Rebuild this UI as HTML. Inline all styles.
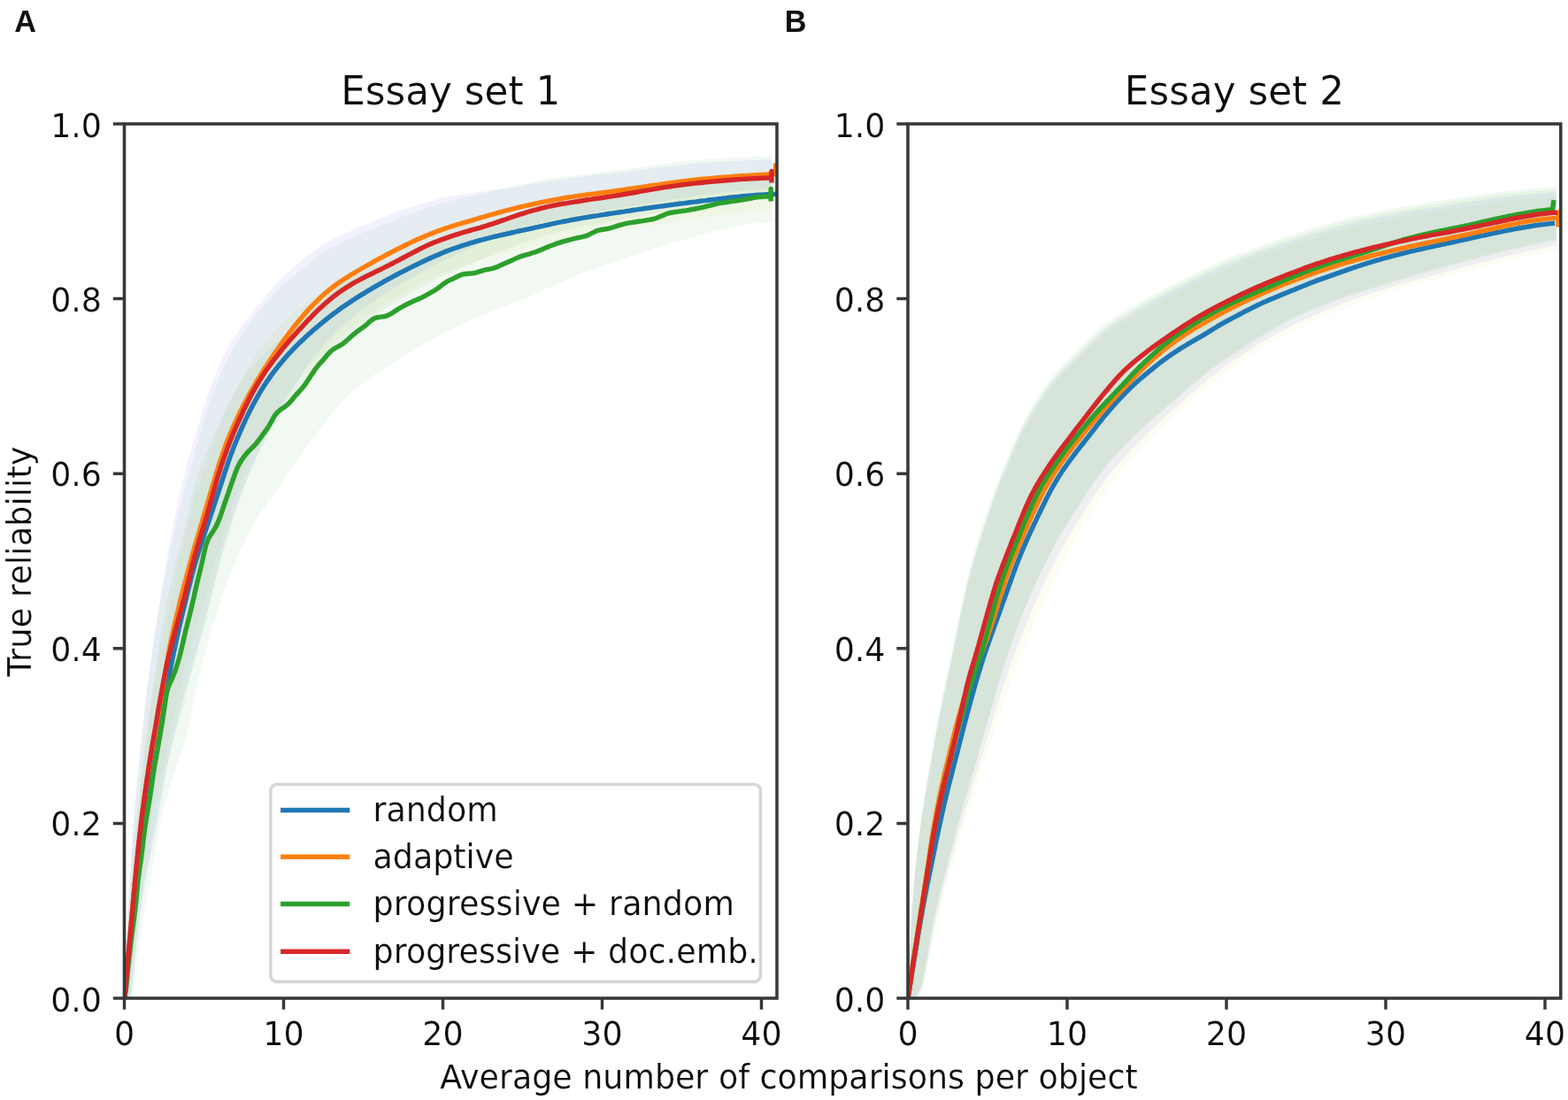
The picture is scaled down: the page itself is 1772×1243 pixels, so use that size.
<!DOCTYPE html>
<html lang="en"><head><meta charset="utf-8"><title>True reliability vs. average number of comparisons per object</title>
<style>html,body{margin:0;padding:0;background:#fff;overflow:hidden}svg{display:block}text{font-family:"DejaVu Sans","Liberation Sans",sans-serif;fill:#0a0a0a;stroke:#fff;stroke-width:0.2px;stroke-linejoin:round}.pl{font-family:"Liberation Sans",sans-serif;font-weight:bold;fill:#111;stroke:none}.ln{fill:none;stroke-width:5.46;stroke-linejoin:round;stroke-linecap:butt}</style></head><body>
<svg width="1772" height="1243" viewBox="0 0 1772 1243">
<g>
<rect width="1772" height="1243" fill="#fff"/>
<defs>
<clipPath id="cL"><rect x="140.5" y="140" width="737.5" height="988"/></clipPath>
<clipPath id="cR"><rect x="1026" y="140" width="737.8" height="988"/></clipPath>
</defs>
<g clip-path="url(#cL)">
<path d="M140.5 1128 L142.5 1093.2 L144.5 1060.2 L146.5 1029.8 L148.5 1001.5 L150.5 977.5 L152.5 955.5 L154.5 934.3 L156.5 913.7 L158.5 893.9 L160.5 874.7 L162.5 856.5 L164.5 839.3 L166.5 822.9 L168.5 807.8 L170.5 793.9 L172.5 781.4 L174.5 770.1 L176.5 759.6 L178.5 749.6 L180.5 739.8 L182.5 730.1 L184.5 720.4 L186.5 711 L188.5 701.5 L190.5 692.1 L192.5 682.7 L194.5 673.2 L196.5 663.7 L198.5 654.1 L200.5 644.5 L202.5 635.1 L204.5 625.9 L206.5 617 L208.5 608.3 L210.5 599.9 L212.5 591.8 L214.5 584.1 L216.5 576.7 L218.5 569.7 L220.5 562.9 L222.5 556.4 L224.5 550.1 L226.5 544 L228.5 537.9 L230.5 532 L232.5 526.3 L234.5 520.7 L236.5 515.2 L238.5 509.9 L240.5 504.8 L242.5 499.7 L244.5 494.7 L246.5 489.6 L248.5 484.5 L250.5 479.4 L252.5 474.2 L254.5 469 L256.5 463.9 L258.5 458.9 L260.5 454 L262.5 449.4 L264.5 444.9 L266.5 440.6 L268.5 436.4 L270.5 432.5 L272.5 428.6 L274.5 424.9 L276.5 421.3 L278.5 417.8 L280.5 414.4 L282.5 411 L284.5 407.7 L286.5 404.6 L288.5 401.5 L290.5 398.6 L292.5 395.7 L294.5 392.9 L296.5 390.1 L298.5 387.5 L300.5 384.9 L302.5 382.4 L304.5 380 L306.5 377.7 L308.5 375.4 L310.5 373.2 L312.5 371.1 L314.5 369 L316.5 367 L318.5 365 L320.5 363.1 L322.5 361.3 L324.5 359.5 L326.5 357.8 L328.5 356.1 L330.5 354.4 L332.5 352.8 L334.5 351.2 L336.5 349.7 L338.5 348.2 L340.5 346.7 L342.5 345.2 L344.5 343.8 L346.5 342.3 L348.5 340.9 L350.5 339.5 L352.5 338.1 L354.5 336.7 L356.5 335.3 L358.5 334 L360.5 332.6 L362.5 331.3 L364.5 330 L366.5 328.7 L368.5 327.4 L370.5 326.1 L372.5 324.9 L374.5 323.6 L376.5 322.4 L378.5 321.2 L380.5 320 L382.5 318.8 L384.5 317.7 L386.5 316.5 L388.5 315.4 L390.5 314.2 L392.5 313.1 L394.5 311.9 L396.5 310.8 L398.5 309.7 L400.5 308.6 L402.5 307.5 L404.5 306.4 L406.5 305.3 L408.5 304.3 L410.5 303.2 L412.5 302.2 L414.5 301.1 L416.5 300.1 L418.5 299.1 L420.5 298.1 L422.5 297.1 L424.5 296.1 L426.5 295.1 L428.5 294.1 L430.5 293.1 L432.5 292.2 L434.5 291.2 L436.5 290.3 L438.5 289.3 L440.5 288.4 L442.5 287.5 L444.5 286.6 L446.5 285.7 L448.5 284.8 L450.5 283.9 L452.5 283 L454.5 282.1 L456.5 281.2 L458.5 280.4 L460.5 279.5 L462.5 278.6 L464.5 277.8 L466.5 276.9 L468.5 276.1 L470.5 275.2 L472.5 274.4 L474.5 273.5 L476.5 272.7 L478.5 271.8 L480.5 271 L482.5 270.1 L484.5 269.3 L486.5 268.5 L488.5 267.6 L490.5 266.8 L492.5 266 L494.5 265.2 L496.5 264.5 L498.5 263.7 L500.5 262.9 L502.5 262.2 L504.5 261.4 L506.5 260.7 L508.5 260 L510.5 259.3 L512.5 258.6 L514.5 257.9 L516.5 257.3 L518.5 256.6 L520.5 256 L522.5 255.4 L524.5 254.7 L526.5 254.1 L528.5 253.5 L530.5 253 L532.5 252.4 L534.5 251.8 L536.5 251.2 L538.5 250.7 L540.5 250.1 L542.5 249.6 L544.5 249.1 L546.5 248.5 L548.5 248 L550.5 247.5 L552.5 247 L554.5 246.5 L556.5 246 L558.5 245.5 L560.5 245 L562.5 244.5 L564.5 244.1 L566.5 243.6 L568.5 243.1 L570.5 242.7 L572.5 242.2 L574.5 241.8 L576.5 241.3 L578.5 240.9 L580.5 240.4 L582.5 240 L584.5 239.6 L586.5 239.2 L588.5 238.7 L590.5 238.3 L592.5 237.9 L594.5 237.5 L596.5 237.1 L598.5 236.7 L600.5 236.3 L602.5 235.9 L604.5 235.5 L606.5 235.1 L608.5 234.7 L610.5 234.3 L612.5 233.9 L614.5 233.5 L616.5 233.1 L618.5 232.7 L620.5 232.3 L622.5 231.9 L624.5 231.5 L626.5 231.1 L628.5 230.8 L630.5 230.4 L632.5 230 L634.5 229.6 L636.5 229.2 L638.5 228.8 L640.5 228.4 L642.5 228.1 L644.5 227.7 L646.5 227.3 L648.5 227 L650.5 226.6 L652.5 226.3 L654.5 226 L656.5 225.6 L658.5 225.3 L660.5 225 L662.5 224.7 L664.5 224.4 L666.5 224 L668.5 223.7 L670.5 223.4 L672.5 223.1 L674.5 222.9 L676.5 222.6 L678.5 222.3 L680.5 222 L682.5 221.7 L684.5 221.4 L686.5 221.2 L688.5 220.9 L690.5 220.6 L692.5 220.3 L694.5 220.1 L696.5 219.8 L698.5 219.6 L700.5 219.3 L702.5 219.1 L704.5 218.8 L706.5 218.6 L708.5 218.4 L710.5 218.1 L712.5 217.9 L714.5 217.7 L716.5 217.4 L718.5 217.2 L720.5 217 L722.5 216.7 L724.5 216.5 L726.5 216.3 L728.5 216 L730.5 215.8 L732.5 215.6 L734.5 215.3 L736.5 215.1 L738.5 214.9 L740.5 214.7 L742.5 214.5 L744.5 214.2 L746.5 214 L748.5 213.8 L750.5 213.6 L752.5 213.4 L754.5 213.1 L756.5 212.9 L758.5 212.7 L760.5 212.5 L762.5 212.3 L764.5 212 L766.5 211.8 L768.5 211.6 L770.5 211.3 L772.5 211.1 L774.5 210.9 L776.5 210.6 L778.5 210.4 L780.5 210.2 L782.5 209.9 L784.5 209.7 L786.5 209.5 L788.5 209.2 L790.5 209 L792.5 208.8 L794.5 208.6 L796.5 208.4 L798.5 208.1 L800.5 207.9 L802.5 207.7 L804.5 207.5 L806.5 207.3 L808.5 207.1 L810.5 206.9 L812.5 206.7 L814.5 206.5 L816.5 206.3 L818.5 206.1 L820.5 205.9 L822.5 205.7 L824.5 205.5 L826.5 205.3 L828.5 205.2 L830.5 205 L832.5 204.8 L834.5 204.6 L836.5 204.5 L838.5 204.3 L840.5 204.1 L842.5 204 L844.5 203.8 L846.5 203.6 L848.5 203.5 L850.5 203.3 L852.5 203.2 L854.5 203 L856.5 202.9 L858.5 202.7 L860.5 202.6 L862.5 202.4 L864.5 202.3 L866.5 202.2 L868.5 202 L870.5 201.9 L872.5 201.8 L872.5 237.4 L870.5 237.5 L868.5 237.6 L866.5 237.7 L864.5 237.9 L862.5 238 L860.5 238.1 L858.5 238.3 L856.5 238.4 L854.5 238.6 L852.5 238.8 L850.5 238.9 L848.5 239.1 L846.5 239.3 L844.5 239.5 L842.5 239.6 L840.5 239.8 L838.5 240 L836.5 240.2 L834.5 240.4 L832.5 240.7 L830.5 240.9 L828.5 241.1 L826.5 241.3 L824.5 241.5 L822.5 241.8 L820.5 242 L818.5 242.3 L816.5 242.5 L814.5 242.7 L812.5 243 L810.5 243.2 L808.5 243.5 L806.5 243.8 L804.5 244 L802.5 244.3 L800.5 244.6 L798.5 244.8 L796.5 245.1 L794.5 245.4 L792.5 245.7 L790.5 245.9 L788.5 246.2 L786.5 246.5 L784.5 246.8 L782.5 247.1 L780.5 247.4 L778.5 247.7 L776.5 248 L774.5 248.3 L772.5 248.6 L770.5 248.9 L768.5 249.2 L766.5 249.5 L764.5 249.8 L762.5 250.1 L760.5 250.4 L758.5 250.7 L756.5 251 L754.5 251.3 L752.5 251.6 L750.5 251.9 L748.5 252.2 L746.5 252.5 L744.5 252.8 L742.5 253.1 L740.5 253.4 L738.5 253.8 L736.5 254.1 L734.5 254.4 L732.5 254.7 L730.5 255.1 L728.5 255.4 L726.5 255.7 L724.5 256.1 L722.5 256.4 L720.5 256.7 L718.5 257.1 L716.5 257.4 L714.5 257.7 L712.5 258.1 L710.5 258.4 L708.5 258.7 L706.5 259.1 L704.5 259.4 L702.5 259.7 L700.5 260.1 L698.5 260.4 L696.5 260.7 L694.5 261.1 L692.5 261.4 L690.5 261.8 L688.5 262.1 L686.5 262.5 L684.5 262.8 L682.5 263.1 L680.5 263.5 L678.5 263.8 L676.5 264.2 L674.5 264.5 L672.5 264.9 L670.5 265.2 L668.5 265.6 L666.5 265.9 L664.5 266.3 L662.5 266.6 L660.5 267 L658.5 267.4 L656.5 267.7 L654.5 268.1 L652.5 268.5 L650.5 268.9 L648.5 269.3 L646.5 269.7 L644.5 270.1 L642.5 270.5 L640.5 270.9 L638.5 271.3 L636.5 271.7 L634.5 272.2 L632.5 272.6 L630.5 273 L628.5 273.5 L626.5 273.9 L624.5 274.3 L622.5 274.8 L620.5 275.2 L618.5 275.6 L616.5 276.1 L614.5 276.5 L612.5 276.9 L610.5 277.4 L608.5 277.8 L606.5 278.2 L604.5 278.7 L602.5 279.1 L600.5 279.5 L598.5 280 L596.5 280.4 L594.5 280.9 L592.5 281.3 L590.5 281.8 L588.5 282.3 L586.5 282.7 L584.5 283.2 L582.5 283.7 L580.5 284.1 L578.5 284.6 L576.5 285.1 L574.5 285.6 L572.5 286 L570.5 286.5 L568.5 287 L566.5 287.5 L564.5 288 L562.5 288.5 L560.5 289 L558.5 289.6 L556.5 290.1 L554.5 290.6 L552.5 291.2 L550.5 291.7 L548.5 292.3 L546.5 292.8 L544.5 293.4 L542.5 293.9 L540.5 294.5 L538.5 295.1 L536.5 295.7 L534.5 296.3 L532.5 296.9 L530.5 297.5 L528.5 298.2 L526.5 298.8 L524.5 299.5 L522.5 300.1 L520.5 300.8 L518.5 301.5 L516.5 302.2 L514.5 302.9 L512.5 303.6 L510.5 304.4 L508.5 305.1 L506.5 305.9 L504.5 306.7 L502.5 307.5 L500.5 308.4 L498.5 309.2 L496.5 310.1 L494.5 311 L492.5 311.9 L490.5 312.8 L488.5 313.8 L486.5 314.7 L484.5 315.7 L482.5 316.7 L480.5 317.7 L478.5 318.8 L476.5 319.8 L474.5 320.9 L472.5 322 L470.5 323 L468.5 324.1 L466.5 325.2 L464.5 326.4 L462.5 327.5 L460.5 328.6 L458.5 329.7 L456.5 330.9 L454.5 332.1 L452.5 333.2 L450.5 334.4 L448.5 335.6 L446.5 336.8 L444.5 338 L442.5 339.3 L440.5 340.5 L438.5 341.8 L436.5 343 L434.5 344.3 L432.5 345.6 L430.5 346.9 L428.5 348.2 L426.5 349.5 L424.5 350.9 L422.5 352.2 L420.5 353.6 L418.5 354.9 L416.5 356.3 L414.5 357.7 L412.5 359.1 L410.5 360.5 L408.5 361.9 L406.5 363.4 L404.5 364.9 L402.5 366.3 L400.5 367.8 L398.5 369.4 L396.5 370.9 L394.5 372.5 L392.5 374.1 L390.5 375.7 L388.5 377.3 L386.5 379 L384.5 380.6 L382.5 382.3 L380.5 384 L378.5 385.7 L376.5 387.5 L374.5 389.3 L372.5 391.1 L370.5 392.9 L368.5 394.7 L366.5 396.6 L364.5 398.5 L362.5 400.5 L360.5 402.4 L358.5 404.4 L356.5 406.5 L354.5 408.5 L352.5 410.6 L350.5 412.8 L348.5 415 L346.5 417.2 L344.5 419.5 L342.5 421.8 L340.5 424.2 L338.5 426.6 L336.5 429 L334.5 431.5 L332.5 434.1 L330.5 436.6 L328.5 439.2 L326.5 441.9 L324.5 444.6 L322.5 447.3 L320.5 450.1 L318.5 452.9 L316.5 455.8 L314.5 458.7 L312.5 461.7 L310.5 464.7 L308.5 467.8 L306.5 471 L304.5 474.3 L302.5 477.6 L300.5 481.1 L298.5 484.6 L296.5 488.3 L294.5 492 L292.5 495.9 L290.5 499.9 L288.5 503.9 L286.5 508.1 L284.5 512.5 L282.5 517 L280.5 521.6 L278.5 526.4 L276.5 531.4 L274.5 536.5 L272.5 541.7 L270.5 547.1 L268.5 552.6 L266.5 558.4 L264.5 564.3 L262.5 570.4 L260.5 576.8 L258.5 583.3 L256.5 589.9 L254.5 596.7 L252.5 603.5 L250.5 610.2 L248.5 616.9 L246.5 623.6 L244.5 630.4 L242.5 637.3 L240.5 644.2 L238.5 651.1 L236.5 658 L234.5 664.9 L232.5 671.6 L230.5 678.3 L228.5 684.8 L226.5 691.5 L224.5 698.3 L222.5 705.1 L220.5 712.1 L218.5 719.3 L216.5 726.6 L214.5 734.2 L212.5 742 L210.5 750 L208.5 758.2 L206.5 766.5 L204.5 775.1 L202.5 783.7 L200.5 792.5 L198.5 801.5 L196.5 810.5 L194.5 819.4 L192.5 828.3 L190.5 837.1 L188.5 845.8 L186.5 854.5 L184.5 863.1 L182.5 871.8 L180.5 880.5 L178.5 889.2 L176.5 898 L174.5 906.9 L172.5 916.2 L170.5 926.3 L168.5 937.6 L166.5 949.8 L164.5 962.5 L162.5 975.5 L160.5 989.4 L158.5 1004.6 L156.5 1021.2 L154.5 1039.1 L152.5 1057.4 L150.5 1075.2 L148.5 1091.7 L146.5 1103.9 L144.5 1114.4 L142.5 1122.8 L140.5 1128Z" fill="rgba(191,191,0,0.05)"/>
<path d="M140.5 1128 L142.5 1079.6 L144.5 1035.1 L146.5 995.4 L148.5 959.7 L150.5 933 L152.5 909.8 L154.5 888 L156.5 867.3 L158.5 847.5 L160.5 827.9 L162.5 808.8 L164.5 790.6 L166.5 773.9 L168.5 759.2 L170.5 745.5 L172.5 732.2 L174.5 719 L176.5 706.3 L178.5 694 L180.5 681.9 L182.5 669.3 L184.5 656.3 L186.5 643.5 L188.5 631.2 L190.5 619.6 L192.5 608.5 L194.5 598.2 L196.5 588.4 L198.5 579.1 L200.5 570 L202.5 561 L204.5 552.1 L206.5 543.6 L208.5 535.6 L210.5 528 L212.5 520.8 L214.5 513.7 L216.5 506.7 L218.5 499.8 L220.5 492.9 L222.5 486 L224.5 479.3 L226.5 472.6 L228.5 466 L230.5 459.4 L232.5 453.1 L234.5 447.2 L236.5 441.6 L238.5 436.4 L240.5 431.3 L242.5 426.3 L244.5 421.4 L246.5 416.5 L248.5 411.7 L250.5 407 L252.5 402.6 L254.5 398.5 L256.5 394.6 L258.5 390.9 L260.5 387.3 L262.5 384 L264.5 380.8 L266.5 377.8 L268.5 374.9 L270.5 372.1 L272.5 369.4 L274.5 366.7 L276.5 364.1 L278.5 361.5 L280.5 358.9 L282.5 356.3 L284.5 353.8 L286.5 351.2 L288.5 348.7 L290.5 346.3 L292.5 343.8 L294.5 341.4 L296.5 339.1 L298.5 336.7 L300.5 334.4 L302.5 332.1 L304.5 329.8 L306.5 327.6 L308.5 325.4 L310.5 323.1 L312.5 321 L314.5 318.8 L316.5 316.7 L318.5 314.7 L320.5 312.6 L322.5 310.7 L324.5 308.7 L326.5 306.8 L328.5 305 L330.5 303.2 L332.5 301.4 L334.5 299.7 L336.5 298 L338.5 296.3 L340.5 294.7 L342.5 293.1 L344.5 291.5 L346.5 289.9 L348.5 288.4 L350.5 286.9 L352.5 285.4 L354.5 284 L356.5 282.5 L358.5 281.2 L360.5 279.8 L362.5 278.5 L364.5 277.3 L366.5 276.1 L368.5 274.9 L370.5 273.7 L372.5 272.6 L374.5 271.5 L376.5 270.4 L378.5 269.4 L380.5 268.3 L382.5 267.3 L384.5 266.3 L386.5 265.4 L388.5 264.4 L390.5 263.5 L392.5 262.6 L394.5 261.7 L396.5 260.8 L398.5 259.9 L400.5 259 L402.5 258.2 L404.5 257.3 L406.5 256.5 L408.5 255.6 L410.5 254.8 L412.5 253.9 L414.5 253.1 L416.5 252.2 L418.5 251.4 L420.5 250.6 L422.5 249.8 L424.5 249 L426.5 248.2 L428.5 247.4 L430.5 246.6 L432.5 245.8 L434.5 245 L436.5 244.3 L438.5 243.5 L440.5 242.7 L442.5 242 L444.5 241.2 L446.5 240.5 L448.5 239.8 L450.5 239.1 L452.5 238.3 L454.5 237.6 L456.5 236.9 L458.5 236.2 L460.5 235.5 L462.5 234.8 L464.5 234.2 L466.5 233.5 L468.5 232.8 L470.5 232.2 L472.5 231.5 L474.5 230.9 L476.5 230.3 L478.5 229.6 L480.5 229 L482.5 228.4 L484.5 227.8 L486.5 227.3 L488.5 226.7 L490.5 226.2 L492.5 225.6 L494.5 225.1 L496.5 224.6 L498.5 224.1 L500.5 223.7 L502.5 223.2 L504.5 222.8 L506.5 222.4 L508.5 222 L510.5 221.6 L512.5 221.2 L514.5 220.9 L516.5 220.6 L518.5 220.2 L520.5 219.9 L522.5 219.6 L524.5 219.3 L526.5 219.1 L528.5 218.8 L530.5 218.5 L532.5 218.2 L534.5 218 L536.5 217.7 L538.5 217.4 L540.5 217.2 L542.5 216.9 L544.5 216.7 L546.5 216.4 L548.5 216.1 L550.5 215.9 L552.5 215.6 L554.5 215.3 L556.5 215.1 L558.5 214.8 L560.5 214.5 L562.5 214.2 L564.5 213.9 L566.5 213.6 L568.5 213.3 L570.5 213 L572.5 212.7 L574.5 212.4 L576.5 212.1 L578.5 211.7 L580.5 211.4 L582.5 211.1 L584.5 210.7 L586.5 210.4 L588.5 210.1 L590.5 209.7 L592.5 209.3 L594.5 209 L596.5 208.6 L598.5 208.3 L600.5 207.9 L602.5 207.6 L604.5 207.2 L606.5 206.9 L608.5 206.6 L610.5 206.2 L612.5 205.9 L614.5 205.6 L616.5 205.3 L618.5 204.9 L620.5 204.6 L622.5 204.3 L624.5 204 L626.5 203.7 L628.5 203.4 L630.5 203.1 L632.5 202.8 L634.5 202.5 L636.5 202.2 L638.5 201.9 L640.5 201.7 L642.5 201.4 L644.5 201.1 L646.5 200.9 L648.5 200.6 L650.5 200.4 L652.5 200.1 L654.5 199.9 L656.5 199.7 L658.5 199.4 L660.5 199.2 L662.5 199 L664.5 198.7 L666.5 198.5 L668.5 198.3 L670.5 198 L672.5 197.8 L674.5 197.6 L676.5 197.4 L678.5 197.1 L680.5 196.9 L682.5 196.7 L684.5 196.5 L686.5 196.2 L688.5 196 L690.5 195.8 L692.5 195.6 L694.5 195.3 L696.5 195.1 L698.5 194.9 L700.5 194.6 L702.5 194.4 L704.5 194.1 L706.5 193.9 L708.5 193.7 L710.5 193.4 L712.5 193.2 L714.5 192.9 L716.5 192.7 L718.5 192.5 L720.5 192.2 L722.5 192 L724.5 191.7 L726.5 191.5 L728.5 191.2 L730.5 191 L732.5 190.7 L734.5 190.5 L736.5 190.2 L738.5 190 L740.5 189.8 L742.5 189.5 L744.5 189.3 L746.5 189 L748.5 188.8 L750.5 188.6 L752.5 188.3 L754.5 188.1 L756.5 187.9 L758.5 187.6 L760.5 187.4 L762.5 187.2 L764.5 187 L766.5 186.8 L768.5 186.5 L770.5 186.3 L772.5 186.1 L774.5 185.9 L776.5 185.7 L778.5 185.5 L780.5 185.3 L782.5 185.1 L784.5 184.9 L786.5 184.8 L788.5 184.6 L790.5 184.4 L792.5 184.3 L794.5 184.1 L796.5 184 L798.5 183.8 L800.5 183.7 L802.5 183.6 L804.5 183.4 L806.5 183.3 L808.5 183.2 L810.5 183 L812.5 182.9 L814.5 182.8 L816.5 182.7 L818.5 182.6 L820.5 182.5 L822.5 182.3 L824.5 182.2 L826.5 182.1 L828.5 182 L830.5 181.9 L832.5 181.8 L834.5 181.7 L836.5 181.6 L838.5 181.5 L840.5 181.4 L842.5 181.3 L844.5 181.2 L846.5 181.2 L848.5 181.1 L850.5 181 L852.5 180.9 L854.5 180.8 L856.5 180.7 L858.5 180.6 L860.5 180.5 L862.5 180.4 L864.5 180.3 L866.5 180.3 L868.5 180.2 L870.5 180.1 L872.5 180 L872.5 213.6 L870.5 213.7 L868.5 213.8 L866.5 213.8 L864.5 213.9 L862.5 214 L860.5 214.1 L858.5 214.2 L856.5 214.3 L854.5 214.4 L852.5 214.5 L850.5 214.7 L848.5 214.8 L846.5 214.9 L844.5 215.1 L842.5 215.2 L840.5 215.4 L838.5 215.5 L836.5 215.7 L834.5 215.9 L832.5 216.1 L830.5 216.2 L828.5 216.4 L826.5 216.6 L824.5 216.8 L822.5 217 L820.5 217.3 L818.5 217.5 L816.5 217.7 L814.5 217.9 L812.5 218.2 L810.5 218.4 L808.5 218.6 L806.5 218.9 L804.5 219.1 L802.5 219.4 L800.5 219.6 L798.5 219.9 L796.5 220.1 L794.5 220.4 L792.5 220.7 L790.5 220.9 L788.5 221.2 L786.5 221.5 L784.5 221.8 L782.5 222.1 L780.5 222.4 L778.5 222.7 L776.5 223 L774.5 223.3 L772.5 223.6 L770.5 223.9 L768.5 224.2 L766.5 224.5 L764.5 224.8 L762.5 225.1 L760.5 225.4 L758.5 225.7 L756.5 226 L754.5 226.3 L752.5 226.6 L750.5 227 L748.5 227.3 L746.5 227.6 L744.5 227.9 L742.5 228.2 L740.5 228.6 L738.5 228.9 L736.5 229.2 L734.5 229.5 L732.5 229.9 L730.5 230.2 L728.5 230.5 L726.5 230.8 L724.5 231.2 L722.5 231.5 L720.5 231.8 L718.5 232.2 L716.5 232.5 L714.5 232.8 L712.5 233.2 L710.5 233.5 L708.5 233.8 L706.5 234.1 L704.5 234.5 L702.5 234.8 L700.5 235.1 L698.5 235.5 L696.5 235.8 L694.5 236.1 L692.5 236.4 L690.5 236.8 L688.5 237.1 L686.5 237.4 L684.5 237.8 L682.5 238.1 L680.5 238.4 L678.5 238.7 L676.5 239.1 L674.5 239.4 L672.5 239.7 L670.5 240.1 L668.5 240.4 L666.5 240.7 L664.5 241 L662.5 241.4 L660.5 241.7 L658.5 242.1 L656.5 242.4 L654.5 242.7 L652.5 243.1 L650.5 243.4 L648.5 243.8 L646.5 244.1 L644.5 244.5 L642.5 244.9 L640.5 245.3 L638.5 245.6 L636.5 246 L634.5 246.4 L632.5 246.8 L630.5 247.3 L628.5 247.7 L626.5 248.1 L624.5 248.6 L622.5 249 L620.5 249.5 L618.5 249.9 L616.5 250.4 L614.5 250.8 L612.5 251.3 L610.5 251.8 L608.5 252.3 L606.5 252.8 L604.5 253.3 L602.5 253.8 L600.5 254.4 L598.5 254.9 L596.5 255.4 L594.5 256 L592.5 256.6 L590.5 257.1 L588.5 257.7 L586.5 258.3 L584.5 258.9 L582.5 259.6 L580.5 260.2 L578.5 260.9 L576.5 261.6 L574.5 262.3 L572.5 263 L570.5 263.8 L568.5 264.5 L566.5 265.3 L564.5 266.1 L562.5 266.9 L560.5 267.7 L558.5 268.5 L556.5 269.4 L554.5 270.2 L552.5 271 L550.5 271.9 L548.5 272.7 L546.5 273.6 L544.5 274.5 L542.5 275.3 L540.5 276.2 L538.5 277.1 L536.5 278 L534.5 278.9 L532.5 279.8 L530.5 280.7 L528.5 281.6 L526.5 282.5 L524.5 283.4 L522.5 284.3 L520.5 285.2 L518.5 286.2 L516.5 287.1 L514.5 288 L512.5 289 L510.5 289.9 L508.5 290.9 L506.5 291.9 L504.5 292.8 L502.5 293.8 L500.5 294.8 L498.5 295.8 L496.5 296.8 L494.5 297.8 L492.5 298.8 L490.5 299.9 L488.5 300.9 L486.5 302 L484.5 303 L482.5 304.1 L480.5 305.2 L478.5 306.3 L476.5 307.4 L474.5 308.5 L472.5 309.6 L470.5 310.7 L468.5 311.9 L466.5 313 L464.5 314.2 L462.5 315.3 L460.5 316.5 L458.5 317.7 L456.5 318.9 L454.5 320 L452.5 321.3 L450.5 322.5 L448.5 323.7 L446.5 324.9 L444.5 326.2 L442.5 327.4 L440.5 328.7 L438.5 330 L436.5 331.3 L434.5 332.6 L432.5 333.9 L430.5 335.3 L428.5 336.6 L426.5 338 L424.5 339.4 L422.5 340.8 L420.5 342.2 L418.5 343.7 L416.5 345.1 L414.5 346.6 L412.5 348.1 L410.5 349.6 L408.5 351.1 L406.5 352.7 L404.5 354.2 L402.5 355.8 L400.5 357.4 L398.5 359 L396.5 360.7 L394.5 362.4 L392.5 364.1 L390.5 365.8 L388.5 367.6 L386.5 369.3 L384.5 371.2 L382.5 373 L380.5 374.9 L378.5 376.8 L376.5 378.8 L374.5 380.8 L372.5 382.9 L370.5 385 L368.5 387.1 L366.5 389.3 L364.5 391.6 L362.5 393.9 L360.5 396.2 L358.5 398.6 L356.5 401.1 L354.5 403.7 L352.5 406.3 L350.5 409 L348.5 411.8 L346.5 414.7 L344.5 417.6 L342.5 420.6 L340.5 423.7 L338.5 426.8 L336.5 429.9 L334.5 433.1 L332.5 436.4 L330.5 439.7 L328.5 443.1 L326.5 446.5 L324.5 449.9 L322.5 453.4 L320.5 456.9 L318.5 460.4 L316.5 464 L314.5 467.6 L312.5 471.3 L310.5 474.9 L308.5 478.7 L306.5 482.4 L304.5 486.2 L302.5 490.1 L300.5 494 L298.5 497.9 L296.5 501.9 L294.5 506 L292.5 510.1 L290.5 514.4 L288.5 518.7 L286.5 523.1 L284.5 527.7 L282.5 532.3 L280.5 537.1 L278.5 542 L276.5 547 L274.5 552.2 L272.5 557.5 L270.5 562.8 L268.5 568.4 L266.5 574 L264.5 579.9 L262.5 585.9 L260.5 592 L258.5 598.4 L256.5 604.9 L254.5 611.6 L252.5 618.5 L250.5 625.7 L248.5 633 L246.5 640.6 L244.5 648.6 L242.5 656.8 L240.5 665 L238.5 673.2 L236.5 681.3 L234.5 689.2 L232.5 697 L230.5 704.4 L228.5 711.7 L226.5 719.1 L224.5 726.3 L222.5 733.6 L220.5 740.9 L218.5 748.3 L216.5 755.5 L214.5 762.6 L212.5 769.7 L210.5 776.8 L208.5 783.9 L206.5 791.2 L204.5 798.9 L202.5 806.6 L200.5 814.5 L198.5 822.4 L196.5 830.6 L194.5 839.2 L192.5 848.6 L190.5 858.6 L188.5 869.2 L186.5 880.3 L184.5 891.9 L182.5 903.6 L180.5 914.7 L178.5 925.2 L176.5 935.5 L174.5 945.8 L172.5 955.9 L170.5 965.4 L168.5 974.8 L166.5 984.7 L164.5 994.8 L162.5 1005.5 L160.5 1017.4 L158.5 1031.2 L156.5 1047.5 L154.5 1065.6 L152.5 1084.8 L150.5 1104 L148.5 1121.1 L146.5 1129.7 L144.5 1134.8 L142.5 1134.8 L140.5 1128Z" fill="rgba(0,0,255,0.05)"/>
<path d="M140.5 1128 L142.5 1086.2 L144.5 1048.5 L146.5 1014.9 L148.5 985 L150.5 964.3 L152.5 946.3 L154.5 929 L156.5 911.6 L158.5 894.3 L160.5 876.7 L162.5 859 L164.5 841.5 L166.5 824.9 L168.5 809.5 L170.5 794.7 L172.5 780.7 L174.5 767 L176.5 752.6 L178.5 737.4 L180.5 723.2 L182.5 710.7 L184.5 699.5 L186.5 689.1 L188.5 679.4 L190.5 670.1 L192.5 661.2 L194.5 652.7 L196.5 644.4 L198.5 636.3 L200.5 628.3 L202.5 620.5 L204.5 612.6 L206.5 604.9 L208.5 597.2 L210.5 589.5 L212.5 581.6 L214.5 573.4 L216.5 564.3 L218.5 555.3 L220.5 547.2 L222.5 540.1 L224.5 533.8 L226.5 528 L228.5 522.5 L230.5 517.2 L232.5 512.1 L234.5 507.3 L236.5 502.7 L238.5 498.3 L240.5 493.9 L242.5 489.4 L244.5 485 L246.5 480.4 L248.5 475.8 L250.5 471.4 L252.5 467.1 L254.5 463 L256.5 459.1 L258.5 455.3 L260.5 451.7 L262.5 448.2 L264.5 444.9 L266.5 441.5 L268.5 438.1 L270.5 434.6 L272.5 431.2 L274.5 427.9 L276.5 424.9 L278.5 422.1 L280.5 419.4 L282.5 416.9 L284.5 414.4 L286.5 412.1 L288.5 410 L290.5 407.9 L292.5 405.8 L294.5 403.9 L296.5 402 L298.5 400.1 L300.5 398.3 L302.5 396.5 L304.5 394.7 L306.5 393 L308.5 391.2 L310.5 389.4 L312.5 387.6 L314.5 385.8 L316.5 384.1 L318.5 382.2 L320.5 380.4 L322.5 378.4 L324.5 376.4 L326.5 374.3 L328.5 372.3 L330.5 370.2 L332.5 368.1 L334.5 366 L336.5 364 L338.5 362 L340.5 360 L342.5 358 L344.5 356.1 L346.5 354.2 L348.5 352.3 L350.5 350.5 L352.5 348.7 L354.5 347 L356.5 345.2 L358.5 343.5 L360.5 341.8 L362.5 340 L364.5 338.3 L366.5 336.5 L368.5 334.8 L370.5 333.1 L372.5 331.4 L374.5 329.7 L376.5 328.2 L378.5 326.6 L380.5 325.2 L382.5 323.8 L384.5 322.4 L386.5 321.1 L388.5 319.9 L390.5 318.7 L392.5 317.5 L394.5 316.3 L396.5 315.2 L398.5 314.1 L400.5 313 L402.5 311.9 L404.5 310.9 L406.5 309.9 L408.5 308.9 L410.5 307.9 L412.5 307 L414.5 306 L416.5 305.1 L418.5 304.2 L420.5 303.3 L422.5 302.4 L424.5 301.5 L426.5 300.7 L428.5 299.8 L430.5 298.9 L432.5 298.1 L434.5 297.2 L436.5 296.3 L438.5 295.5 L440.5 294.6 L442.5 293.7 L444.5 292.9 L446.5 292 L448.5 291 L450.5 290.1 L452.5 289.1 L454.5 288.1 L456.5 287.2 L458.5 286.3 L460.5 285.3 L462.5 284.4 L464.5 283.5 L466.5 282.7 L468.5 281.8 L470.5 280.9 L472.5 280 L474.5 279.1 L476.5 278.2 L478.5 277.4 L480.5 276.5 L482.5 275.7 L484.5 274.8 L486.5 274 L488.5 273.2 L490.5 272.4 L492.5 271.6 L494.5 270.8 L496.5 270.1 L498.5 269.3 L500.5 268.5 L502.5 267.7 L504.5 266.9 L506.5 266.1 L508.5 265.4 L510.5 264.6 L512.5 263.9 L514.5 263.2 L516.5 262.5 L518.5 261.8 L520.5 261.1 L522.5 260.4 L524.5 259.8 L526.5 259.1 L528.5 258.5 L530.5 257.9 L532.5 257.2 L534.5 256.6 L536.5 256 L538.5 255.4 L540.5 254.8 L542.5 254.2 L544.5 253.6 L546.5 253.1 L548.5 252.5 L550.5 251.9 L552.5 251.4 L554.5 250.8 L556.5 250.3 L558.5 249.7 L560.5 249.2 L562.5 248.7 L564.5 248.2 L566.5 247.6 L568.5 247.1 L570.5 246.6 L572.5 246.1 L574.5 245.6 L576.5 245.1 L578.5 244.5 L580.5 244 L582.5 243.5 L584.5 243 L586.5 242.5 L588.5 242 L590.5 241.5 L592.5 241 L594.5 240.4 L596.5 239.9 L598.5 239.4 L600.5 238.8 L602.5 238.2 L604.5 237.7 L606.5 237.1 L608.5 236.5 L610.5 235.9 L612.5 235.3 L614.5 234.7 L616.5 234.1 L618.5 233.6 L620.5 233.1 L622.5 232.5 L624.5 232 L626.5 231.5 L628.5 230.9 L630.5 230.4 L632.5 229.9 L634.5 229.3 L636.5 228.8 L638.5 228.3 L640.5 227.9 L642.5 227.4 L644.5 226.9 L646.5 226.5 L648.5 226 L650.5 225.6 L652.5 225.1 L654.5 224.7 L656.5 224.3 L658.5 223.9 L660.5 223.5 L662.5 223.1 L664.5 222.7 L666.5 222.4 L668.5 222 L670.5 221.6 L672.5 221.3 L674.5 220.9 L676.5 220.5 L678.5 220.1 L680.5 219.8 L682.5 219.4 L684.5 219 L686.5 218.7 L688.5 218.3 L690.5 218 L692.5 217.7 L694.5 217.3 L696.5 217 L698.5 216.7 L700.5 216.4 L702.5 216.1 L704.5 215.8 L706.5 215.5 L708.5 215.2 L710.5 214.9 L712.5 214.6 L714.5 214.3 L716.5 214 L718.5 213.7 L720.5 213.4 L722.5 213.2 L724.5 212.9 L726.5 212.6 L728.5 212.3 L730.5 212 L732.5 211.8 L734.5 211.5 L736.5 211.2 L738.5 210.9 L740.5 210.6 L742.5 210.4 L744.5 210.1 L746.5 209.8 L748.5 209.6 L750.5 209.3 L752.5 209 L754.5 208.8 L756.5 208.5 L758.5 208.2 L760.5 207.9 L762.5 207.6 L764.5 207.3 L766.5 207 L768.5 206.7 L770.5 206.4 L772.5 206 L774.5 205.7 L776.5 205.4 L778.5 205.1 L780.5 204.8 L782.5 204.5 L784.5 204.2 L786.5 203.9 L788.5 203.6 L790.5 203.3 L792.5 203 L794.5 202.7 L796.5 202.4 L798.5 202.1 L800.5 201.8 L802.5 201.5 L804.5 201.2 L806.5 201 L808.5 200.7 L810.5 200.4 L812.5 200.1 L814.5 199.9 L816.5 199.6 L818.5 199.3 L820.5 199.1 L822.5 198.8 L824.5 198.6 L826.5 198.3 L828.5 198.1 L830.5 197.8 L832.5 197.6 L834.5 197.3 L836.5 197.1 L838.5 196.8 L840.5 196.6 L842.5 196.3 L844.5 196.1 L846.5 195.9 L848.5 195.6 L850.5 195.4 L852.5 195.2 L854.5 195 L856.5 194.7 L858.5 194.5 L860.5 194.3 L862.5 194.1 L864.5 193.9 L866.5 193.7 L868.5 193.5 L870.5 193.3 L872.5 193.2 L872.5 250.6 L870.5 250.6 L868.5 250.8 L866.5 251 L864.5 251.2 L862.5 251.4 L860.5 251.6 L858.5 251.8 L856.5 252.1 L854.5 252.3 L852.5 252.6 L850.5 252.9 L848.5 253.2 L846.5 253.5 L844.5 253.8 L842.5 254.1 L840.5 254.5 L838.5 254.8 L836.5 255.2 L834.5 255.6 L832.5 256 L830.5 256.4 L828.5 256.8 L826.5 257.2 L824.5 257.6 L822.5 258.1 L820.5 258.5 L818.5 259 L816.5 259.4 L814.5 259.9 L812.5 260.4 L810.5 260.9 L808.5 261.4 L806.5 261.9 L804.5 262.4 L802.5 262.9 L800.5 263.4 L798.5 263.9 L796.5 264.5 L794.5 265 L792.5 265.5 L790.5 266.1 L788.5 266.6 L786.5 267.2 L784.5 267.7 L782.5 268.3 L780.5 268.8 L778.5 269.4 L776.5 269.9 L774.5 270.5 L772.5 271 L770.5 271.6 L768.5 272.1 L766.5 272.7 L764.5 273.2 L762.5 273.8 L760.5 274.4 L758.5 275 L756.5 275.6 L754.5 276.2 L752.5 276.7 L750.5 277.3 L748.5 277.9 L746.5 278.5 L744.5 279.1 L742.5 279.7 L740.5 280.3 L738.5 281 L736.5 281.6 L734.5 282.2 L732.5 282.9 L730.5 283.5 L728.5 284.2 L726.5 284.9 L724.5 285.5 L722.5 286.2 L720.5 286.9 L718.5 287.5 L716.5 288.2 L714.5 288.9 L712.5 289.5 L710.5 290.2 L708.5 290.9 L706.5 291.6 L704.5 292.3 L702.5 293 L700.5 293.7 L698.5 294.4 L696.5 295.1 L694.5 295.8 L692.5 296.5 L690.5 297.2 L688.5 297.9 L686.5 298.6 L684.5 299.3 L682.5 300.1 L680.5 300.8 L678.5 301.5 L676.5 302.2 L674.5 303 L672.5 303.7 L670.5 304.4 L668.5 305.1 L666.5 305.9 L664.5 306.6 L662.5 307.3 L660.5 308.1 L658.5 308.8 L656.5 309.6 L654.5 310.4 L652.5 311.2 L650.5 312 L648.5 312.8 L646.5 313.7 L644.5 314.5 L642.5 315.3 L640.5 316.1 L638.5 317 L636.5 317.9 L634.5 318.7 L632.5 319.6 L630.5 320.5 L628.5 321.4 L626.5 322.3 L624.5 323.2 L622.5 324.1 L620.5 324.9 L618.5 325.8 L616.5 326.7 L614.5 327.6 L612.5 328.6 L610.5 329.5 L608.5 330.4 L606.5 331.3 L604.5 332.3 L602.5 333.2 L600.5 334.1 L598.5 334.9 L596.5 335.8 L594.5 336.7 L592.5 337.5 L590.5 338.3 L588.5 339.1 L586.5 339.9 L584.5 340.7 L582.5 341.5 L580.5 342.3 L578.5 343.1 L576.5 343.9 L574.5 344.7 L572.5 345.5 L570.5 346.2 L568.5 347 L566.5 347.8 L564.5 348.6 L562.5 349.3 L560.5 350.1 L558.5 350.9 L556.5 351.7 L554.5 352.5 L552.5 353.3 L550.5 354.1 L548.5 354.9 L546.5 355.7 L544.5 356.5 L542.5 357.3 L540.5 358.2 L538.5 359 L536.5 359.9 L534.5 360.7 L532.5 361.6 L530.5 362.5 L528.5 363.3 L526.5 364.2 L524.5 365.1 L522.5 366.1 L520.5 367 L518.5 367.9 L516.5 368.9 L514.5 369.8 L512.5 370.8 L510.5 371.8 L508.5 372.9 L506.5 373.9 L504.5 375 L502.5 376.1 L500.5 377.2 L498.5 378.3 L496.5 379.3 L494.5 380.4 L492.5 381.5 L490.5 382.6 L488.5 383.7 L486.5 384.8 L484.5 385.9 L482.5 387 L480.5 388.1 L478.5 389.3 L476.5 390.4 L474.5 391.6 L472.5 392.8 L470.5 394 L468.5 395.2 L466.5 396.4 L464.5 397.5 L462.5 398.7 L460.5 400 L458.5 401.2 L456.5 402.5 L454.5 403.7 L452.5 405 L450.5 406.3 L448.5 407.6 L446.5 408.9 L444.5 410.2 L442.5 411.4 L440.5 412.6 L438.5 413.9 L436.5 415.1 L434.5 416.4 L432.5 417.6 L430.5 418.9 L428.5 420.2 L426.5 421.4 L424.5 422.7 L422.5 424 L420.5 425.4 L418.5 426.7 L416.5 428.1 L414.5 429.5 L412.5 430.9 L410.5 432.4 L408.5 433.9 L406.5 435.5 L404.5 437.1 L402.5 438.8 L400.5 440.5 L398.5 442.3 L396.5 444.1 L394.5 446 L392.5 448 L390.5 450 L388.5 452 L386.5 454.1 L384.5 456.2 L382.5 458.4 L380.5 460.7 L378.5 463.1 L376.5 465.5 L374.5 468 L372.5 470.5 L370.5 473.1 L368.5 475.7 L366.5 478.3 L364.5 481 L362.5 483.6 L360.5 486.3 L358.5 488.9 L356.5 491.5 L354.5 494 L352.5 496.6 L350.5 499.2 L348.5 501.9 L346.5 504.6 L344.5 507.4 L342.5 510.1 L340.5 513 L338.5 515.8 L336.5 518.7 L334.5 521.6 L332.5 524.6 L330.5 527.5 L328.5 530.5 L326.5 533.5 L324.5 536.5 L322.5 539.5 L320.5 542.4 L318.5 545.2 L316.5 548.1 L314.5 550.9 L312.5 553.7 L310.5 556.5 L308.5 559.4 L306.5 562.2 L304.5 565.1 L302.5 567.9 L300.5 570.8 L298.5 573.8 L296.5 576.8 L294.5 579.8 L292.5 582.9 L290.5 586.1 L288.5 589.4 L286.5 592.7 L284.5 596.2 L282.5 599.8 L280.5 603.6 L278.5 607.4 L276.5 611.4 L274.5 615.6 L272.5 620.1 L270.5 624.7 L268.5 629.3 L266.5 634 L264.5 638.7 L262.5 643.3 L260.5 648.2 L258.5 653.1 L256.5 658.3 L254.5 663.7 L252.5 669.4 L250.5 675.2 L248.5 681.3 L246.5 687.7 L244.5 694.3 L242.5 700.9 L240.5 707.6 L238.5 714.4 L236.5 721.2 L234.5 728.1 L232.5 735.2 L230.5 742.4 L228.5 750 L226.5 758 L224.5 766.4 L222.5 775.4 L220.5 784.9 L218.5 795.1 L216.5 805.9 L214.5 816.1 L212.5 824.7 L210.5 832.2 L208.5 839.2 L206.5 845.7 L204.5 851.8 L202.5 857.8 L200.5 863.7 L198.5 869.6 L196.5 875.7 L194.5 881.9 L192.5 888.4 L190.5 895 L188.5 901.9 L186.5 909.1 L184.5 916.7 L182.5 925.1 L180.5 934.7 L178.5 945.9 L176.5 958.1 L174.5 969.4 L172.5 979.8 L170.5 990.4 L168.5 1001.3 L166.5 1012.2 L164.5 1022.7 L162.5 1033.5 L160.5 1045.1 L158.5 1058.3 L156.5 1073.3 L154.5 1089.1 L152.5 1104.9 L150.5 1120.4 L148.5 1133.5 L146.5 1137.9 L144.5 1139 L142.5 1136.2 L140.5 1128Z" fill="rgba(0,128,0,0.05)"/>
<path d="M140.5 1128 L142.5 1082.1 L144.5 1039 L146.5 999.3 L148.5 962.9 L150.5 936.4 L152.5 913.1 L154.5 891.3 L156.5 871.2 L158.5 852.1 L160.5 832.9 L162.5 813.6 L164.5 795.4 L166.5 778.6 L168.5 763.2 L170.5 748.4 L172.5 734 L174.5 720.1 L176.5 707 L178.5 694.5 L180.5 682.1 L182.5 670.2 L184.5 659 L186.5 648.4 L188.5 638.4 L190.5 628.9 L192.5 619.9 L194.5 611.4 L196.5 603.1 L198.5 594.9 L200.5 586.8 L202.5 578.7 L204.5 570.7 L206.5 562.6 L208.5 554.6 L210.5 546.9 L212.5 539.3 L214.5 532 L216.5 524.6 L218.5 517.2 L220.5 509.9 L222.5 502.8 L224.5 495.8 L226.5 488.8 L228.5 481.9 L230.5 475 L232.5 468.4 L234.5 462.1 L236.5 456.3 L238.5 450.8 L240.5 445.6 L242.5 440.5 L244.5 435.4 L246.5 430.4 L248.5 425.3 L250.5 420.3 L252.5 415.5 L254.5 411 L256.5 406.7 L258.5 402.7 L260.5 398.8 L262.5 395.2 L264.5 391.7 L266.5 388.3 L268.5 385 L270.5 381.8 L272.5 378.7 L274.5 375.7 L276.5 372.8 L278.5 370 L280.5 367.2 L282.5 364.4 L284.5 361.7 L286.5 359 L288.5 356.4 L290.5 353.9 L292.5 351.4 L294.5 349 L296.5 346.6 L298.5 344.3 L300.5 342 L302.5 339.7 L304.5 337.5 L306.5 335.3 L308.5 333.2 L310.5 331.2 L312.5 329.1 L314.5 327.2 L316.5 325.2 L318.5 323.3 L320.5 321.5 L322.5 319.7 L324.5 317.9 L326.5 316.1 L328.5 314.3 L330.5 312.6 L332.5 310.9 L334.5 309.2 L336.5 307.5 L338.5 305.9 L340.5 304.3 L342.5 302.7 L344.5 301.1 L346.5 299.5 L348.5 298 L350.5 296.5 L352.5 295 L354.5 293.5 L356.5 292 L358.5 290.5 L360.5 289.1 L362.5 287.7 L364.5 286.4 L366.5 285.1 L368.5 283.8 L370.5 282.6 L372.5 281.4 L374.5 280.2 L376.5 279 L378.5 277.9 L380.5 276.8 L382.5 275.7 L384.5 274.7 L386.5 273.7 L388.5 272.7 L390.5 271.7 L392.5 270.8 L394.5 269.9 L396.5 268.9 L398.5 268 L400.5 267.1 L402.5 266.3 L404.5 265.4 L406.5 264.5 L408.5 263.7 L410.5 262.8 L412.5 262 L414.5 261.2 L416.5 260.3 L418.5 259.5 L420.5 258.7 L422.5 257.9 L424.5 257.1 L426.5 256.2 L428.5 255.4 L430.5 254.6 L432.5 253.8 L434.5 253 L436.5 252.2 L438.5 251.4 L440.5 250.6 L442.5 249.9 L444.5 249.1 L446.5 248.3 L448.5 247.6 L450.5 246.8 L452.5 246 L454.5 245.3 L456.5 244.5 L458.5 243.7 L460.5 243 L462.5 242.2 L464.5 241.5 L466.5 240.7 L468.5 240 L470.5 239.3 L472.5 238.5 L474.5 237.8 L476.5 237.1 L478.5 236.4 L480.5 235.7 L482.5 235 L484.5 234.4 L486.5 233.7 L488.5 233 L490.5 232.4 L492.5 231.7 L494.5 231.1 L496.5 230.5 L498.5 229.9 L500.5 229.3 L502.5 228.7 L504.5 228.2 L506.5 227.7 L508.5 227.2 L510.5 226.7 L512.5 226.2 L514.5 225.7 L516.5 225.2 L518.5 224.7 L520.5 224.2 L522.5 223.7 L524.5 223.3 L526.5 222.8 L528.5 222.3 L530.5 221.9 L532.5 221.4 L534.5 220.9 L536.5 220.5 L538.5 220 L540.5 219.6 L542.5 219.1 L544.5 218.6 L546.5 218.2 L548.5 217.7 L550.5 217.3 L552.5 216.8 L554.5 216.4 L556.5 215.9 L558.5 215.5 L560.5 215 L562.5 214.5 L564.5 214.1 L566.5 213.6 L568.5 213.2 L570.5 212.7 L572.5 212.3 L574.5 211.8 L576.5 211.3 L578.5 210.9 L580.5 210.4 L582.5 210 L584.5 209.5 L586.5 209 L588.5 208.6 L590.5 208.1 L592.5 207.7 L594.5 207.2 L596.5 206.8 L598.5 206.3 L600.5 205.9 L602.5 205.5 L604.5 205.1 L606.5 204.7 L608.5 204.3 L610.5 203.9 L612.5 203.5 L614.5 203.1 L616.5 202.8 L618.5 202.4 L620.5 202.1 L622.5 201.7 L624.5 201.4 L626.5 201.1 L628.5 200.8 L630.5 200.5 L632.5 200.2 L634.5 199.9 L636.5 199.6 L638.5 199.4 L640.5 199.1 L642.5 198.8 L644.5 198.6 L646.5 198.3 L648.5 198.1 L650.5 197.9 L652.5 197.7 L654.5 197.4 L656.5 197.2 L658.5 197 L660.5 196.8 L662.5 196.6 L664.5 196.4 L666.5 196.2 L668.5 196 L670.5 195.8 L672.5 195.6 L674.5 195.4 L676.5 195.1 L678.5 194.9 L680.5 194.6 L682.5 194.4 L684.5 194.1 L686.5 193.8 L688.5 193.6 L690.5 193.3 L692.5 193 L694.5 192.8 L696.5 192.5 L698.5 192.2 L700.5 192 L702.5 191.7 L704.5 191.4 L706.5 191.1 L708.5 190.8 L710.5 190.6 L712.5 190.3 L714.5 190 L716.5 189.7 L718.5 189.4 L720.5 189.1 L722.5 188.8 L724.5 188.6 L726.5 188.3 L728.5 188 L730.5 187.7 L732.5 187.4 L734.5 187.1 L736.5 186.9 L738.5 186.6 L740.5 186.3 L742.5 186 L744.5 185.7 L746.5 185.5 L748.5 185.2 L750.5 184.9 L752.5 184.7 L754.5 184.4 L756.5 184.1 L758.5 183.9 L760.5 183.6 L762.5 183.4 L764.5 183.1 L766.5 182.9 L768.5 182.7 L770.5 182.4 L772.5 182.2 L774.5 182 L776.5 181.8 L778.5 181.6 L780.5 181.4 L782.5 181.2 L784.5 181 L786.5 180.8 L788.5 180.6 L790.5 180.5 L792.5 180.3 L794.5 180.1 L796.5 180 L798.5 179.8 L800.5 179.7 L802.5 179.6 L804.5 179.4 L806.5 179.3 L808.5 179.2 L810.5 179 L812.5 178.9 L814.5 178.8 L816.5 178.7 L818.5 178.6 L820.5 178.4 L822.5 178.3 L824.5 178.2 L826.5 178.1 L828.5 178 L830.5 177.9 L832.5 177.8 L834.5 177.7 L836.5 177.6 L838.5 177.5 L840.5 177.5 L842.5 177.4 L844.5 177.3 L846.5 177.2 L848.5 177.1 L850.5 177 L852.5 176.9 L854.5 176.8 L856.5 176.8 L858.5 176.7 L860.5 176.6 L862.5 176.5 L864.5 176.4 L866.5 176.4 L868.5 176.3 L870.5 176.2 L872.5 176.2 L872.5 225.6 L870.5 225.6 L868.5 225.7 L866.5 225.8 L864.5 225.8 L862.5 225.9 L860.5 226 L858.5 226.1 L856.5 226.2 L854.5 226.3 L852.5 226.4 L850.5 226.5 L848.5 226.6 L846.5 226.8 L844.5 226.9 L842.5 227.1 L840.5 227.2 L838.5 227.4 L836.5 227.5 L834.5 227.7 L832.5 227.9 L830.5 228.1 L828.5 228.2 L826.5 228.4 L824.5 228.6 L822.5 228.8 L820.5 229.1 L818.5 229.3 L816.5 229.5 L814.5 229.7 L812.5 230 L810.5 230.2 L808.5 230.4 L806.5 230.7 L804.5 230.9 L802.5 231.2 L800.5 231.4 L798.5 231.7 L796.5 232 L794.5 232.2 L792.5 232.5 L790.5 232.8 L788.5 233.1 L786.5 233.3 L784.5 233.6 L782.5 233.9 L780.5 234.2 L778.5 234.5 L776.5 234.8 L774.5 235.2 L772.5 235.5 L770.5 235.8 L768.5 236.1 L766.5 236.4 L764.5 236.7 L762.5 237.1 L760.5 237.4 L758.5 237.7 L756.5 238.1 L754.5 238.4 L752.5 238.7 L750.5 239.1 L748.5 239.4 L746.5 239.8 L744.5 240.1 L742.5 240.5 L740.5 240.8 L738.5 241.2 L736.5 241.6 L734.5 241.9 L732.5 242.3 L730.5 242.6 L728.5 243 L726.5 243.4 L724.5 243.7 L722.5 244.1 L720.5 244.4 L718.5 244.8 L716.5 245.2 L714.5 245.6 L712.5 245.9 L710.5 246.3 L708.5 246.7 L706.5 247 L704.5 247.4 L702.5 247.8 L700.5 248.2 L698.5 248.5 L696.5 248.9 L694.5 249.3 L692.5 249.6 L690.5 250 L688.5 250.4 L686.5 250.8 L684.5 251.2 L682.5 251.5 L680.5 251.9 L678.5 252.3 L676.5 252.7 L674.5 253.1 L672.5 253.4 L670.5 253.8 L668.5 254.2 L666.5 254.5 L664.5 254.9 L662.5 255.2 L660.5 255.6 L658.5 256 L656.5 256.4 L654.5 256.8 L652.5 257.3 L650.5 257.7 L648.5 258.1 L646.5 258.6 L644.5 259 L642.5 259.5 L640.5 260 L638.5 260.4 L636.5 260.9 L634.5 261.4 L632.5 262 L630.5 262.5 L628.5 263 L626.5 263.6 L624.5 264.1 L622.5 264.7 L620.5 265.3 L618.5 265.9 L616.5 266.5 L614.5 267.1 L612.5 267.7 L610.5 268.4 L608.5 269 L606.5 269.7 L604.5 270.4 L602.5 271.1 L600.5 271.7 L598.5 272.4 L596.5 273.1 L594.5 273.9 L592.5 274.6 L590.5 275.3 L588.5 276 L586.5 276.8 L584.5 277.5 L582.5 278.3 L580.5 279 L578.5 279.8 L576.5 280.5 L574.5 281.3 L572.5 282.1 L570.5 282.9 L568.5 283.6 L566.5 284.4 L564.5 285.2 L562.5 286 L560.5 286.8 L558.5 287.6 L556.5 288.4 L554.5 289.2 L552.5 290 L550.5 290.8 L548.5 291.6 L546.5 292.4 L544.5 293.2 L542.5 294.1 L540.5 294.9 L538.5 295.7 L536.5 296.5 L534.5 297.4 L532.5 298.2 L530.5 299.1 L528.5 299.9 L526.5 300.7 L524.5 301.6 L522.5 302.5 L520.5 303.3 L518.5 304.2 L516.5 305.1 L514.5 305.9 L512.5 306.8 L510.5 307.7 L508.5 308.6 L506.5 309.5 L504.5 310.4 L502.5 311.4 L500.5 312.3 L498.5 313.3 L496.5 314.2 L494.5 315.2 L492.5 316.3 L490.5 317.3 L488.5 318.3 L486.5 319.4 L484.5 320.5 L482.5 321.5 L480.5 322.6 L478.5 323.7 L476.5 324.8 L474.5 325.9 L472.5 327 L470.5 328.1 L468.5 329.3 L466.5 330.4 L464.5 331.5 L462.5 332.7 L460.5 333.9 L458.5 335 L456.5 336.2 L454.5 337.4 L452.5 338.6 L450.5 339.8 L448.5 341 L446.5 342.2 L444.5 343.4 L442.5 344.6 L440.5 345.8 L438.5 347.1 L436.5 348.3 L434.5 349.6 L432.5 350.9 L430.5 352.2 L428.5 353.5 L426.5 354.8 L424.5 356.1 L422.5 357.4 L420.5 358.7 L418.5 360.1 L416.5 361.5 L414.5 362.8 L412.5 364.2 L410.5 365.6 L408.5 367 L406.5 368.4 L404.5 369.9 L402.5 371.4 L400.5 372.9 L398.5 374.4 L396.5 375.9 L394.5 377.5 L392.5 379.1 L390.5 380.8 L388.5 382.4 L386.5 384.1 L384.5 385.9 L382.5 387.6 L380.5 389.4 L378.5 391.3 L376.5 393.2 L374.5 395.1 L372.5 397.1 L370.5 399.1 L368.5 401.2 L366.5 403.3 L364.5 405.4 L362.5 407.6 L360.5 409.9 L358.5 412.2 L356.5 414.5 L354.5 416.9 L352.5 419.3 L350.5 421.8 L348.5 424.3 L346.5 426.9 L344.5 429.5 L342.5 432.1 L340.5 434.8 L338.5 437.5 L336.5 440.3 L334.5 443.1 L332.5 445.9 L330.5 448.8 L328.5 451.7 L326.5 454.7 L324.5 457.7 L322.5 460.7 L320.5 463.8 L318.5 466.8 L316.5 470 L314.5 473.2 L312.5 476.4 L310.5 479.7 L308.5 483 L306.5 486.5 L304.5 490 L302.5 493.5 L300.5 497.2 L298.5 500.9 L296.5 504.7 L294.5 508.6 L292.5 512.6 L290.5 516.7 L288.5 520.9 L286.5 525.2 L284.5 529.7 L282.5 534.3 L280.5 539.1 L278.5 544.1 L276.5 549.2 L274.5 554.5 L272.5 560 L270.5 565.7 L268.5 571.6 L266.5 577.5 L264.5 583.6 L262.5 589.9 L260.5 596.3 L258.5 602.9 L256.5 609.7 L254.5 616.7 L252.5 623.8 L250.5 631.2 L248.5 638.7 L246.5 646.4 L244.5 654.4 L242.5 662.5 L240.5 670.7 L238.5 678.8 L236.5 686.9 L234.5 694.9 L232.5 702.7 L230.5 710.2 L228.5 717.4 L226.5 724.7 L224.5 732 L222.5 739.3 L220.5 746.6 L218.5 754.1 L216.5 761.6 L214.5 769.1 L212.5 776.5 L210.5 783.9 L208.5 791.3 L206.5 798.8 L204.5 806.2 L202.5 813.5 L200.5 820.7 L198.5 827.9 L196.5 835.2 L194.5 842.6 L192.5 850.2 L190.5 858.1 L188.5 866.3 L186.5 874.9 L184.5 884 L182.5 893.5 L180.5 903.6 L178.5 914 L176.5 924.4 L174.5 934.8 L172.5 945.5 L170.5 956.3 L168.5 967 L166.5 977.6 L164.5 988 L162.5 999.1 L160.5 1011.7 L158.5 1026 L156.5 1042.3 L154.5 1060.6 L152.5 1080.5 L150.5 1100.8 L148.5 1118.7 L146.5 1127.6 L144.5 1133 L142.5 1133.8 L140.5 1128Z" fill="rgba(0,128,0,0.05)"/>
<path class="ln" stroke="#1f77b4" d="M140.6 1128 L140.9 1125 L141.1 1122 L141.4 1119 L141.7 1116 L142 1113 L142.3 1110.1 L142.5 1107.1 L142.8 1104.1 L143.1 1101.1 L143.4 1098.1 L143.7 1095.1 L144 1092.1 L144.3 1089.1 L144.6 1086.1 L144.9 1083.1 L145.2 1080.2 L145.5 1077.2 L145.8 1074.2 L146.1 1071.2 L146.3 1068.2 L146.7 1065.2 L147 1062.2 L147.3 1059.2 L147.6 1056.2 L147.9 1053.3 L148.1 1050.3 L148.4 1047.3 L148.7 1044.3 L149 1041.3 L149.3 1038.3 L149.7 1035.3 L150 1032.3 L150.3 1029.3 L150.6 1026.4 L150.9 1023.4 L151.2 1020.4 L151.5 1017.4 L151.8 1014.4 L152.1 1011.4 L152.4 1008.4 L152.7 1005.4 L153 1002.5 L153.3 999.5 L153.6 996.5 L153.9 993.5 L154.2 990.5 L154.5 987.5 L154.8 984.5 L155.1 981.5 L155.4 978.5 L155.7 975.6 L156 972.6 L156.3 969.6 L156.6 966.6 L156.9 963.6 L157.2 960.6 L157.6 957.6 L157.9 954.6 L158.2 951.7 L158.5 948.7 L158.9 945.7 L159.2 942.7 L159.6 939.7 L159.9 936.7 L160.3 933.8 L160.6 930.8 L161 927.8 L161.4 924.8 L161.8 921.8 L162.1 918.8 L162.5 915.9 L162.9 912.9 L163.3 909.9 L163.7 906.9 L164.1 904 L164.5 901 L164.9 898 L165.3 895 L165.7 892.1 L166.2 889.1 L166.6 886.1 L167 883.1 L167.5 880.2 L167.9 877.2 L168.3 874.2 L168.8 871.2 L169.2 868.3 L169.7 865.3 L170.1 862.3 L170.6 859.4 L171.1 856.4 L171.6 853.4 L172.1 850.5 L172.6 847.5 L173.2 844.6 L173.7 841.6 L174.3 838.7 L174.9 835.7 L175.5 832.8 L176.1 829.8 L176.7 826.9 L177.3 824 L178 821 L178.7 818.1 L179.3 815.2 L180 812.2 L180.6 809.3 L181.3 806.4 L182 803.5 L182.7 800.5 L183.3 797.6 L184 794.7 L184.7 791.8 L185.3 788.8 L186 785.9 L186.6 783 L187.3 780 L187.9 777.1 L188.6 774.2 L189.2 771.2 L189.9 768.3 L190.5 765.4 L191.1 762.5 L191.8 759.5 L192.4 756.6 L193 753.6 L193.6 750.7 L194.2 747.8 L194.8 744.8 L195.4 741.9 L196 738.9 L196.6 736 L197.3 733.1 L197.9 730.1 L198.5 727.2 L199.1 724.2 L199.7 721.3 L200.4 718.4 L201 715.4 L201.7 712.5 L202.3 709.6 L203 706.7 L203.7 703.7 L204.4 700.8 L205.1 697.9 L205.8 695 L206.5 692.1 L207.2 689.1 L208 686.2 L208.7 683.3 L209.4 680.4 L210.1 677.5 L210.8 674.5 L211.5 671.6 L212.2 668.7 L212.9 665.8 L213.6 662.8 L214.4 659.9 L215.1 657 L215.8 654.1 L216.5 651.2 L217.3 648.3 L218.1 645.4 L218.9 642.5 L219.7 639.6 L220.5 636.7 L221.3 633.8 L222.2 631 L223.1 628.1 L224 625.2 L224.9 622.4 L225.8 619.5 L226.7 616.6 L227.6 613.8 L228.5 610.9 L229.5 608.1 L230.4 605.2 L231.3 602.4 L232.3 599.6 L233.3 596.7 L234.2 593.9 L235.2 591 L236.2 588.2 L237.1 585.3 L238.1 582.5 L239 579.7 L240 576.8 L240.9 574 L241.9 571.1 L242.8 568.3 L243.8 565.4 L244.7 562.6 L245.7 559.7 L246.6 556.9 L247.5 554 L248.5 551.1 L249.4 548.3 L250.3 545.4 L251.2 542.6 L252.2 539.7 L253.1 536.9 L254 534 L255 531.2 L255.9 528.3 L256.9 525.5 L257.8 522.6 L258.8 519.8 L259.8 516.9 L260.8 514.1 L261.9 511.3 L262.9 508.5 L264 505.7 L265.1 502.9 L266.2 500.1 L267.4 497.3 L268.5 494.6 L269.7 491.8 L270.9 489 L272.1 486.3 L273.3 483.5 L274.5 480.8 L275.8 478.1 L277 475.3 L278.3 472.6 L279.6 469.9 L280.9 467.2 L282.3 464.5 L283.7 461.8 L285 459.2 L286.4 456.5 L287.9 453.9 L289.3 451.2 L290.8 448.6 L292.3 446 L293.8 443.4 L295.3 440.8 L296.9 438.3 L298.5 435.8 L300.2 433.3 L301.8 430.8 L303.6 428.3 L305.3 425.9 L307 423.4 L308.8 421 L310.6 418.6 L312.5 416.3 L314.3 413.9 L316.2 411.6 L318.2 409.3 L320.1 407 L322 404.7 L324 402.5 L326 400.2 L328.1 398 L330.1 395.8 L332.2 393.7 L334.3 391.5 L336.4 389.4 L338.6 387.3 L340.8 385.2 L342.9 383.2 L345.2 381.1 L347.4 379.1 L349.6 377.1 L351.9 375.1 L354.1 373.1 L356.4 371.1 L358.7 369.2 L361 367.2 L363.3 365.3 L365.6 363.4 L368 361.5 L370.3 359.6 L372.7 357.8 L375 356 L377.4 354.1 L379.9 352.4 L382.3 350.6 L384.7 348.8 L387.2 347.1 L389.6 345.4 L392.1 343.7 L394.6 342.1 L397.1 340.4 L399.6 338.8 L402.2 337.1 L404.7 335.5 L407.2 333.9 L409.8 332.3 L412.4 330.8 L414.9 329.2 L417.5 327.7 L420.1 326.1 L422.7 324.6 L425.3 323.1 L427.9 321.6 L430.5 320.1 L433.1 318.6 L435.7 317.2 L438.4 315.7 L441 314.3 L443.6 312.9 L446.3 311.4 L448.9 310 L451.6 308.6 L454.3 307.3 L457 305.9 L459.6 304.6 L462.3 303.2 L465 301.9 L467.7 300.5 L470.4 299.2 L473.1 297.9 L475.8 296.6 L478.5 295.3 L481.2 294.1 L484 292.8 L486.7 291.5 L489.4 290.3 L492.2 289.1 L494.9 287.9 L497.7 286.7 L500.5 285.5 L503.3 284.4 L506.1 283.3 L508.9 282.3 L511.7 281.3 L514.5 280.3 L517.4 279.3 L520.2 278.3 L523.1 277.4 L525.9 276.5 L528.8 275.6 L531.6 274.7 L534.5 273.9 L537.4 273 L540.3 272.2 L543.2 271.4 L546.1 270.7 L549 269.9 L551.9 269.2 L554.8 268.4 L557.7 267.7 L560.6 267 L563.5 266.4 L566.5 265.7 L569.4 265 L572.3 264.3 L575.3 263.7 L578.2 263 L581.1 262.3 L584 261.7 L587 261 L589.9 260.4 L592.9 259.8 L595.8 259.1 L598.7 258.5 L601.7 257.8 L604.6 257.2 L607.5 256.6 L610.5 255.9 L613.4 255.3 L616.3 254.6 L619.3 254 L622.2 253.3 L625.1 252.7 L628.1 252.1 L631 251.4 L633.9 250.8 L636.9 250.2 L639.8 249.7 L642.8 249.1 L645.7 248.5 L648.7 248 L651.6 247.5 L654.6 247 L657.6 246.4 L660.5 245.9 L663.5 245.5 L666.5 245 L669.4 244.5 L672.4 244 L675.4 243.6 L678.3 243.1 L681.3 242.6 L684.3 242.2 L687.2 241.7 L690.2 241.3 L693.2 240.9 L696.1 240.4 L699.1 240 L702.1 239.5 L705.1 239.1 L708 238.6 L711 238.2 L714 237.7 L716.9 237.3 L719.9 236.9 L722.9 236.4 L725.9 236 L728.8 235.5 L731.8 235.1 L734.8 234.7 L737.8 234.3 L740.7 233.9 L743.7 233.5 L746.7 233.1 L749.7 232.7 L752.6 232.3 L755.6 231.9 L758.6 231.5 L761.6 231.1 L764.5 230.7 L767.5 230.3 L770.5 229.9 L773.5 229.6 L776.5 229.2 L779.4 228.8 L782.4 228.4 L785.4 228.1 L788.4 227.7 L791.4 227.3 L794.3 226.9 L797.3 226.6 L800.3 226.2 L803.3 225.8 L806.3 225.4 L809.2 225.1 L812.2 224.7 L815.2 224.4 L818.2 224 L821.2 223.7 L824.2 223.3 L827.2 223 L830.1 222.7 L833.1 222.4 L836.1 222.1 L839.1 221.8 L842.1 221.5 L845.1 221.3 L848.1 221 L851.1 220.8 L854 220.5 L857 220.3 L860 220.1 L863 219.9 L866 219.8 L869 219.6 L872 219.5 L875 219.4 L878 219.3 L880 219.2"/>
<path class="ln" stroke="#ff7f0e" d="M140.6 1128 L140.9 1125 L141.1 1122 L141.4 1119 L141.7 1116 L142 1113 L142.2 1110.1 L142.5 1107.1 L142.8 1104.1 L143 1101.1 L143.3 1098.1 L143.6 1095.1 L143.9 1092.1 L144.1 1089.1 L144.4 1086.1 L144.7 1083.1 L144.9 1080.1 L145.2 1077.1 L145.5 1074.2 L145.7 1071.2 L146 1068.2 L146.3 1065.2 L146.5 1062.2 L146.8 1059.2 L147.1 1056.2 L147.4 1053.2 L147.6 1050.2 L147.9 1047.2 L148.2 1044.2 L148.4 1041.3 L148.7 1038.3 L149 1035.3 L149.3 1032.3 L149.5 1029.3 L149.8 1026.3 L150.1 1023.3 L150.4 1020.3 L150.6 1017.3 L150.9 1014.3 L151.2 1011.3 L151.5 1008.4 L151.8 1005.4 L152.1 1002.4 L152.3 999.4 L152.6 996.4 L152.9 993.4 L153.2 990.4 L153.5 987.4 L153.8 984.4 L154.1 981.4 L154.4 978.5 L154.7 975.5 L155 972.5 L155.3 969.5 L155.6 966.5 L155.9 963.5 L156.2 960.5 L156.5 957.5 L156.8 954.6 L157.1 951.6 L157.5 948.6 L157.8 945.6 L158.1 942.6 L158.5 939.6 L158.8 936.6 L159.1 933.7 L159.5 930.7 L159.9 927.7 L160.2 924.7 L160.6 921.7 L161 918.7 L161.4 915.8 L161.7 912.8 L162.1 909.8 L162.5 906.8 L162.9 903.9 L163.3 900.9 L163.8 897.9 L164.2 894.9 L164.6 892 L165 889 L165.5 886 L165.9 883 L166.4 880.1 L166.8 877.1 L167.3 874.1 L167.8 871.2 L168.2 868.2 L168.7 865.2 L169.2 862.3 L169.7 859.3 L170.2 856.4 L170.8 853.4 L171.3 850.4 L171.8 847.5 L172.4 844.5 L172.9 841.6 L173.4 838.6 L174 835.7 L174.5 832.7 L175.1 829.8 L175.6 826.8 L176.1 823.8 L176.6 820.9 L177.1 817.9 L177.6 815 L178.1 812 L178.7 809.1 L179.2 806.1 L179.7 803.1 L180.2 800.2 L180.7 797.2 L181.2 794.3 L181.8 791.3 L182.3 788.4 L182.8 785.4 L183.3 782.4 L183.8 779.5 L184.3 776.5 L184.7 773.5 L185.2 770.6 L185.7 767.6 L186.1 764.6 L186.6 761.7 L187.1 758.7 L187.5 755.7 L188 752.8 L188.5 749.8 L189 746.9 L189.5 743.9 L190 740.9 L190.5 738 L191.1 735 L191.6 732.1 L192.2 729.2 L192.8 726.2 L193.4 723.3 L194 720.3 L194.7 717.4 L195.3 714.5 L196 711.6 L196.6 708.6 L197.3 705.7 L198 702.8 L198.7 699.9 L199.4 696.9 L200.1 694 L200.8 691.1 L201.5 688.2 L202.2 685.3 L202.9 682.3 L203.6 679.4 L204.3 676.5 L205 673.6 L205.8 670.7 L206.5 667.8 L207.3 664.9 L208 662 L208.8 659.1 L209.6 656.2 L210.4 653.3 L211.1 650.4 L211.9 647.5 L212.7 644.6 L213.5 641.7 L214.3 638.8 L215.1 635.9 L215.9 633 L216.6 630.1 L217.4 627.2 L218.3 624.3 L219.1 621.4 L219.9 618.5 L220.7 615.6 L221.6 612.8 L222.4 609.9 L223.3 607 L224.1 604.1 L225 601.2 L225.8 598.4 L226.7 595.5 L227.5 592.6 L228.4 589.7 L229.2 586.8 L230.1 584 L230.9 581.1 L231.8 578.2 L232.6 575.3 L233.4 572.4 L234.3 569.5 L235.1 566.7 L236 563.8 L236.8 560.9 L237.6 558 L238.5 555.1 L239.3 552.2 L240.2 549.4 L241 546.5 L241.9 543.6 L242.7 540.7 L243.6 537.8 L244.4 535 L245.3 532.1 L246.2 529.2 L247.1 526.4 L248 523.5 L249 520.6 L249.9 517.8 L250.9 514.9 L251.8 512.1 L252.9 509.3 L253.9 506.5 L254.9 503.6 L256 500.8 L257.1 498 L258.2 495.3 L259.3 492.5 L260.5 489.7 L261.6 486.9 L262.8 484.2 L264 481.4 L265.2 478.7 L266.5 475.9 L267.7 473.2 L269 470.5 L270.3 467.8 L271.6 465.1 L273 462.4 L274.3 459.7 L275.7 457 L277.1 454.4 L278.5 451.7 L279.9 449.1 L281.3 446.4 L282.8 443.8 L284.2 441.2 L285.7 438.6 L287.2 436 L288.7 433.4 L290.2 430.8 L291.8 428.2 L293.4 425.7 L294.9 423.1 L296.5 420.5 L298.1 418 L299.7 415.5 L301.4 413 L303 410.4 L304.7 407.9 L306.3 405.4 L308 402.9 L309.7 400.4 L311.4 397.9 L313.1 395.5 L314.8 393 L316.5 390.5 L318.2 388.1 L320 385.6 L321.7 383.2 L323.5 380.8 L325.3 378.4 L327.1 376 L329 373.6 L330.8 371.2 L332.6 368.8 L334.5 366.5 L336.4 364.1 L338.3 361.8 L340.2 359.5 L342.2 357.2 L344.1 354.9 L346.1 352.7 L348.1 350.4 L350.2 348.2 L352.3 346 L354.3 343.9 L356.5 341.8 L358.6 339.6 L360.8 337.6 L362.9 335.5 L365.2 333.5 L367.4 331.5 L369.7 329.6 L372 327.7 L374.3 325.8 L376.7 324 L379.1 322.2 L381.5 320.5 L384 318.8 L386.4 317.1 L388.9 315.4 L391.5 313.8 L394 312.2 L396.5 310.6 L399.1 309.1 L401.7 307.5 L404.3 306 L406.9 304.5 L409.5 303 L412.1 301.5 L414.7 300 L417.3 298.6 L420 297.1 L422.6 295.6 L425.2 294.2 L427.9 292.7 L430.5 291.3 L433.2 289.9 L435.8 288.4 L438.5 287 L441.1 285.6 L443.8 284.3 L446.5 282.9 L449.1 281.5 L451.8 280.2 L454.5 278.8 L457.2 277.5 L459.9 276.2 L462.6 274.9 L465.3 273.6 L468 272.3 L470.7 271.1 L473.4 269.9 L476.2 268.7 L478.9 267.5 L481.7 266.3 L484.4 265.2 L487.2 264.1 L490 263 L492.8 261.9 L495.6 260.9 L498.5 259.9 L501.3 258.9 L504.1 257.9 L507 257 L509.9 256 L512.7 255.1 L515.6 254.2 L518.5 253.3 L521.3 252.5 L524.2 251.6 L527.1 250.8 L530 249.9 L532.9 249.1 L535.8 248.2 L538.6 247.4 L541.5 246.5 L544.4 245.7 L547.3 244.9 L550.2 244 L553.1 243.2 L556 242.4 L558.9 241.6 L561.7 240.7 L564.6 240 L567.5 239.2 L570.4 238.4 L573.4 237.6 L576.3 236.9 L579.2 236.2 L582.1 235.4 L585 234.7 L587.9 234 L590.8 233.3 L593.8 232.6 L596.7 232 L599.6 231.3 L602.6 230.7 L605.5 230 L608.4 229.4 L611.4 228.8 L614.3 228.2 L617.3 227.6 L620.2 227 L623.2 226.5 L626.1 225.9 L629.1 225.4 L632 224.9 L635 224.3 L637.9 223.8 L640.9 223.3 L643.9 222.8 L646.8 222.4 L649.8 221.9 L652.8 221.5 L655.7 221 L658.7 220.6 L661.7 220.2 L664.7 219.8 L667.7 219.4 L670.6 219.1 L673.6 218.7 L676.6 218.3 L679.6 217.9 L682.5 217.5 L685.5 217.1 L688.5 216.7 L691.5 216.3 L694.4 215.9 L697.4 215.4 L700.4 215 L703.4 214.6 L706.3 214.2 L709.3 213.7 L712.3 213.3 L715.2 212.9 L718.2 212.4 L721.2 212 L724.2 211.6 L727.1 211.1 L730.1 210.7 L733.1 210.3 L736 209.8 L739 209.4 L742 209 L745 208.6 L747.9 208.1 L750.9 207.7 L753.9 207.3 L756.8 206.9 L759.8 206.5 L762.8 206.1 L765.8 205.7 L768.7 205.3 L771.7 204.9 L774.7 204.5 L777.7 204.1 L780.7 203.8 L783.7 203.4 L786.6 203.1 L789.6 202.8 L792.6 202.5 L795.6 202.2 L798.6 201.9 L801.6 201.6 L804.6 201.4 L807.6 201.1 L810.6 200.8 L813.6 200.6 L816.6 200.3 L819.5 200.1 L822.5 199.9 L825.5 199.7 L828.5 199.4 L831.5 199.2 L834.5 199 L837.5 198.8 L840.5 198.6 L843.5 198.4 L846.5 198.3 L849.5 198.1 L852.5 197.9 L855.5 197.7 L858.5 197.6 L861.5 197.4 L864.5 197.3 L867.5 197.1 L870.5 197 L873.5 196.8 L876.5 196.7 L876.5 184.5"/>
<path class="ln" stroke="#2ca02c" d="M140.6 1128 L141.2 1125.1 L141.7 1122.1 L142.2 1119.1 L142.6 1116.2 L142.9 1113.2 L143.2 1110.2 L143.5 1107.2 L143.8 1104.2 L144 1101.2 L144.3 1098.2 L144.6 1095.2 L144.9 1092.2 L145.3 1089.3 L145.6 1086.3 L145.9 1083.3 L146.2 1080.3 L146.6 1077.3 L146.9 1074.3 L147.2 1071.3 L147.6 1068.3 L147.9 1065.4 L148.3 1062.4 L148.6 1059.4 L149 1056.4 L149.4 1053.4 L149.8 1050.5 L150.2 1047.5 L150.6 1044.5 L151 1041.5 L151.4 1038.6 L151.8 1035.6 L152.1 1032.6 L152.5 1029.6 L152.9 1026.6 L153.2 1023.7 L153.5 1020.7 L153.8 1017.7 L154.1 1014.7 L154.4 1011.7 L154.7 1008.7 L155 1005.7 L155.3 1002.7 L155.6 999.7 L155.9 996.7 L156.2 993.8 L156.5 990.8 L156.9 987.8 L157.3 984.8 L157.7 981.8 L158.2 978.9 L158.6 975.9 L159.1 972.9 L159.5 970 L159.9 967 L160.2 964 L160.6 961 L161 958 L161.3 955.1 L161.7 952.1 L162 949.1 L162.4 946.1 L162.8 943.1 L163.2 940.1 L163.6 937.2 L164 934.2 L164.4 931.2 L164.9 928.3 L165.4 925.3 L165.8 922.3 L166.3 919.4 L166.8 916.4 L167.3 913.4 L167.8 910.5 L168.3 907.5 L168.8 904.6 L169.3 901.6 L169.8 898.6 L170.2 895.7 L170.7 892.7 L171.1 889.7 L171.5 886.7 L171.9 883.8 L172.4 880.8 L172.8 877.8 L173.2 874.8 L173.7 871.9 L174.1 868.9 L174.6 865.9 L175.1 863 L175.6 860 L176.2 857.1 L176.7 854.1 L177.2 851.1 L177.8 848.2 L178.3 845.2 L178.8 842.3 L179.3 839.3 L179.9 836.4 L180.4 833.4 L180.9 830.4 L181.4 827.5 L181.9 824.5 L182.4 821.6 L182.9 818.6 L183.4 815.6 L183.9 812.7 L184.3 809.7 L184.7 806.7 L185.2 803.7 L185.6 800.8 L186 797.8 L186.5 794.8 L186.9 791.8 L187.4 788.9 L187.9 785.9 L188.4 782.9 L189.1 780 L190 777.2 L191 774.4 L192.2 771.6 L193.5 768.9 L194.7 766.1 L195.9 763.4 L197 760.6 L198.1 757.8 L199 754.9 L200 752.1 L200.8 749.2 L201.7 746.3 L202.5 743.4 L203.3 740.5 L204 737.6 L204.7 734.7 L205.4 731.8 L206.1 728.8 L206.8 725.9 L207.4 723 L208.1 720.1 L208.8 717.1 L209.4 714.2 L210.1 711.3 L210.9 708.4 L211.6 705.5 L212.4 702.6 L213.1 699.6 L213.9 696.7 L214.6 693.8 L215.3 690.9 L216 688 L216.7 685.1 L217.4 682.1 L218.1 679.2 L218.7 676.3 L219.4 673.3 L220 670.4 L220.7 667.5 L221.3 664.6 L222 661.6 L222.7 658.7 L223.4 655.8 L224.1 652.9 L224.8 649.9 L225.5 647 L226.3 644.1 L227 641.2 L227.7 638.3 L228.3 635.3 L229 632.4 L229.6 629.5 L230.2 626.5 L230.9 623.6 L231.6 620.7 L232.3 617.8 L233.1 614.9 L234.1 612 L235.3 609.3 L236.7 606.6 L238.3 604.1 L240 601.6 L241.6 599.1 L243.2 596.5 L244.6 593.9 L245.8 591.1 L247 588.4 L248.1 585.6 L249.2 582.8 L250.2 579.9 L251.1 577.1 L252.1 574.2 L253 571.4 L254 568.5 L255 565.7 L256 562.9 L257 560 L258 557.2 L258.9 554.4 L259.9 551.5 L260.9 548.7 L261.9 545.8 L262.9 543 L263.9 540.2 L264.9 537.3 L265.9 534.5 L267 531.7 L268.1 528.9 L269.4 526.2 L270.8 523.5 L272.3 521 L274 518.5 L275.8 516 L277.6 513.7 L279.6 511.4 L281.6 509.2 L283.8 507.1 L285.9 505 L288 502.8 L290 500.6 L291.8 498.2 L293.6 495.8 L295.4 493.4 L297.1 490.9 L298.9 488.5 L300.7 486.1 L302.4 483.6 L304 481.1 L305.5 478.5 L307 475.9 L308.4 473.2 L309.9 470.5 L311.6 468.1 L313.5 465.9 L315.7 463.9 L318.1 462.1 L320.6 460.4 L323.1 458.7 L325.4 456.8 L327.5 454.7 L329.5 452.4 L331.4 450.1 L333.3 447.8 L335.2 445.5 L337.3 443.3 L339.3 441.1 L341.3 438.9 L343.2 436.6 L345 434.1 L346.7 431.6 L348.3 429.1 L350 426.6 L351.6 424.1 L353.3 421.6 L355 419.1 L356.7 416.7 L358.5 414.3 L360.4 412 L362.4 409.7 L364.5 407.5 L366.5 405.3 L368.4 402.9 L370.3 400.6 L372.3 398.4 L374.4 396.4 L376.8 394.6 L379.3 393.1 L382 391.7 L384.6 390.2 L387.2 388.6 L389.6 386.8 L391.8 384.8 L394.1 382.8 L396.3 380.7 L398.5 378.7 L400.8 376.8 L403.2 374.9 L405.6 373.2 L408 371.4 L410.5 369.7 L412.9 368 L415.2 365.9 L417.4 363.8 L419.7 361.9 L422 360.3 L424.6 359.2 L427.4 358.5 L430.4 358.1 L433.4 357.8 L436.3 357.1 L439.1 356 L441.7 354.6 L444.3 353 L446.8 351.3 L449.4 349.7 L451.9 348.1 L454.6 346.7 L457.2 345.2 L459.9 343.8 L462.5 342.5 L465.3 341.2 L468 339.9 L470.8 338.7 L473.5 337.6 L476.3 336.4 L479 335.1 L481.6 333.7 L484.2 332.2 L486.8 330.7 L489.4 329.2 L492 327.6 L494.5 326 L496.9 324.2 L499.3 322.3 L501.6 320.5 L504 318.9 L506.6 317.4 L509.3 316.1 L512.1 314.9 L514.9 313.5 L517.6 312.1 L520.3 310.9 L523.1 310 L526 309.5 L528.9 309.2 L531.9 309.1 L534.9 308.7 L537.9 308.1 L540.7 307.2 L543.6 306.3 L546.5 305.4 L549.4 304.7 L552.3 304.3 L555.2 303.7 L558.1 303 L560.9 301.9 L563.6 300.7 L566.3 299.4 L569.1 298.2 L571.9 297 L574.6 295.9 L577.4 294.7 L580.1 293.4 L582.8 292.1 L585.6 290.9 L588.4 289.8 L591.2 288.9 L594.1 288.1 L597 287.3 L599.9 286.4 L602.7 285.5 L605.6 284.6 L608.4 283.5 L611.2 282.4 L613.9 281.2 L616.7 280 L619.5 278.9 L622.3 277.8 L625.1 276.8 L627.9 275.7 L630.8 274.7 L633.6 273.8 L636.5 272.9 L639.4 272.1 L642.3 271.3 L645.2 270.6 L648.1 269.9 L651 269.2 L654 268.5 L657 267.9 L660 267.2 L662.8 266.4 L665.6 265.2 L668.1 263.9 L670.7 262.6 L673.3 261.3 L676 260.3 L678.9 259.7 L681.9 259.2 L685 258.7 L688 258.1 L690.9 257.4 L693.8 256.5 L696.6 255.6 L699.5 254.7 L702.4 253.8 L705.3 253.1 L708.2 252.4 L711.1 251.9 L714.1 251.4 L717.1 251 L720.1 250.5 L723 250 L726 249.6 L729 249.1 L732 248.6 L735 248.1 L737.9 247.5 L740.8 246.8 L743.6 245.8 L746.4 244.6 L749.1 243.4 L751.8 242.2 L754.5 241.2 L757.4 240.5 L760.3 240 L763.3 239.5 L766.3 239.1 L769.3 238.7 L772.4 238.3 L775.3 237.9 L778.3 237.4 L781.3 236.8 L784.2 236.3 L787.2 235.7 L790.1 235.1 L793.1 234.5 L796 233.8 L798.9 233 L801.8 232.3 L804.7 231.5 L807.6 230.8 L810.6 230.1 L813.5 229.6 L816.5 229.1 L819.4 228.7 L822.4 228.2 L825.4 227.8 L828.4 227.4 L831.3 227 L834.3 226.5 L837.3 226.1 L840.3 225.6 L843.2 225.1 L846.2 224.6 L849.1 224 L852.1 223.4 L855 222.9 L858 222.5 L861 222.2 L864 222.1 L867 222 L870 221.9 L871 221.9 L871.2 213.5 L871.2 227.5"/>
<path class="ln" stroke="#d62728" d="M140.6 1128 L140.9 1125 L141.2 1122 L141.4 1119 L141.7 1116 L142 1113 L142.3 1110.1 L142.5 1107.1 L142.8 1104.1 L143.1 1101.1 L143.4 1098.1 L143.7 1095.1 L143.9 1092.1 L144.2 1089.1 L144.5 1086.1 L144.7 1083.1 L145 1080.1 L145.3 1077.2 L145.6 1074.2 L145.8 1071.2 L146.1 1068.2 L146.4 1065.2 L146.6 1062.2 L146.9 1059.2 L147.2 1056.2 L147.4 1053.2 L147.7 1050.2 L148 1047.2 L148.3 1044.2 L148.5 1041.3 L148.8 1038.3 L149.1 1035.3 L149.3 1032.3 L149.6 1029.3 L149.9 1026.3 L150.1 1023.3 L150.4 1020.3 L150.7 1017.3 L151 1014.3 L151.2 1011.3 L151.5 1008.4 L151.8 1005.4 L152.1 1002.4 L152.3 999.4 L152.6 996.4 L152.9 993.4 L153.2 990.4 L153.5 987.4 L153.7 984.4 L154 981.4 L154.3 978.4 L154.6 975.5 L154.9 972.5 L155.2 969.5 L155.5 966.5 L155.8 963.5 L156.1 960.5 L156.4 957.5 L156.7 954.5 L157 951.6 L157.4 948.6 L157.7 945.6 L158 942.6 L158.4 939.6 L158.7 936.6 L159.1 933.6 L159.4 930.7 L159.8 927.7 L160.2 924.7 L160.5 921.7 L160.9 918.7 L161.3 915.8 L161.7 912.8 L162.1 909.8 L162.5 906.8 L162.9 903.9 L163.3 900.9 L163.7 897.9 L164.1 894.9 L164.5 892 L164.9 889 L165.3 886 L165.8 883 L166.2 880.1 L166.6 877.1 L167.1 874.1 L167.5 871.1 L167.9 868.2 L168.4 865.2 L168.9 862.2 L169.3 859.3 L169.8 856.3 L170.3 853.3 L170.8 850.4 L171.3 847.4 L171.7 844.4 L172.2 841.5 L172.7 838.5 L173.2 835.6 L173.7 832.6 L174.2 829.6 L174.7 826.7 L175.3 823.7 L175.8 820.8 L176.3 817.8 L176.8 814.8 L177.3 811.9 L177.8 808.9 L178.3 805.9 L178.8 803 L179.3 800 L179.8 797.1 L180.4 794.1 L180.9 791.2 L181.4 788.2 L182 785.2 L182.5 782.3 L183 779.3 L183.6 776.4 L184.1 773.4 L184.6 770.5 L185.2 767.5 L185.8 764.6 L186.3 761.6 L186.9 758.7 L187.6 755.7 L188.2 752.8 L188.8 749.9 L189.5 746.9 L190.2 744 L190.9 741.1 L191.6 738.2 L192.3 735.3 L193 732.3 L193.7 729.4 L194.5 726.5 L195.2 723.6 L196 720.7 L196.8 717.8 L197.5 714.9 L198.3 712 L199.1 709.1 L199.9 706.2 L200.7 703.3 L201.5 700.4 L202.2 697.5 L203 694.6 L203.8 691.7 L204.6 688.8 L205.4 685.9 L206.2 683 L207 680.1 L207.8 677.2 L208.5 674.3 L209.3 671.4 L210 668.5 L210.7 665.6 L211.4 662.7 L212.2 659.8 L212.9 656.8 L213.6 653.9 L214.3 651 L215 648.1 L215.7 645.2 L216.5 642.3 L217.2 639.3 L218 636.4 L218.7 633.5 L219.5 630.6 L220.3 627.7 L221.1 624.9 L222 622 L222.8 619.1 L223.6 616.2 L224.5 613.3 L225.3 610.4 L226.2 607.6 L227 604.7 L227.9 601.8 L228.8 598.9 L229.7 596.1 L230.5 593.2 L231.4 590.3 L232.3 587.4 L233.1 584.6 L234 581.7 L234.8 578.8 L235.7 575.9 L236.5 573 L237.3 570.2 L238.1 567.3 L239 564.4 L239.8 561.5 L240.6 558.6 L241.3 555.7 L242.2 552.8 L243 549.9 L243.8 547 L244.6 544.1 L245.4 541.2 L246.3 538.4 L247.2 535.5 L248.1 532.6 L249 529.8 L249.9 526.9 L250.8 524.1 L251.8 521.2 L252.8 518.4 L253.8 515.5 L254.8 512.7 L255.8 509.9 L256.8 507.1 L257.9 504.2 L259 501.4 L260 498.6 L261.2 495.9 L262.3 493.1 L263.4 490.3 L264.6 487.5 L265.8 484.8 L267 482 L268.2 479.3 L269.4 476.5 L270.7 473.8 L271.9 471.1 L273.2 468.3 L274.5 465.6 L275.7 462.9 L277 460.2 L278.4 457.5 L279.7 454.8 L281 452.1 L282.4 449.4 L283.8 446.8 L285.2 444.1 L286.7 441.5 L288.1 438.9 L289.6 436.3 L291.2 433.7 L292.7 431.1 L294.3 428.6 L295.9 426 L297.6 423.5 L299.2 421 L300.9 418.5 L302.6 416.1 L304.4 413.7 L306.1 411.2 L307.9 408.8 L309.7 406.4 L311.5 404.1 L313.4 401.7 L315.3 399.3 L317.1 397 L319 394.6 L320.9 392.3 L322.8 390 L324.8 387.7 L326.7 385.4 L328.7 383.1 L330.7 380.9 L332.7 378.6 L334.7 376.4 L336.7 374.2 L338.7 372 L340.8 369.8 L342.8 367.6 L344.9 365.4 L346.9 363.2 L349 361 L351.1 358.8 L353.1 356.7 L355.2 354.5 L357.4 352.4 L359.5 350.3 L361.7 348.2 L363.9 346.2 L366.1 344.2 L368.4 342.2 L370.7 340.3 L373 338.3 L375.3 336.4 L377.6 334.6 L380 332.8 L382.4 331 L384.9 329.3 L387.4 327.6 L389.9 325.9 L392.4 324.3 L394.9 322.8 L397.5 321.2 L400 319.7 L402.6 318.2 L405.3 316.8 L407.9 315.4 L410.5 314 L413.2 312.6 L415.9 311.3 L418.6 310 L421.3 308.7 L424 307.3 L426.8 306 L429.5 304.7 L432.2 303.4 L434.8 302.1 L437.5 300.7 L440.2 299.4 L442.9 298 L445.6 296.6 L448.2 295.2 L450.9 293.9 L453.5 292.4 L456.2 291 L458.8 289.6 L461.5 288.2 L464.1 286.8 L466.8 285.4 L469.5 284 L472.1 282.6 L474.8 281.2 L477.5 279.9 L480.2 278.6 L482.9 277.3 L485.7 276.1 L488.4 274.9 L491.2 273.8 L494 272.7 L496.8 271.6 L499.6 270.6 L502.4 269.6 L505.2 268.6 L508 267.6 L510.9 266.6 L513.7 265.7 L516.6 264.8 L519.5 263.9 L522.3 263 L525.2 262.1 L528.1 261.3 L531 260.5 L533.9 259.7 L536.8 258.9 L539.7 258.1 L542.6 257.3 L545.5 256.4 L548.4 255.5 L551.2 254.6 L554.1 253.7 L556.9 252.8 L559.7 251.9 L562.6 250.9 L565.4 249.9 L568.2 248.9 L571 248 L573.8 247 L576.6 246 L579.5 245 L582.3 244 L585.1 243.1 L587.9 242.2 L590.8 241.3 L593.6 240.4 L596.5 239.5 L599.3 238.7 L602.2 237.9 L605 237.1 L607.9 236.3 L610.8 235.5 L613.7 234.8 L616.6 234.1 L619.5 233.4 L622.4 232.8 L625.4 232.2 L628.3 231.6 L631.3 231 L634.2 230.5 L637.2 230 L640.2 229.6 L643.2 229.1 L646.2 228.6 L649.1 228.1 L652.1 227.7 L655.1 227.2 L658 226.7 L661 226.3 L664 225.8 L666.9 225.4 L669.9 224.9 L672.9 224.5 L675.9 224.1 L678.8 223.7 L681.8 223.2 L684.8 222.8 L687.7 222.3 L690.7 221.9 L693.7 221.4 L696.6 221 L699.6 220.5 L702.6 220 L705.5 219.5 L708.5 219 L711.5 218.5 L714.4 218 L717.4 217.5 L720.3 217 L723.3 216.4 L726.2 215.9 L729.2 215.4 L732.2 214.9 L735.1 214.4 L738.1 213.9 L741 213.4 L744 212.9 L747 212.4 L749.9 211.9 L752.9 211.4 L755.9 211 L758.8 210.5 L761.8 210.1 L764.8 209.6 L767.7 209.2 L770.7 208.8 L773.7 208.5 L776.7 208.1 L779.7 207.8 L782.6 207.4 L785.6 207.1 L788.6 206.8 L791.6 206.5 L794.6 206.2 L797.6 205.9 L800.6 205.6 L803.6 205.3 L806.6 205.1 L809.6 204.8 L812.5 204.5 L815.5 204.2 L818.5 204 L821.5 203.7 L824.5 203.5 L827.5 203.3 L830.5 203 L833.5 202.8 L836.5 202.6 L839.5 202.4 L842.5 202.2 L845.5 202 L848.5 201.9 L851.5 201.7 L854.5 201.6 L857.5 201.4 L860.5 201.3 L863.5 201.2 L866.5 201.1 L869.5 201 L871.5 200.9 L872 193.5 L872 206.5"/>
</g>
<rect x="140.5" y="140" width="737.5" height="988" fill="none" stroke="#383838" stroke-width="3.56"/>
<path d="M140.5 1128v12.7M320.5 1128v12.7M500.5 1128v12.7M680.5 1128v12.7M860.5 1128v12.7M140.5 1128h-12.7M140.5 930.4h-12.7M140.5 732.8h-12.7M140.5 535.2h-12.7M140.5 337.6h-12.7M140.5 140h-12.7" stroke="#383838" stroke-width="3.46" fill="none"/>
<text x="140.5" y="1180.8" font-size="36.4" text-anchor="middle">0</text>
<text x="320.5" y="1180.8" font-size="36.4" text-anchor="middle">10</text>
<text x="500.5" y="1180.8" font-size="36.4" text-anchor="middle">20</text>
<text x="680.5" y="1180.8" font-size="36.4" text-anchor="middle">30</text>
<text x="860.5" y="1180.8" font-size="36.4" text-anchor="middle">40</text>
<text x="115" y="1142.8" font-size="36.4" text-anchor="end">0.0</text>
<text x="115" y="944.4" font-size="36.4" text-anchor="end">0.2</text>
<text x="115" y="746.6" font-size="36.4" text-anchor="end">0.4</text>
<text x="115" y="548.6" font-size="36.4" text-anchor="end">0.6</text>
<text x="115" y="351.6" font-size="36.4" text-anchor="end">0.8</text>
<text x="115" y="154.7" font-size="36.4" text-anchor="end">1.0</text>
<g clip-path="url(#cR)">
<path d="M1026 1128 L1028 1079 L1030 1039.7 L1032 1011.3 L1034 988.1 L1036 970.7 L1038 954.8 L1040 940 L1042 926.4 L1044 914.4 L1046 902.1 L1048 890.4 L1050 878.9 L1052 867.6 L1054 856.2 L1056 844.8 L1058 833.8 L1060 823.3 L1062 813.3 L1064 803.6 L1066 794 L1068 784.6 L1070 775.2 L1072 765.8 L1074 756.4 L1076 746.8 L1078 737.2 L1080 727.5 L1082 717.8 L1084 708.1 L1086 698.3 L1088 688.6 L1090 679.5 L1092 670.9 L1094 662.6 L1096 654.7 L1098 647.1 L1100 639.8 L1102 632.9 L1104 626.4 L1106 620.1 L1108 614 L1110 607.9 L1112 601.9 L1114 595.8 L1116 589.7 L1118 583.6 L1120 577.6 L1122 571.9 L1124 566.3 L1126 560.7 L1128 555.3 L1130 550 L1132 544.7 L1134 539.7 L1136 534.8 L1138 530.2 L1140 525.6 L1142 521 L1144 516.3 L1146 511.6 L1148 507 L1150 502.5 L1152 498.1 L1154 493.8 L1156 489.7 L1158 485.7 L1160 481.8 L1162 478.2 L1164 474.6 L1166 471.1 L1168 467.8 L1170 464.6 L1172 461.4 L1174 458.4 L1176 455.3 L1178 452.4 L1180 449.5 L1182 446.8 L1184 444.1 L1186 441.5 L1188 439 L1190 436.6 L1192 434.2 L1194 431.9 L1196 429.5 L1198 427.3 L1200 425.1 L1202 422.9 L1204 420.9 L1206 418.9 L1208 416.9 L1210 414.9 L1212 412.9 L1214 410.9 L1216 409 L1218 407 L1220 405.1 L1222 403.1 L1224 401.2 L1226 399.2 L1228 397.2 L1230 395.3 L1232 393.3 L1234 391.4 L1236 389.5 L1238 387.6 L1240 385.7 L1242 383.9 L1244 382.1 L1246 380.4 L1248 378.8 L1250 377.2 L1252 375.7 L1254 374.2 L1256 372.8 L1258 371.4 L1260 370.1 L1262 368.8 L1264 367.6 L1266 366.4 L1268 365.2 L1270 364 L1272 362.8 L1274 361.6 L1276 360.5 L1278 359.3 L1280 358.1 L1282 356.9 L1284 355.7 L1286 354.6 L1288 353.4 L1290 352.3 L1292 351.2 L1294 350 L1296 348.9 L1298 347.7 L1300 346.5 L1302 345.4 L1304 344.3 L1306 343.2 L1308 342.1 L1310 341 L1312 339.9 L1314 338.8 L1316 337.8 L1318 336.7 L1320 335.7 L1322 334.7 L1324 333.7 L1326 332.7 L1328 331.7 L1330 330.7 L1332 329.7 L1334 328.6 L1336 327.6 L1338 326.6 L1340 325.6 L1342 324.6 L1344 323.6 L1346 322.6 L1348 321.6 L1350 320.7 L1352 319.7 L1354 318.7 L1356 317.8 L1358 316.8 L1360 315.8 L1362 314.9 L1364 313.9 L1366 313 L1368 312.1 L1370 311.2 L1372 310.3 L1374 309.4 L1376 308.5 L1378 307.6 L1380 306.7 L1382 305.9 L1384 305 L1386 304.2 L1388 303.4 L1390 302.6 L1392 301.8 L1394 301 L1396 300.2 L1398 299.4 L1400 298.6 L1402 297.9 L1404 297.1 L1406 296.3 L1408 295.6 L1410 294.8 L1412 294.1 L1414 293.3 L1416 292.5 L1418 291.8 L1420 291 L1422 290.3 L1424 289.5 L1426 288.8 L1428 288 L1430 287.3 L1432 286.6 L1434 285.9 L1436 285.2 L1438 284.5 L1440 283.8 L1442 283.1 L1444 282.4 L1446 281.7 L1448 281 L1450 280.3 L1452 279.6 L1454 278.9 L1456 278.3 L1458 277.6 L1460 276.9 L1462 276.3 L1464 275.6 L1466 275 L1468 274.3 L1470 273.7 L1472 273 L1474 272.4 L1476 271.8 L1478 271.2 L1480 270.5 L1482 269.9 L1484 269.4 L1486 268.8 L1488 268.2 L1490 267.6 L1492 267 L1494 266.4 L1496 265.8 L1498 265.3 L1500 264.7 L1502 264.1 L1504 263.5 L1506 263 L1508 262.4 L1510 261.9 L1512 261.3 L1514 260.8 L1516 260.2 L1518 259.7 L1520 259.2 L1522 258.7 L1524 258.2 L1526 257.6 L1528 257.2 L1530 256.7 L1532 256.2 L1534 255.7 L1536 255.2 L1538 254.8 L1540 254.3 L1542 253.9 L1544 253.4 L1546 253 L1548 252.5 L1550 252.1 L1552 251.7 L1554 251.2 L1556 250.8 L1558 250.4 L1560 250 L1562 249.5 L1564 249.1 L1566 248.7 L1568 248.4 L1570 248 L1572 247.6 L1574 247.2 L1576 246.8 L1578 246.5 L1580 246.1 L1582 245.8 L1584 245.4 L1586 245 L1588 244.7 L1590 244.3 L1592 244 L1594 243.7 L1596 243.3 L1598 243 L1600 242.6 L1602 242.3 L1604 242 L1606 241.6 L1608 241.3 L1610 241 L1612 240.7 L1614 240.3 L1616 240 L1618 239.7 L1620 239.4 L1622 239.1 L1624 238.8 L1626 238.5 L1628 238.1 L1630 237.8 L1632 237.5 L1634 237.2 L1636 236.9 L1638 236.6 L1640 236.3 L1642 236 L1644 235.7 L1646 235.4 L1648 235.1 L1650 234.8 L1652 234.5 L1654 234.2 L1656 233.9 L1658 233.5 L1660 233.2 L1662 232.9 L1664 232.6 L1666 232.3 L1668 232 L1670 231.7 L1672 231.4 L1674 231.1 L1676 230.9 L1678 230.6 L1680 230.3 L1682 230 L1684 229.8 L1686 229.5 L1688 229.2 L1690 229 L1692 228.7 L1694 228.5 L1696 228.2 L1698 228 L1700 227.8 L1702 227.5 L1704 227.3 L1706 227.1 L1708 226.8 L1710 226.6 L1712 226.4 L1714 226.2 L1716 226 L1718 225.8 L1720 225.6 L1722 225.3 L1724 225.1 L1726 224.9 L1728 224.7 L1730 224.5 L1732 224.4 L1734 224.2 L1736 224 L1738 223.8 L1740 223.6 L1742 223.4 L1744 223.2 L1746 223 L1748 222.9 L1750 222.7 L1752 222.5 L1754 222.4 L1756 222.2 L1759 222.2 L1759 283.1 L1756 283.4 L1754 283.7 L1752 284.1 L1750 284.5 L1748 284.9 L1746 285.2 L1744 285.6 L1742 286 L1740 286.4 L1738 286.8 L1736 287.3 L1734 287.7 L1732 288.1 L1730 288.5 L1728 289 L1726 289.4 L1724 289.9 L1722 290.3 L1720 290.8 L1718 291.3 L1716 291.7 L1714 292.2 L1712 292.7 L1710 293.2 L1708 293.7 L1706 294.1 L1704 294.6 L1702 295.1 L1700 295.6 L1698 296.1 L1696 296.7 L1694 297.2 L1692 297.7 L1690 298.2 L1688 298.7 L1686 299.2 L1684 299.8 L1682 300.3 L1680 300.8 L1678 301.3 L1676 301.8 L1674 302.4 L1672 302.9 L1670 303.4 L1668 304 L1666 304.5 L1664 305 L1662 305.5 L1660 306 L1658 306.6 L1656 307.1 L1654 307.6 L1652 308.1 L1650 308.6 L1648 309.1 L1646 309.6 L1644 310.1 L1642 310.6 L1640 311.1 L1638 311.6 L1636 312.1 L1634 312.6 L1632 313.1 L1630 313.6 L1628 314.1 L1626 314.6 L1624 315.1 L1622 315.6 L1620 316.1 L1618 316.6 L1616 317.1 L1614 317.6 L1612 318.1 L1610 318.6 L1608 319.1 L1606 319.6 L1604 320.1 L1602 320.7 L1600 321.2 L1598 321.7 L1596 322.2 L1594 322.8 L1592 323.3 L1590 323.9 L1588 324.4 L1586 325 L1584 325.5 L1582 326.1 L1580 326.7 L1578 327.3 L1576 327.9 L1574 328.5 L1572 329.1 L1570 329.7 L1568 330.3 L1566 331 L1564 331.6 L1562 332.3 L1560 332.9 L1558 333.6 L1556 334.3 L1554 335 L1552 335.7 L1550 336.4 L1548 337.1 L1546 337.8 L1544 338.5 L1542 339.3 L1540 340 L1538 340.7 L1536 341.5 L1534 342.3 L1532 343 L1530 343.8 L1528 344.6 L1526 345.4 L1524 346.2 L1522 346.9 L1520 347.7 L1518 348.5 L1516 349.3 L1514 350.2 L1512 351 L1510 351.8 L1508 352.7 L1506 353.6 L1504 354.5 L1502 355.4 L1500 356.3 L1498 357.2 L1496 358.1 L1494 359 L1492 359.9 L1490 360.9 L1488 361.8 L1486 362.7 L1484 363.6 L1482 364.6 L1480 365.5 L1478 366.4 L1476 367.4 L1474 368.3 L1472 369.3 L1470 370.2 L1468 371.2 L1466 372.2 L1464 373.1 L1462 374.1 L1460 375.1 L1458 376.1 L1456 377.1 L1454 378.2 L1452 379.2 L1450 380.3 L1448 381.3 L1446 382.4 L1444 383.5 L1442 384.6 L1440 385.7 L1438 386.9 L1436 388 L1434 389.2 L1432 390.4 L1430 391.6 L1428 392.8 L1426 394 L1424 395.2 L1422 396.4 L1420 397.7 L1418 398.9 L1416 400.2 L1414 401.5 L1412 402.8 L1410 404 L1408 405.3 L1406 406.7 L1404 408 L1402 409.3 L1400 410.7 L1398 412.1 L1396 413.5 L1394 414.9 L1392 416.3 L1390 417.7 L1388 419.2 L1386 420.6 L1384 422.1 L1382 423.5 L1380 425 L1378 426.5 L1376 428 L1374 429.6 L1372 431.1 L1370 432.7 L1368 434.2 L1366 435.8 L1364 437.4 L1362 439 L1360 440.7 L1358 442.3 L1356 444.1 L1354 445.8 L1352 447.6 L1350 449.3 L1348 451.1 L1346 453 L1344 454.8 L1342 456.6 L1340 458.4 L1338 460.3 L1336 462.1 L1334 463.9 L1332 465.8 L1330 467.6 L1328 469.5 L1326 471.4 L1324 473.3 L1322 475.2 L1320 477.1 L1318 479 L1316 480.9 L1314 482.9 L1312 484.8 L1310 486.8 L1308 488.7 L1306 490.7 L1304 492.7 L1302 494.7 L1300 496.7 L1298 498.7 L1296 500.8 L1294 502.9 L1292 505 L1290 507.1 L1288 509.2 L1286 511.4 L1284 513.6 L1282 515.8 L1280 518 L1278 520.2 L1276 522.5 L1274 524.8 L1272 527.2 L1270 529.6 L1268 532 L1266 534.5 L1264 537 L1262 539.6 L1260 542.2 L1258 544.8 L1256 547.5 L1254 550.2 L1252 552.9 L1250 555.6 L1248 558.3 L1246 561.1 L1244 563.8 L1242 566.6 L1240 569.5 L1238 572.4 L1236 575.4 L1234 578.4 L1232 581.5 L1230 584.6 L1228 587.8 L1226 591.1 L1224 594.5 L1222 597.8 L1220 601.3 L1218 604.7 L1216 608.2 L1214 611.7 L1212 615.2 L1210 618.7 L1208 622.3 L1206 625.9 L1204 629.5 L1202 633.2 L1200 637 L1198 640.9 L1196 644.8 L1194 648.8 L1192 652.9 L1190 657 L1188 661.2 L1186 665.5 L1184 669.8 L1182 674.2 L1180 678.6 L1178 683.1 L1176 687.6 L1174 692.2 L1172 696.9 L1170 701.5 L1168 706.2 L1166 710.8 L1164 715.5 L1162 720.2 L1160 725 L1158 729.8 L1156 734.7 L1154 739.7 L1152 744.8 L1150 749.9 L1148 755.2 L1146 760.5 L1144 766 L1142 771.5 L1140 777.1 L1138 782.7 L1136 788.4 L1134 794.2 L1132 800.1 L1130 806.2 L1128 812.4 L1126 818.7 L1124 825 L1122 831.2 L1120 837.4 L1118 843.4 L1116 849.3 L1114 855.2 L1112 861.2 L1110 867.3 L1108 873.5 L1106 879.8 L1104 886.3 L1102 892.9 L1100 899.6 L1098 906.6 L1096 913.4 L1094 919.9 L1092 926.2 L1090 932.3 L1088 938.3 L1086 944.3 L1084 950.4 L1082 956.6 L1080 963.2 L1078 969.9 L1076 976.7 L1074 983.6 L1072 990.7 L1070 998.1 L1068 1005.8 L1066 1013.7 L1064 1021.9 L1062 1030.4 L1060 1039.2 L1058 1048.4 L1056 1057.6 L1054 1067 L1052 1076.5 L1050 1086 L1048 1095.5 L1046 1104.9 L1044 1114.2 L1042 1120.9 L1040 1124.1 L1038 1125.6 L1036 1127.3 L1034 1131.6 L1032 1136.5 L1030 1138.9 L1028 1136.1 L1026 1129Z" fill="rgba(191,191,0,0.05)"/>
<path d="M1026 1128 L1028 1078.5 L1030 1038.6 L1032 1009.7 L1034 985.9 L1036 967.9 L1038 951.6 L1040 936.1 L1042 922 L1044 909.5 L1046 897.2 L1048 885.4 L1050 874 L1052 862.7 L1054 851.2 L1056 839.9 L1058 828.9 L1060 818.4 L1062 808.3 L1064 798.6 L1066 789.1 L1068 779.7 L1070 770.3 L1072 760.9 L1074 751.4 L1076 741.9 L1078 732.2 L1080 722.6 L1082 712.9 L1084 703.1 L1086 693.3 L1088 683.7 L1090 674.6 L1092 665.9 L1094 657.7 L1096 649.7 L1098 642.1 L1100 634.9 L1102 628 L1104 621.4 L1106 615.1 L1108 609 L1110 603 L1112 596.9 L1114 590.9 L1116 584.7 L1118 578.6 L1120 572.7 L1122 566.9 L1124 561.3 L1126 555.8 L1128 550.3 L1130 545 L1132 539.8 L1134 534.7 L1136 529.9 L1138 525.3 L1140 520.7 L1142 516 L1144 511.3 L1146 506.7 L1148 502.1 L1150 497.5 L1152 493.1 L1154 488.8 L1156 484.7 L1158 480.7 L1160 476.9 L1162 473.2 L1164 469.6 L1166 466.2 L1168 462.9 L1170 459.7 L1172 456.5 L1174 453.4 L1176 450.4 L1178 447.4 L1180 444.6 L1182 441.8 L1184 439.2 L1186 436.6 L1188 434.1 L1190 431.7 L1192 429.3 L1194 426.9 L1196 424.6 L1198 422.3 L1200 420.1 L1202 418 L1204 415.9 L1206 413.9 L1208 411.9 L1210 409.9 L1212 408 L1214 406 L1216 404 L1218 402.1 L1220 400.1 L1222 398.2 L1224 396.3 L1226 394.3 L1228 392.3 L1230 390.3 L1232 388.4 L1234 386.4 L1236 384.5 L1238 382.6 L1240 380.8 L1242 379 L1244 377.2 L1246 375.5 L1248 373.8 L1250 372.3 L1252 370.7 L1254 369.2 L1256 367.8 L1258 366.5 L1260 365.1 L1262 363.9 L1264 362.6 L1266 361.4 L1268 360.2 L1270 359.1 L1272 357.9 L1274 356.7 L1276 355.5 L1278 354.3 L1280 353.2 L1282 352 L1284 350.8 L1286 349.6 L1288 348.5 L1290 347.4 L1292 346.2 L1294 345.1 L1296 343.9 L1298 342.7 L1300 341.6 L1302 340.5 L1304 339.3 L1306 338.2 L1308 337.1 L1310 336 L1312 334.9 L1314 333.9 L1316 332.8 L1318 331.8 L1320 330.8 L1322 329.8 L1324 328.8 L1326 327.8 L1328 326.8 L1330 325.7 L1332 324.7 L1334 323.7 L1336 322.7 L1338 321.7 L1340 320.7 L1342 319.7 L1344 318.7 L1346 317.7 L1348 316.7 L1350 315.7 L1352 314.7 L1354 313.8 L1356 312.8 L1358 311.9 L1360 310.9 L1362 309.9 L1364 309 L1366 308.1 L1368 307.1 L1370 306.2 L1372 305.3 L1374 304.4 L1376 303.5 L1378 302.7 L1380 301.8 L1382 300.9 L1384 300.1 L1386 299.3 L1388 298.5 L1390 297.6 L1392 296.8 L1394 296 L1396 295.3 L1398 294.5 L1400 293.7 L1402 292.9 L1404 292.2 L1406 291.4 L1408 290.6 L1410 289.9 L1412 289.1 L1414 288.4 L1416 287.6 L1418 286.8 L1420 286.1 L1422 285.3 L1424 284.6 L1426 283.8 L1428 283.1 L1430 282.4 L1432 281.6 L1434 280.9 L1436 280.2 L1438 279.5 L1440 278.8 L1442 278.1 L1444 277.4 L1446 276.7 L1448 276 L1450 275.3 L1452 274.7 L1454 274 L1456 273.3 L1458 272.6 L1460 272 L1462 271.3 L1464 270.7 L1466 270 L1468 269.4 L1470 268.7 L1472 268.1 L1474 267.5 L1476 266.8 L1478 266.2 L1480 265.6 L1482 265 L1484 264.4 L1486 263.8 L1488 263.3 L1490 262.7 L1492 262.1 L1494 261.5 L1496 260.9 L1498 260.3 L1500 259.7 L1502 259.2 L1504 258.6 L1506 258 L1508 257.5 L1510 256.9 L1512 256.4 L1514 255.8 L1516 255.3 L1518 254.8 L1520 254.2 L1522 253.7 L1524 253.2 L1526 252.7 L1528 252.2 L1530 251.7 L1532 251.2 L1534 250.8 L1536 250.3 L1538 249.8 L1540 249.4 L1542 248.9 L1544 248.5 L1546 248 L1548 247.6 L1550 247.1 L1552 246.7 L1554 246.3 L1556 245.9 L1558 245.4 L1560 245 L1562 244.6 L1564 244.2 L1566 243.8 L1568 243.4 L1570 243 L1572 242.7 L1574 242.3 L1576 241.9 L1578 241.5 L1580 241.2 L1582 240.8 L1584 240.5 L1586 240.1 L1588 239.8 L1590 239.4 L1592 239.1 L1594 238.7 L1596 238.4 L1598 238 L1600 237.7 L1602 237.4 L1604 237 L1606 236.7 L1608 236.4 L1610 236 L1612 235.7 L1614 235.4 L1616 235.1 L1618 234.8 L1620 234.5 L1622 234.1 L1624 233.8 L1626 233.5 L1628 233.2 L1630 232.9 L1632 232.6 L1634 232.3 L1636 232 L1638 231.6 L1640 231.3 L1642 231 L1644 230.7 L1646 230.4 L1648 230.1 L1650 229.8 L1652 229.5 L1654 229.2 L1656 228.9 L1658 228.6 L1660 228.3 L1662 228 L1664 227.7 L1666 227.4 L1668 227.1 L1670 226.8 L1672 226.5 L1674 226.2 L1676 225.9 L1678 225.6 L1680 225.4 L1682 225.1 L1684 224.8 L1686 224.6 L1688 224.3 L1690 224.1 L1692 223.8 L1694 223.6 L1696 223.3 L1698 223.1 L1700 222.8 L1702 222.6 L1704 222.4 L1706 222.1 L1708 221.9 L1710 221.7 L1712 221.5 L1714 221.2 L1716 221 L1718 220.8 L1720 220.6 L1722 220.4 L1724 220.2 L1726 220 L1728 219.8 L1730 219.6 L1732 219.4 L1734 219.2 L1736 219 L1738 218.8 L1740 218.7 L1742 218.5 L1744 218.3 L1746 218.1 L1748 217.9 L1750 217.8 L1752 217.6 L1754 217.4 L1756 217.3 L1759 217.2 L1759 277.6 L1756 277.9 L1754 278.3 L1752 278.7 L1750 279.1 L1748 279.4 L1746 279.8 L1744 280.2 L1742 280.6 L1740 281 L1738 281.5 L1736 281.9 L1734 282.3 L1732 282.7 L1730 283.2 L1728 283.6 L1726 284 L1724 284.5 L1722 285 L1720 285.4 L1718 285.9 L1716 286.3 L1714 286.8 L1712 287.3 L1710 287.8 L1708 288.2 L1706 288.7 L1704 289.2 L1702 289.7 L1700 290.2 L1698 290.7 L1696 291.2 L1694 291.7 L1692 292.2 L1690 292.7 L1688 293.2 L1686 293.7 L1684 294.2 L1682 294.7 L1680 295.3 L1678 295.8 L1676 296.3 L1674 296.8 L1672 297.4 L1670 297.9 L1668 298.4 L1666 298.9 L1664 299.5 L1662 300 L1660 300.5 L1658 301.1 L1656 301.6 L1654 302.1 L1652 302.6 L1650 303.2 L1648 303.7 L1646 304.2 L1644 304.7 L1642 305.2 L1640 305.8 L1638 306.3 L1636 306.8 L1634 307.3 L1632 307.9 L1630 308.4 L1628 308.9 L1626 309.5 L1624 310 L1622 310.5 L1620 311 L1618 311.6 L1616 312.1 L1614 312.6 L1612 313.2 L1610 313.7 L1608 314.3 L1606 314.8 L1604 315.3 L1602 315.9 L1600 316.5 L1598 317 L1596 317.6 L1594 318.1 L1592 318.7 L1590 319.3 L1588 319.8 L1586 320.4 L1584 321 L1582 321.6 L1580 322.2 L1578 322.8 L1576 323.4 L1574 324 L1572 324.6 L1570 325.2 L1568 325.8 L1566 326.4 L1564 327 L1562 327.7 L1560 328.3 L1558 329 L1556 329.6 L1554 330.3 L1552 330.9 L1550 331.6 L1548 332.3 L1546 332.9 L1544 333.6 L1542 334.3 L1540 335 L1538 335.6 L1536 336.3 L1534 337 L1532 337.8 L1530 338.5 L1528 339.2 L1526 339.9 L1524 340.6 L1522 341.4 L1520 342.1 L1518 342.9 L1516 343.6 L1514 344.4 L1512 345.2 L1510 346 L1508 346.8 L1506 347.6 L1504 348.4 L1502 349.2 L1500 350.1 L1498 350.9 L1496 351.8 L1494 352.6 L1492 353.5 L1490 354.4 L1488 355.2 L1486 356.1 L1484 357 L1482 357.9 L1480 358.8 L1478 359.7 L1476 360.6 L1474 361.5 L1472 362.4 L1470 363.4 L1468 364.3 L1466 365.3 L1464 366.3 L1462 367.3 L1460 368.3 L1458 369.3 L1456 370.3 L1454 371.4 L1452 372.4 L1450 373.5 L1448 374.5 L1446 375.6 L1444 376.7 L1442 377.8 L1440 379 L1438 380.1 L1436 381.3 L1434 382.4 L1432 383.6 L1430 384.8 L1428 386 L1426 387.2 L1424 388.4 L1422 389.7 L1420 390.9 L1418 392.1 L1416 393.4 L1414 394.7 L1412 395.9 L1410 397.2 L1408 398.5 L1406 399.8 L1404 401.1 L1402 402.4 L1400 403.7 L1398 405.1 L1396 406.4 L1394 407.8 L1392 409.1 L1390 410.5 L1388 411.9 L1386 413.3 L1384 414.7 L1382 416.1 L1380 417.6 L1378 419 L1376 420.5 L1374 422 L1372 423.6 L1370 425.1 L1368 426.6 L1366 428.2 L1364 429.8 L1362 431.4 L1360 433 L1358 434.7 L1356 436.4 L1354 438.1 L1352 439.8 L1350 441.5 L1348 443.2 L1346 445 L1344 446.7 L1342 448.5 L1340 450.3 L1338 452 L1336 453.8 L1334 455.6 L1332 457.4 L1330 459.2 L1328 461 L1326 462.8 L1324 464.6 L1322 466.4 L1320 468.2 L1318 470 L1316 471.8 L1314 473.6 L1312 475.5 L1310 477.3 L1308 479.2 L1306 481.1 L1304 482.9 L1302 484.8 L1300 486.7 L1298 488.6 L1296 490.5 L1294 492.5 L1292 494.4 L1290 496.4 L1288 498.4 L1286 500.4 L1284 502.4 L1282 504.5 L1280 506.6 L1278 508.7 L1276 510.9 L1274 513 L1272 515.2 L1270 517.4 L1268 519.7 L1266 522 L1264 524.3 L1262 526.7 L1260 529.1 L1258 531.5 L1256 534 L1254 536.5 L1252 539 L1250 541.6 L1248 544.2 L1246 546.9 L1244 549.6 L1242 552.3 L1240 555.1 L1238 558 L1236 560.9 L1234 563.9 L1232 566.9 L1230 570 L1228 573.2 L1226 576.4 L1224 579.6 L1222 582.8 L1220 586.1 L1218 589.4 L1216 592.6 L1214 595.9 L1212 599.3 L1210 602.6 L1208 605.9 L1206 609.3 L1204 612.7 L1202 616.2 L1200 619.8 L1198 623.4 L1196 627.2 L1194 631 L1192 634.8 L1190 638.7 L1188 642.7 L1186 646.8 L1184 650.9 L1182 655.1 L1180 659.3 L1178 663.6 L1176 668 L1174 672.4 L1172 676.9 L1170 681.4 L1168 685.8 L1166 690.4 L1164 695 L1162 699.6 L1160 704.4 L1158 709.2 L1156 714.2 L1154 719.2 L1152 724.4 L1150 729.7 L1148 735 L1146 740.5 L1144 746.1 L1142 751.7 L1140 757.3 L1138 763 L1136 768.7 L1134 774.6 L1132 780.8 L1130 787.1 L1128 793.6 L1126 800.2 L1124 806.9 L1122 813.5 L1120 820.1 L1118 826.7 L1116 833.1 L1114 839.5 L1112 846 L1110 852.5 L1108 859 L1106 865.6 L1104 872.2 L1102 879 L1100 885.9 L1098 892.9 L1096 899.8 L1094 906.4 L1092 912.8 L1090 919.2 L1088 925.7 L1086 932.3 L1084 939 L1082 945.9 L1080 953 L1078 960.2 L1076 967.4 L1074 974.7 L1072 981.9 L1070 989.3 L1068 996.8 L1066 1004.4 L1064 1012.4 L1062 1020.6 L1060 1029.2 L1058 1038.2 L1056 1047.5 L1054 1057.2 L1052 1067.2 L1050 1077.6 L1048 1088.3 L1046 1098.9 L1044 1109.2 L1042 1116.8 L1040 1121.2 L1038 1123.9 L1036 1126.6 L1034 1131.1 L1032 1136 L1030 1138.4 L1028 1135.6 L1026 1128.5Z" fill="rgba(0,0,255,0.05)"/>
<path d="M1026 1128 L1028 1078.1 L1030 1037.9 L1032 1008.5 L1034 984.4 L1036 966 L1038 949.2 L1040 933.5 L1042 919 L1044 906 L1046 893.7 L1048 882 L1050 870.5 L1052 859.2 L1054 847.8 L1056 836.4 L1058 825.4 L1060 814.9 L1062 804.9 L1064 795.2 L1066 785.6 L1068 776.2 L1070 766.8 L1072 757.4 L1074 748 L1076 738.4 L1078 728.8 L1080 719.1 L1082 709.4 L1084 699.7 L1086 689.9 L1088 680.2 L1090 671.1 L1092 662.5 L1094 654.2 L1096 646.3 L1098 638.7 L1100 631.4 L1102 624.5 L1104 618 L1106 611.7 L1108 605.6 L1110 599.5 L1112 593.5 L1114 587.4 L1116 581.3 L1118 575.2 L1120 569.2 L1122 563.5 L1124 557.9 L1126 552.3 L1128 546.9 L1130 541.6 L1132 536.3 L1134 531.3 L1136 526.4 L1138 521.8 L1140 517.2 L1142 512.6 L1144 507.9 L1146 503.2 L1148 498.6 L1150 494.1 L1152 489.7 L1154 485.4 L1156 481.3 L1158 477.3 L1160 473.4 L1162 469.8 L1164 466.2 L1166 462.7 L1168 459.4 L1170 456.2 L1172 453 L1174 450 L1176 446.9 L1178 444 L1180 441.1 L1182 438.4 L1184 435.7 L1186 433.1 L1188 430.6 L1190 428.2 L1192 425.8 L1194 423.5 L1196 421.1 L1198 418.9 L1200 416.7 L1202 414.5 L1204 412.5 L1206 410.5 L1208 408.5 L1210 406.5 L1212 404.5 L1214 402.5 L1216 400.6 L1218 398.6 L1220 396.7 L1222 394.7 L1224 392.8 L1226 390.8 L1228 388.8 L1230 386.9 L1232 384.9 L1234 383 L1236 381.1 L1238 379.2 L1240 377.3 L1242 375.5 L1244 373.7 L1246 372 L1248 370.4 L1250 368.8 L1252 367.3 L1254 365.8 L1256 364.4 L1258 363 L1260 361.7 L1262 360.4 L1264 359.2 L1266 358 L1268 356.8 L1270 355.6 L1272 354.4 L1274 353.2 L1276 352.1 L1278 350.9 L1280 349.7 L1282 348.5 L1284 347.4 L1286 346.2 L1288 345 L1290 343.9 L1292 342.8 L1294 341.6 L1296 340.5 L1298 339.3 L1300 338.1 L1302 337 L1304 335.9 L1306 334.8 L1308 333.7 L1310 332.6 L1312 331.5 L1314 330.4 L1316 329.4 L1318 328.3 L1320 327.3 L1322 326.3 L1324 325.3 L1326 324.3 L1328 323.3 L1330 322.3 L1332 321.3 L1334 320.2 L1336 319.2 L1338 318.2 L1340 317.2 L1342 316.2 L1344 315.2 L1346 314.2 L1348 313.2 L1350 312.3 L1352 311.3 L1354 310.3 L1356 309.4 L1358 308.4 L1360 307.4 L1362 306.5 L1364 305.5 L1366 304.6 L1368 303.7 L1370 302.8 L1372 301.9 L1374 301 L1376 300.1 L1378 299.2 L1380 298.3 L1382 297.5 L1384 296.6 L1386 295.8 L1388 295 L1390 294.2 L1392 293.4 L1394 292.6 L1396 291.8 L1398 291 L1400 290.2 L1402 289.5 L1404 288.7 L1406 287.9 L1408 287.2 L1410 286.4 L1412 285.7 L1414 284.9 L1416 284.1 L1418 283.4 L1420 282.6 L1422 281.9 L1424 281.1 L1426 280.4 L1428 279.6 L1430 278.9 L1432 278.2 L1434 277.5 L1436 276.8 L1438 276.1 L1440 275.4 L1442 274.7 L1444 274 L1446 273.3 L1448 272.6 L1450 271.9 L1452 271.2 L1454 270.5 L1456 269.9 L1458 269.2 L1460 268.5 L1462 267.9 L1464 267.2 L1466 266.6 L1468 265.9 L1470 265.3 L1472 264.6 L1474 264 L1476 263.4 L1478 262.8 L1480 262.1 L1482 261.6 L1484 261 L1486 260.4 L1488 259.8 L1490 259.2 L1492 258.6 L1494 258 L1496 257.4 L1498 256.9 L1500 256.3 L1502 255.7 L1504 255.1 L1506 254.6 L1508 254 L1510 253.5 L1512 252.9 L1514 252.4 L1516 251.8 L1518 251.3 L1520 250.8 L1522 250.3 L1524 249.8 L1526 249.3 L1528 248.8 L1530 248.3 L1532 247.8 L1534 247.3 L1536 246.8 L1538 246.4 L1540 245.9 L1542 245.5 L1544 245 L1546 244.6 L1548 244.1 L1550 243.7 L1552 243.3 L1554 242.8 L1556 242.4 L1558 242 L1560 241.6 L1562 241.2 L1564 240.7 L1566 240.4 L1568 240 L1570 239.6 L1572 239.2 L1574 238.8 L1576 238.4 L1578 238.1 L1580 237.7 L1582 237.4 L1584 237 L1586 236.6 L1588 236.3 L1590 235.9 L1592 235.6 L1594 235.3 L1596 234.9 L1598 234.6 L1600 234.2 L1602 233.9 L1604 233.6 L1606 233.2 L1608 232.9 L1610 232.6 L1612 232.3 L1614 231.9 L1616 231.6 L1618 231.3 L1620 231 L1622 230.7 L1624 230.4 L1626 230.1 L1628 229.7 L1630 229.4 L1632 229.1 L1634 228.8 L1636 228.5 L1638 228.2 L1640 227.9 L1642 227.6 L1644 227.3 L1646 227 L1648 226.7 L1650 226.4 L1652 226.1 L1654 225.8 L1656 225.5 L1658 225.2 L1660 224.8 L1662 224.5 L1664 224.2 L1666 223.9 L1668 223.6 L1670 223.3 L1672 223 L1674 222.7 L1676 222.5 L1678 222.2 L1680 221.9 L1682 221.6 L1684 221.4 L1686 221.1 L1688 220.9 L1690 220.6 L1692 220.3 L1694 220.1 L1696 219.9 L1698 219.6 L1700 219.4 L1702 219.1 L1704 218.9 L1706 218.7 L1708 218.4 L1710 218.2 L1712 218 L1714 217.8 L1716 217.6 L1718 217.4 L1720 217.2 L1722 216.9 L1724 216.7 L1726 216.5 L1728 216.3 L1730 216.1 L1732 216 L1734 215.8 L1736 215.6 L1738 215.4 L1740 215.2 L1742 215 L1744 214.8 L1746 214.7 L1748 214.5 L1750 214.3 L1752 214.1 L1754 214 L1756 213.8 L1759 213.8 L1759 270.1 L1756 270.5 L1754 270.9 L1752 271.3 L1750 271.6 L1748 272 L1746 272.4 L1744 272.9 L1742 273.3 L1740 273.7 L1738 274.1 L1736 274.5 L1734 275 L1732 275.4 L1730 275.8 L1728 276.3 L1726 276.7 L1724 277.1 L1722 277.6 L1720 278 L1718 278.5 L1716 279 L1714 279.4 L1712 279.9 L1710 280.4 L1708 280.8 L1706 281.3 L1704 281.8 L1702 282.3 L1700 282.8 L1698 283.2 L1696 283.7 L1694 284.2 L1692 284.7 L1690 285.2 L1688 285.7 L1686 286.2 L1684 286.7 L1682 287.2 L1680 287.8 L1678 288.3 L1676 288.8 L1674 289.3 L1672 289.8 L1670 290.4 L1668 290.9 L1666 291.4 L1664 292 L1662 292.5 L1660 293 L1658 293.6 L1656 294.1 L1654 294.7 L1652 295.2 L1650 295.7 L1648 296.2 L1646 296.8 L1644 297.3 L1642 297.9 L1640 298.4 L1638 299 L1636 299.5 L1634 300.1 L1632 300.6 L1630 301.2 L1628 301.7 L1626 302.3 L1624 302.9 L1622 303.4 L1620 304 L1618 304.6 L1616 305.1 L1614 305.7 L1612 306.3 L1610 306.8 L1608 307.4 L1606 308 L1604 308.6 L1602 309.2 L1600 309.8 L1598 310.3 L1596 310.9 L1594 311.5 L1592 312.1 L1590 312.7 L1588 313.3 L1586 313.9 L1584 314.5 L1582 315.1 L1580 315.7 L1578 316.3 L1576 316.9 L1574 317.5 L1572 318.1 L1570 318.7 L1568 319.3 L1566 319.9 L1564 320.5 L1562 321.1 L1560 321.7 L1558 322.3 L1556 323 L1554 323.6 L1552 324.2 L1550 324.8 L1548 325.4 L1546 326.1 L1544 326.7 L1542 327.3 L1540 327.9 L1538 328.6 L1536 329.2 L1534 329.9 L1532 330.5 L1530 331.2 L1528 331.8 L1526 332.5 L1524 333.2 L1522 333.8 L1520 334.5 L1518 335.2 L1516 335.9 L1514 336.7 L1512 337.4 L1510 338.1 L1508 338.8 L1506 339.6 L1504 340.3 L1502 341.1 L1500 341.9 L1498 342.7 L1496 343.5 L1494 344.3 L1492 345.1 L1490 345.9 L1488 346.7 L1486 347.5 L1484 348.4 L1482 349.2 L1480 350 L1478 350.9 L1476 351.8 L1474 352.7 L1472 353.6 L1470 354.6 L1468 355.5 L1466 356.5 L1464 357.5 L1462 358.5 L1460 359.5 L1458 360.5 L1456 361.5 L1454 362.6 L1452 363.6 L1450 364.7 L1448 365.8 L1446 366.9 L1444 368 L1442 369.1 L1440 370.3 L1438 371.4 L1436 372.5 L1434 373.7 L1432 374.9 L1430 376 L1428 377.2 L1426 378.4 L1424 379.7 L1422 380.9 L1420 382.1 L1418 383.4 L1416 384.6 L1414 385.9 L1412 387.2 L1410 388.4 L1408 389.7 L1406 391 L1404 392.2 L1402 393.5 L1400 394.8 L1398 396.1 L1396 397.4 L1394 398.7 L1392 400 L1390 401.3 L1388 402.7 L1386 404 L1384 405.4 L1382 406.7 L1380 408.2 L1378 409.6 L1376 411 L1374 412.5 L1372 414 L1370 415.5 L1368 417.1 L1366 418.6 L1364 420.2 L1362 421.8 L1360 423.4 L1358 425.1 L1356 426.7 L1354 428.3 L1352 430 L1350 431.7 L1348 433.3 L1346 435 L1344 436.7 L1342 438.4 L1340 440.1 L1338 441.8 L1336 443.5 L1334 445.3 L1332 447 L1330 448.7 L1328 450.5 L1326 452.2 L1324 453.9 L1322 455.6 L1320 457.3 L1318 459 L1316 460.7 L1314 462.4 L1312 464.2 L1310 465.9 L1308 467.7 L1306 469.4 L1304 471.2 L1302 473 L1300 474.7 L1298 476.5 L1296 478.3 L1294 480.1 L1292 481.9 L1290 483.7 L1288 485.5 L1286 487.4 L1284 489.3 L1282 491.2 L1280 493.2 L1278 495.2 L1276 497.2 L1274 499.2 L1272 501.3 L1270 503.3 L1268 505.4 L1266 507.5 L1264 509.6 L1262 511.7 L1260 513.9 L1258 516.2 L1256 518.5 L1254 520.8 L1252 523.2 L1250 525.7 L1248 528.2 L1246 530.8 L1244 533.4 L1242 536.1 L1240 538.8 L1238 541.6 L1236 544.5 L1234 547.4 L1232 550.4 L1230 553.4 L1228 556.5 L1226 559.6 L1224 562.7 L1222 565.8 L1220 568.9 L1218 572 L1216 575.1 L1214 578.3 L1212 581.4 L1210 584.5 L1208 587.6 L1206 590.8 L1204 593.9 L1202 597.2 L1200 600.5 L1198 604 L1196 607.5 L1194 611.1 L1192 614.8 L1190 618.5 L1188 622.3 L1186 626.1 L1184 630 L1182 634 L1180 638 L1178 642.2 L1176 646.4 L1174 650.6 L1172 654.9 L1170 659.2 L1168 663.6 L1166 668 L1164 672.5 L1162 677.1 L1160 681.8 L1158 686.6 L1156 691.6 L1154 696.7 L1152 702 L1150 707.4 L1148 712.9 L1146 718.5 L1144 724.2 L1142 729.9 L1140 735.6 L1138 741.3 L1136 747.1 L1134 753.1 L1132 759.4 L1130 766 L1128 772.9 L1126 779.8 L1124 786.9 L1122 793.9 L1120 801 L1118 808 L1116 814.9 L1114 821.9 L1112 828.8 L1110 835.7 L1108 842.5 L1106 849.4 L1104 856.3 L1102 863.2 L1100 870.2 L1098 877.3 L1096 884.2 L1094 890.9 L1092 897.5 L1090 904.1 L1088 911 L1086 918.3 L1084 925.7 L1082 933.2 L1080 940.9 L1078 948.6 L1076 956.2 L1074 963.7 L1072 971.1 L1070 978.4 L1068 985.7 L1066 993.2 L1064 1000.9 L1062 1008.9 L1060 1017.3 L1058 1026.1 L1056 1035.5 L1054 1045.5 L1052 1055.9 L1050 1067.3 L1048 1079.1 L1046 1091 L1044 1102.1 L1042 1110.9 L1040 1116.7 L1038 1120.9 L1036 1124.8 L1034 1129.7 L1032 1134.9 L1030 1137.4 L1028 1134.8 L1026 1128Z" fill="rgba(0,128,0,0.05)"/>
<path d="M1026 1128 L1028 1077.7 L1030 1037.1 L1032 1007.4 L1034 982.8 L1036 964.1 L1038 946.9 L1040 930.8 L1042 915.9 L1044 902.6 L1046 890.3 L1048 878.5 L1050 867 L1052 855.7 L1054 844.3 L1056 832.9 L1058 822 L1060 811.5 L1062 801.4 L1064 791.7 L1066 782.2 L1068 772.7 L1070 763.4 L1072 754 L1074 744.5 L1076 734.9 L1078 725.3 L1080 715.6 L1082 705.9 L1084 696.2 L1086 686.4 L1088 676.8 L1090 667.6 L1092 659 L1094 650.8 L1096 642.8 L1098 635.2 L1100 628 L1102 621.1 L1104 614.5 L1106 608.2 L1108 602.1 L1110 596.1 L1112 590 L1114 584 L1116 577.8 L1118 571.7 L1120 565.8 L1122 560 L1124 554.4 L1126 548.9 L1128 543.4 L1130 538.1 L1132 532.9 L1134 527.8 L1136 523 L1138 518.3 L1140 513.8 L1142 509.1 L1144 504.4 L1146 499.8 L1148 495.2 L1150 490.6 L1152 486.2 L1154 481.9 L1156 477.8 L1158 473.8 L1160 470 L1162 466.3 L1164 462.7 L1166 459.3 L1168 456 L1170 452.7 L1172 449.6 L1174 446.5 L1176 443.5 L1178 440.5 L1180 437.7 L1182 434.9 L1184 432.3 L1186 429.7 L1188 427.2 L1190 424.7 L1192 422.4 L1194 420 L1196 417.7 L1198 415.4 L1200 413.2 L1202 411.1 L1204 409 L1206 407 L1208 405 L1210 403 L1212 401 L1214 399.1 L1216 397.1 L1218 395.2 L1220 393.2 L1222 391.3 L1224 389.3 L1226 387.4 L1228 385.4 L1230 383.4 L1232 381.4 L1234 379.5 L1236 377.6 L1238 375.7 L1240 373.9 L1242 372.1 L1244 370.3 L1246 368.6 L1248 366.9 L1250 365.3 L1252 363.8 L1254 362.3 L1256 360.9 L1258 359.5 L1260 358.2 L1262 357 L1264 355.7 L1266 354.5 L1268 353.3 L1270 352.1 L1272 351 L1274 349.8 L1276 348.6 L1278 347.4 L1280 346.2 L1282 345.1 L1284 343.9 L1286 342.7 L1288 341.6 L1290 340.4 L1292 339.3 L1294 338.2 L1296 337 L1298 335.8 L1300 334.7 L1302 333.5 L1304 332.4 L1306 331.3 L1308 330.2 L1310 329.1 L1312 328 L1314 327 L1316 325.9 L1318 324.9 L1320 323.9 L1322 322.9 L1324 321.9 L1326 320.9 L1328 319.9 L1330 318.8 L1332 317.8 L1334 316.8 L1336 315.8 L1338 314.8 L1340 313.8 L1342 312.8 L1344 311.8 L1346 310.8 L1348 309.8 L1350 308.8 L1352 307.8 L1354 306.9 L1356 305.9 L1358 304.9 L1360 304 L1362 303 L1364 302.1 L1366 301.1 L1368 300.2 L1370 299.3 L1372 298.4 L1374 297.5 L1376 296.6 L1378 295.7 L1380 294.9 L1382 294 L1384 293.2 L1386 292.4 L1388 291.5 L1390 290.7 L1392 289.9 L1394 289.1 L1396 288.3 L1398 287.6 L1400 286.8 L1402 286 L1404 285.3 L1406 284.5 L1408 283.7 L1410 283 L1412 282.2 L1414 281.4 L1416 280.7 L1418 279.9 L1420 279.2 L1422 278.4 L1424 277.7 L1426 276.9 L1428 276.2 L1430 275.5 L1432 274.7 L1434 274 L1436 273.3 L1438 272.6 L1440 271.9 L1442 271.2 L1444 270.5 L1446 269.8 L1448 269.1 L1450 268.4 L1452 267.7 L1454 267.1 L1456 266.4 L1458 265.7 L1460 265.1 L1462 264.4 L1464 263.8 L1466 263.1 L1468 262.5 L1470 261.8 L1472 261.2 L1474 260.5 L1476 259.9 L1478 259.3 L1480 258.7 L1482 258.1 L1484 257.5 L1486 256.9 L1488 256.3 L1490 255.8 L1492 255.2 L1494 254.6 L1496 254 L1498 253.4 L1500 252.8 L1502 252.2 L1504 251.7 L1506 251.1 L1508 250.5 L1510 250 L1512 249.4 L1514 248.9 L1516 248.4 L1518 247.8 L1520 247.3 L1522 246.8 L1524 246.3 L1526 245.8 L1528 245.3 L1530 244.8 L1532 244.3 L1534 243.8 L1536 243.4 L1538 242.9 L1540 242.5 L1542 242 L1544 241.6 L1546 241.1 L1548 240.7 L1550 240.2 L1552 239.8 L1554 239.4 L1556 238.9 L1558 238.5 L1560 238.1 L1562 237.7 L1564 237.3 L1566 236.9 L1568 236.5 L1570 236.1 L1572 235.7 L1574 235.4 L1576 235 L1578 234.6 L1580 234.3 L1582 233.9 L1584 233.5 L1586 233.2 L1588 232.8 L1590 232.5 L1592 232.1 L1594 231.8 L1596 231.5 L1598 231.1 L1600 230.8 L1602 230.4 L1604 230.1 L1606 229.8 L1608 229.5 L1610 229.1 L1612 228.8 L1614 228.5 L1616 228.2 L1618 227.9 L1620 227.5 L1622 227.2 L1624 226.9 L1626 226.6 L1628 226.3 L1630 226 L1632 225.7 L1634 225.4 L1636 225 L1638 224.7 L1640 224.4 L1642 224.1 L1644 223.8 L1646 223.5 L1648 223.2 L1650 222.9 L1652 222.6 L1654 222.3 L1656 222 L1658 221.7 L1660 221.4 L1662 221.1 L1664 220.7 L1666 220.4 L1668 220.1 L1670 219.8 L1672 219.6 L1674 219.3 L1676 219 L1678 218.7 L1680 218.4 L1682 218.2 L1684 217.9 L1686 217.7 L1688 217.4 L1690 217.1 L1692 216.9 L1694 216.6 L1696 216.4 L1698 216.2 L1700 215.9 L1702 215.7 L1704 215.4 L1706 215.2 L1708 215 L1710 214.8 L1712 214.5 L1714 214.3 L1716 214.1 L1718 213.9 L1720 213.7 L1722 213.5 L1724 213.3 L1726 213.1 L1728 212.9 L1730 212.7 L1732 212.5 L1734 212.3 L1736 212.1 L1738 211.9 L1740 211.7 L1742 211.6 L1744 211.4 L1746 211.2 L1748 211 L1750 210.8 L1752 210.7 L1754 210.5 L1756 210.3 L1759 210.3 L1759 272.1 L1756 272.5 L1754 272.8 L1752 273.2 L1750 273.6 L1748 274 L1746 274.4 L1744 274.8 L1742 275.2 L1740 275.7 L1738 276.1 L1736 276.5 L1734 276.9 L1732 277.4 L1730 277.8 L1728 278.2 L1726 278.7 L1724 279.1 L1722 279.6 L1720 280 L1718 280.5 L1716 280.9 L1714 281.4 L1712 281.9 L1710 282.3 L1708 282.8 L1706 283.3 L1704 283.8 L1702 284.2 L1700 284.7 L1698 285.2 L1696 285.7 L1694 286.2 L1692 286.7 L1690 287.2 L1688 287.7 L1686 288.2 L1684 288.7 L1682 289.2 L1680 289.7 L1678 290.3 L1676 290.8 L1674 291.3 L1672 291.8 L1670 292.3 L1668 292.9 L1666 293.4 L1664 293.9 L1662 294.5 L1660 295 L1658 295.6 L1656 296.1 L1654 296.6 L1652 297.2 L1650 297.7 L1648 298.2 L1646 298.8 L1644 299.3 L1642 299.8 L1640 300.4 L1638 300.9 L1636 301.5 L1634 302 L1632 302.6 L1630 303.2 L1628 303.7 L1626 304.3 L1624 304.8 L1622 305.4 L1620 306 L1618 306.5 L1616 307.1 L1614 307.7 L1612 308.2 L1610 308.8 L1608 309.4 L1606 310 L1604 310.6 L1602 311.1 L1600 311.7 L1598 312.3 L1596 312.9 L1594 313.5 L1592 314.1 L1590 314.7 L1588 315.3 L1586 315.9 L1584 316.5 L1582 317 L1580 317.6 L1578 318.2 L1576 318.8 L1574 319.4 L1572 320 L1570 320.6 L1568 321.3 L1566 321.9 L1564 322.5 L1562 323.1 L1560 323.7 L1558 324.3 L1556 324.9 L1554 325.6 L1552 326.2 L1550 326.8 L1548 327.4 L1546 328 L1544 328.7 L1542 329.3 L1540 329.9 L1538 330.6 L1536 331.2 L1534 331.8 L1532 332.5 L1530 333.1 L1528 333.8 L1526 334.5 L1524 335.1 L1522 335.8 L1520 336.5 L1518 337.2 L1516 337.9 L1514 338.6 L1512 339.3 L1510 340.1 L1508 340.8 L1506 341.6 L1504 342.3 L1502 343.1 L1500 343.9 L1498 344.7 L1496 345.5 L1494 346.3 L1492 347.1 L1490 347.9 L1488 348.7 L1486 349.5 L1484 350.3 L1482 351.2 L1480 352 L1478 352.9 L1476 353.8 L1474 354.7 L1472 355.6 L1470 356.5 L1468 357.5 L1466 358.5 L1464 359.4 L1462 360.4 L1460 361.4 L1458 362.5 L1456 363.5 L1454 364.5 L1452 365.6 L1450 366.7 L1448 367.8 L1446 368.9 L1444 370 L1442 371.1 L1440 372.2 L1438 373.4 L1436 374.5 L1434 375.7 L1432 376.8 L1430 378 L1428 379.2 L1426 380.4 L1424 381.6 L1422 382.9 L1420 384.1 L1418 385.4 L1416 386.6 L1414 387.9 L1412 389.1 L1410 390.4 L1408 391.7 L1406 392.9 L1404 394.2 L1402 395.5 L1400 396.8 L1398 398.1 L1396 399.4 L1394 400.7 L1392 402 L1390 403.3 L1388 404.6 L1386 406 L1384 407.3 L1382 408.7 L1380 410.1 L1378 411.6 L1376 413 L1374 414.5 L1372 416 L1370 417.5 L1368 419.1 L1366 420.6 L1364 422.2 L1362 423.8 L1360 425.4 L1358 427 L1356 428.7 L1354 430.3 L1352 432 L1350 433.6 L1348 435.3 L1346 437 L1344 438.7 L1342 440.4 L1340 442.1 L1338 443.8 L1336 445.5 L1334 447.2 L1332 449 L1330 450.7 L1328 452.4 L1326 454.2 L1324 455.9 L1322 457.6 L1320 459.3 L1318 461 L1316 462.7 L1314 464.4 L1312 466.2 L1310 467.9 L1308 469.7 L1306 471.4 L1304 473.2 L1302 474.9 L1300 476.7 L1298 478.5 L1296 480.3 L1294 482 L1292 483.8 L1290 485.6 L1288 487.5 L1286 489.4 L1284 491.3 L1282 493.2 L1280 495.2 L1278 497.2 L1276 499.2 L1274 501.2 L1272 503.3 L1270 505.3 L1268 507.4 L1266 509.5 L1264 511.6 L1262 513.7 L1260 515.9 L1258 518.2 L1256 520.4 L1254 522.8 L1252 525.2 L1250 527.7 L1248 530.2 L1246 532.7 L1244 535.4 L1242 538 L1240 540.8 L1238 543.6 L1236 546.5 L1234 549.4 L1232 552.4 L1230 555.4 L1228 558.5 L1226 561.6 L1224 564.7 L1222 567.8 L1220 570.9 L1218 574 L1216 577.1 L1214 580.2 L1212 583.4 L1210 586.5 L1208 589.6 L1206 592.8 L1204 595.9 L1202 599.2 L1200 602.5 L1198 606 L1196 609.5 L1194 613.1 L1192 616.8 L1190 620.5 L1188 624.3 L1186 628.1 L1184 632 L1182 636 L1180 640 L1178 644.2 L1176 648.4 L1174 652.6 L1172 656.9 L1170 661.2 L1168 665.5 L1166 670 L1164 674.5 L1162 679.1 L1160 683.8 L1158 688.6 L1156 693.6 L1154 698.7 L1152 704 L1150 709.4 L1148 714.9 L1146 720.5 L1144 726.2 L1142 731.9 L1140 737.6 L1138 743.3 L1136 749 L1134 755 L1132 761.4 L1130 768 L1128 774.8 L1126 781.8 L1124 788.8 L1122 795.9 L1120 802.9 L1118 810 L1116 816.9 L1114 823.8 L1112 830.7 L1110 837.6 L1108 844.5 L1106 851.4 L1104 858.2 L1102 865.2 L1100 872.2 L1098 879.2 L1096 886.2 L1094 892.9 L1092 899.4 L1090 906.1 L1088 913 L1086 920.3 L1084 927.7 L1082 935.2 L1080 942.9 L1078 950.6 L1076 958.2 L1074 965.7 L1072 973.1 L1070 980.4 L1068 987.7 L1066 995.2 L1064 1002.9 L1062 1010.9 L1060 1019.2 L1058 1028.1 L1056 1037.5 L1054 1047.4 L1052 1057.9 L1050 1069.2 L1048 1081.1 L1046 1092.9 L1044 1104.1 L1042 1112.7 L1040 1118.2 L1038 1122.2 L1036 1125.9 L1034 1130.6 L1032 1135.5 L1030 1137.9 L1028 1135.1 L1026 1128Z" fill="rgba(0,128,0,0.05)"/>
<path class="ln" stroke="#1f77b4" d="M1026 1128 L1026.5 1125 L1027 1122.1 L1027.5 1119.1 L1028 1116.2 L1028.4 1113.2 L1028.9 1110.2 L1029.4 1107.3 L1029.9 1104.3 L1030.3 1101.3 L1030.8 1098.4 L1031.3 1095.4 L1031.8 1092.4 L1032.2 1089.5 L1032.7 1086.5 L1033.2 1083.6 L1033.7 1080.6 L1034.1 1077.6 L1034.6 1074.7 L1035.1 1071.7 L1035.6 1068.7 L1036.1 1065.8 L1036.5 1062.8 L1037 1059.8 L1037.5 1056.9 L1038 1053.9 L1038.5 1050.9 L1039 1048 L1039.5 1045 L1040 1042.1 L1040.5 1039.1 L1041.1 1036.2 L1041.6 1033.2 L1042.1 1030.2 L1042.6 1027.3 L1043.2 1024.3 L1043.7 1021.4 L1044.3 1018.4 L1044.8 1015.5 L1045.4 1012.5 L1046 1009.6 L1046.6 1006.6 L1047.1 1003.7 L1047.7 1000.8 L1048.3 997.8 L1048.9 994.9 L1049.5 991.9 L1050.1 989 L1050.7 986 L1051.3 983.1 L1051.9 980.2 L1052.5 977.2 L1053.1 974.3 L1053.7 971.3 L1054.3 968.4 L1054.9 965.4 L1055.5 962.5 L1056.1 959.6 L1056.7 956.6 L1057.3 953.7 L1057.9 950.7 L1058.5 947.8 L1059.2 944.8 L1059.8 941.9 L1060.4 939 L1061 936 L1061.6 933.1 L1062.3 930.2 L1062.9 927.2 L1063.5 924.3 L1064.2 921.4 L1064.8 918.4 L1065.5 915.5 L1066.2 912.6 L1066.8 909.6 L1067.5 906.7 L1068.2 903.8 L1068.9 900.9 L1069.6 898 L1070.3 895 L1071 892.1 L1071.7 889.2 L1072.5 886.3 L1073.2 883.4 L1073.9 880.5 L1074.7 877.6 L1075.4 874.7 L1076.2 871.7 L1076.9 868.8 L1077.7 865.9 L1078.4 863 L1079.2 860.1 L1079.9 857.2 L1080.7 854.3 L1081.4 851.4 L1082.2 848.5 L1082.9 845.6 L1083.6 842.7 L1084.4 839.7 L1085.1 836.8 L1085.9 833.9 L1086.6 831 L1087.3 828.1 L1088.1 825.2 L1088.8 822.3 L1089.6 819.4 L1090.4 816.5 L1091.1 813.6 L1091.9 810.7 L1092.7 807.8 L1093.4 804.9 L1094.2 802 L1095 799.1 L1095.8 796.2 L1096.6 793.3 L1097.4 790.4 L1098.2 787.5 L1099 784.6 L1099.8 781.7 L1100.6 778.8 L1101.4 775.9 L1102.3 773 L1103.1 770.1 L1103.9 767.3 L1104.8 764.4 L1105.6 761.5 L1106.5 758.6 L1107.4 755.8 L1108.3 752.9 L1109.2 750 L1110.1 747.2 L1111 744.3 L1111.9 741.5 L1112.9 738.6 L1113.9 735.8 L1114.8 732.9 L1115.8 730.1 L1116.8 727.2 L1117.8 724.4 L1118.8 721.6 L1119.8 718.7 L1120.8 715.9 L1121.8 713.1 L1122.8 710.3 L1123.8 707.4 L1124.9 704.6 L1125.9 701.8 L1126.9 699 L1127.9 696.2 L1129 693.3 L1130 690.5 L1131 687.7 L1132 684.9 L1133 682 L1134 679.2 L1135.1 676.4 L1136.1 673.5 L1137.1 670.7 L1138.1 667.9 L1139.1 665 L1140.1 662.2 L1141.1 659.4 L1142.1 656.5 L1143.1 653.7 L1144.1 650.9 L1145.1 648.1 L1146.2 645.3 L1147.2 642.4 L1148.3 639.6 L1149.4 636.8 L1150.4 634 L1151.5 631.2 L1152.7 628.5 L1153.8 625.7 L1154.9 622.9 L1156.1 620.1 L1157.3 617.4 L1158.5 614.6 L1159.7 611.9 L1160.9 609.1 L1162.1 606.4 L1163.4 603.7 L1164.6 600.9 L1165.9 598.2 L1167.2 595.5 L1168.4 592.8 L1169.7 590.1 L1171 587.3 L1172.3 584.6 L1173.6 581.9 L1174.9 579.2 L1176.2 576.5 L1177.5 573.8 L1178.9 571.1 L1180.2 568.4 L1181.5 565.7 L1182.8 563 L1184.2 560.3 L1185.6 557.6 L1187 555 L1188.4 552.3 L1189.9 549.7 L1191.4 547.1 L1192.9 544.5 L1194.4 542 L1196 539.4 L1197.6 536.9 L1199.2 534.4 L1200.8 531.9 L1202.5 529.4 L1204.2 527 L1206 524.5 L1207.7 522.1 L1209.5 519.7 L1211.3 517.3 L1213.1 514.9 L1214.9 512.5 L1216.7 510.1 L1218.6 507.8 L1220.4 505.4 L1222.3 503 L1224.1 500.7 L1226 498.3 L1227.9 495.9 L1229.7 493.6 L1231.6 491.2 L1233.4 488.9 L1235.3 486.5 L1237.2 484.1 L1239 481.8 L1240.8 479.4 L1242.7 477 L1244.6 474.7 L1246.4 472.3 L1248.3 470 L1250.3 467.7 L1252.2 465.4 L1254.1 463.2 L1256.1 460.9 L1258.1 458.7 L1260.1 456.4 L1262.1 454.2 L1264.1 452 L1266.2 449.9 L1268.2 447.7 L1270.3 445.5 L1272.4 443.4 L1274.5 441.3 L1276.7 439.1 L1278.8 437.1 L1281 435 L1283.2 433 L1285.4 431 L1287.7 429 L1290 427 L1292.2 425.1 L1294.5 423.2 L1296.8 421.3 L1299.1 419.4 L1301.5 417.5 L1303.8 415.6 L1306.1 413.7 L1308.5 411.9 L1310.8 410 L1313.2 408.2 L1315.6 406.4 L1318 404.7 L1320.5 402.9 L1322.9 401.2 L1325.4 399.5 L1327.9 397.9 L1330.4 396.2 L1332.9 394.6 L1335.4 393 L1338 391.5 L1340.6 390 L1343.1 388.4 L1345.7 386.9 L1348.3 385.4 L1350.9 383.9 L1353.5 382.4 L1356.1 380.9 L1358.7 379.4 L1361.3 377.8 L1363.8 376.3 L1366.4 374.7 L1369 373.1 L1371.5 371.5 L1374.1 370 L1376.6 368.4 L1379.2 366.9 L1381.8 365.4 L1384.5 363.9 L1387.1 362.5 L1389.7 361.1 L1392.4 359.7 L1395 358.3 L1397.7 356.9 L1400.3 355.5 L1403 354.1 L1405.6 352.7 L1408.2 351.3 L1410.9 350 L1413.6 348.6 L1416.2 347.3 L1418.9 346 L1421.6 344.6 L1424.3 343.4 L1427 342.1 L1429.8 340.9 L1432.5 339.7 L1435.2 338.5 L1438 337.4 L1440.8 336.2 L1443.5 335.1 L1446.3 333.9 L1449.1 332.8 L1451.8 331.7 L1454.6 330.5 L1457.4 329.4 L1460.2 328.3 L1462.9 327.2 L1465.7 326 L1468.5 324.9 L1471.3 323.8 L1474.1 322.7 L1476.8 321.5 L1479.6 320.4 L1482.4 319.3 L1485.2 318.2 L1488 317.1 L1490.8 316.1 L1493.7 315.1 L1496.5 314.1 L1499.3 313.1 L1502.2 312.1 L1505 311.1 L1507.8 310.1 L1510.7 309.1 L1513.5 308.1 L1516.3 307.1 L1519.2 306.1 L1522 305.1 L1524.8 304.1 L1527.7 303.2 L1530.5 302.2 L1533.4 301.3 L1536.2 300.3 L1539.1 299.4 L1541.9 298.5 L1544.8 297.6 L1547.7 296.7 L1550.5 295.8 L1553.4 294.9 L1556.3 294.1 L1559.2 293.3 L1562.1 292.4 L1565 291.6 L1567.9 290.9 L1570.8 290.1 L1573.7 289.3 L1576.6 288.5 L1579.5 287.8 L1582.4 287 L1585.3 286.3 L1588.2 285.6 L1591.1 284.9 L1594 284.2 L1597 283.5 L1599.9 282.8 L1602.8 282.2 L1605.7 281.5 L1608.7 280.8 L1611.6 280.2 L1614.5 279.6 L1617.5 278.9 L1620.4 278.3 L1623.3 277.7 L1626.3 277 L1629.2 276.4 L1632.1 275.7 L1635.1 275.1 L1638 274.5 L1640.9 273.8 L1643.9 273.2 L1646.8 272.5 L1649.7 271.9 L1652.7 271.3 L1655.6 270.6 L1658.5 270 L1661.5 269.3 L1664.4 268.7 L1667.3 268 L1670.3 267.4 L1673.2 266.7 L1676.1 266.1 L1679.1 265.5 L1682 264.9 L1685 264.2 L1687.9 263.6 L1690.8 263 L1693.8 262.4 L1696.7 261.8 L1699.6 261.2 L1702.6 260.6 L1705.5 260 L1708.5 259.4 L1711.4 258.8 L1714.4 258.3 L1717.3 257.7 L1720.3 257.2 L1723.2 256.7 L1726.2 256.2 L1729.2 255.7 L1732.1 255.2 L1735.1 254.8 L1738.1 254.4 L1741.1 254 L1744 253.6 L1747 253.2 L1750 252.9 L1753 252.6 L1756 252.3 L1757 252.2"/>
<path class="ln" stroke="#ff7f0e" d="M1026 1128 L1026.4 1125 L1026.8 1122.1 L1027.3 1119.1 L1027.7 1116.1 L1028.1 1113.1 L1028.6 1110.2 L1029 1107.2 L1029.4 1104.2 L1029.9 1101.3 L1030.3 1098.3 L1030.7 1095.3 L1031.2 1092.3 L1031.6 1089.4 L1032.1 1086.4 L1032.5 1083.4 L1033 1080.5 L1033.4 1077.5 L1033.9 1074.5 L1034.3 1071.6 L1034.8 1068.6 L1035.2 1065.6 L1035.7 1062.7 L1036.2 1059.7 L1036.6 1056.7 L1037.1 1053.8 L1037.5 1050.8 L1038 1047.8 L1038.4 1044.8 L1038.9 1041.9 L1039.3 1038.9 L1039.8 1035.9 L1040.2 1033 L1040.7 1030 L1041.2 1027 L1041.6 1024.1 L1042.1 1021.1 L1042.5 1018.1 L1043 1015.2 L1043.5 1012.2 L1043.9 1009.2 L1044.4 1006.3 L1044.8 1003.3 L1045.3 1000.3 L1045.7 997.4 L1046.2 994.4 L1046.7 991.4 L1047.1 988.5 L1047.6 985.5 L1048 982.5 L1048.5 979.6 L1048.9 976.6 L1049.3 973.6 L1049.8 970.6 L1050.2 967.7 L1050.7 964.7 L1051.1 961.7 L1051.5 958.8 L1052 955.8 L1052.4 952.8 L1052.9 949.9 L1053.4 946.9 L1053.9 943.9 L1054.3 941 L1054.8 938 L1055.3 935 L1055.8 932.1 L1056.3 929.1 L1056.9 926.2 L1057.4 923.2 L1057.9 920.3 L1058.5 917.3 L1059 914.4 L1059.6 911.4 L1060.2 908.5 L1060.7 905.5 L1061.3 902.6 L1061.9 899.6 L1062.5 896.7 L1063.2 893.8 L1063.8 890.8 L1064.4 887.9 L1065.1 885 L1065.8 882 L1066.4 879.1 L1067.1 876.2 L1067.8 873.3 L1068.5 870.3 L1069.2 867.4 L1069.9 864.5 L1070.6 861.6 L1071.3 858.7 L1072 855.7 L1072.7 852.8 L1073.4 849.9 L1074.1 847 L1074.8 844 L1075.5 841.1 L1076.2 838.2 L1076.9 835.3 L1077.6 832.4 L1078.4 829.4 L1079.1 826.5 L1079.8 823.6 L1080.6 820.7 L1081.4 817.8 L1082.1 814.9 L1082.9 812 L1083.7 809.1 L1084.6 806.3 L1085.4 803.4 L1086.3 800.5 L1087.1 797.6 L1088 794.8 L1088.9 791.9 L1089.8 789 L1090.7 786.2 L1091.6 783.3 L1092.6 780.5 L1093.6 777.7 L1094.6 774.8 L1095.6 772 L1096.7 769.2 L1097.8 766.4 L1098.9 763.6 L1100 760.8 L1101.1 758 L1102.2 755.2 L1103.3 752.4 L1104.4 749.7 L1105.6 746.9 L1106.7 744.1 L1107.8 741.3 L1108.9 738.5 L1110 735.7 L1111 732.9 L1112.1 730.1 L1113.1 727.3 L1114.2 724.5 L1115.2 721.7 L1116.2 718.8 L1117.1 716 L1118.1 713.2 L1119.1 710.3 L1120 707.5 L1120.9 704.6 L1121.9 701.8 L1122.8 698.9 L1123.7 696.1 L1124.5 693.2 L1125.4 690.3 L1126.3 687.5 L1127.2 684.6 L1128 681.7 L1128.9 678.8 L1129.8 676 L1130.6 673.1 L1131.5 670.2 L1132.4 667.4 L1133.3 664.5 L1134.2 661.6 L1135.1 658.8 L1136.1 655.9 L1137 653.1 L1138 650.3 L1139 647.4 L1140.1 644.6 L1141.1 641.8 L1142.2 639 L1143.3 636.2 L1144.4 633.4 L1145.5 630.6 L1146.7 627.9 L1147.8 625.1 L1149 622.3 L1150.2 619.6 L1151.3 616.8 L1152.5 614 L1153.7 611.3 L1154.8 608.5 L1156 605.7 L1157.2 603 L1158.4 600.2 L1159.6 597.4 L1160.8 594.7 L1162 591.9 L1163.2 589.2 L1164.4 586.4 L1165.6 583.7 L1166.8 580.9 L1168.1 578.2 L1169.3 575.4 L1170.6 572.7 L1171.9 570 L1173.2 567.3 L1174.5 564.6 L1175.8 561.9 L1177.2 559.3 L1178.6 556.6 L1180 554 L1181.4 551.4 L1182.9 548.7 L1184.4 546.1 L1185.9 543.6 L1187.4 541 L1189 538.4 L1190.6 535.9 L1192.2 533.4 L1193.8 530.9 L1195.5 528.4 L1197.2 525.9 L1198.9 523.5 L1200.6 521 L1202.4 518.6 L1204.1 516.1 L1205.9 513.7 L1207.7 511.3 L1209.5 508.9 L1211.3 506.5 L1213.2 504.1 L1215 501.7 L1216.9 499.4 L1218.7 497 L1220.6 494.7 L1222.5 492.3 L1224.4 490 L1226.3 487.6 L1228.1 485.3 L1230.1 483 L1232 480.7 L1233.9 478.4 L1235.9 476.1 L1237.8 473.9 L1239.8 471.6 L1241.7 469.3 L1243.7 467 L1245.7 464.8 L1247.6 462.5 L1249.6 460.3 L1251.7 458.1 L1253.7 455.9 L1255.7 453.7 L1257.8 451.5 L1259.8 449.3 L1261.9 447.1 L1263.9 444.9 L1266 442.7 L1268.1 440.5 L1270.1 438.3 L1272.2 436.1 L1274.2 434 L1276.3 431.8 L1278.4 429.6 L1280.5 427.5 L1282.6 425.3 L1284.7 423.2 L1286.8 421.1 L1288.9 419 L1291.1 416.9 L1293.2 414.8 L1295.4 412.8 L1297.6 410.7 L1299.8 408.7 L1302 406.7 L1304.2 404.7 L1306.5 402.8 L1308.7 400.8 L1311 398.9 L1313.3 397 L1315.6 395.1 L1318 393.3 L1320.3 391.4 L1322.7 389.6 L1325.1 387.8 L1327.5 386 L1329.9 384.3 L1332.4 382.6 L1334.9 380.9 L1337.4 379.2 L1339.9 377.6 L1342.4 376 L1344.9 374.4 L1347.5 372.8 L1350 371.2 L1352.6 369.6 L1355.2 368.1 L1357.8 366.6 L1360.5 365.1 L1363.1 363.7 L1365.7 362.2 L1368.3 360.7 L1370.9 359.2 L1373.6 357.8 L1376.2 356.3 L1378.8 354.9 L1381.5 353.5 L1384.1 352 L1386.8 350.6 L1389.4 349.3 L1392.1 347.9 L1394.8 346.5 L1397.5 345.2 L1400.2 343.9 L1402.9 342.5 L1405.6 341.2 L1408.3 339.9 L1411 338.7 L1413.7 337.4 L1416.4 336.1 L1419.2 334.9 L1421.9 333.7 L1424.7 332.4 L1427.4 331.2 L1430.2 330 L1432.9 328.8 L1435.7 327.7 L1438.4 326.5 L1441.2 325.3 L1444 324.1 L1446.7 323 L1449.5 321.8 L1452.3 320.7 L1455.1 319.6 L1457.9 318.5 L1460.7 317.4 L1463.5 316.4 L1466.3 315.3 L1469.1 314.2 L1471.9 313.2 L1474.7 312.2 L1477.6 311.2 L1480.4 310.1 L1483.2 309.1 L1486.1 308.2 L1488.9 307.2 L1491.8 306.2 L1494.6 305.3 L1497.5 304.3 L1500.3 303.4 L1503.2 302.5 L1506 301.6 L1508.9 300.7 L1511.8 299.8 L1514.6 298.9 L1517.5 298.1 L1520.4 297.2 L1523.3 296.4 L1526.2 295.6 L1529.1 294.8 L1531.9 294 L1534.8 293.2 L1537.7 292.4 L1540.6 291.6 L1543.5 290.8 L1546.4 290 L1549.3 289.2 L1552.2 288.5 L1555.1 287.7 L1558.1 287 L1561 286.3 L1563.9 285.5 L1566.8 284.8 L1569.7 284.1 L1572.6 283.4 L1575.6 282.7 L1578.5 282 L1581.4 281.3 L1584.3 280.6 L1587.3 280 L1590.2 279.3 L1593.1 278.6 L1596 278 L1599 277.3 L1601.9 276.7 L1604.8 276.1 L1607.8 275.4 L1610.7 274.8 L1613.7 274.2 L1616.6 273.6 L1619.5 273 L1622.5 272.4 L1625.4 271.8 L1628.4 271.2 L1631.3 270.6 L1634.2 270 L1637.2 269.4 L1640.1 268.7 L1643 268.1 L1646 267.5 L1648.9 266.9 L1651.8 266.2 L1654.8 265.6 L1657.7 264.9 L1660.6 264.3 L1663.6 263.6 L1666.5 262.9 L1669.4 262.3 L1672.3 261.6 L1675.3 260.9 L1678.2 260.3 L1681.1 259.6 L1684.1 259 L1687 258.3 L1689.9 257.6 L1692.8 257 L1695.8 256.3 L1698.7 255.6 L1701.6 255 L1704.6 254.4 L1707.5 253.8 L1710.4 253.2 L1713.4 252.6 L1716.3 252 L1719.3 251.4 L1722.2 250.9 L1725.2 250.4 L1728.1 249.9 L1731.1 249.4 L1734 249 L1737 248.6 L1740 248.2 L1743 247.8 L1746 247.4 L1749 247.1 L1752 246.9 L1755 246.6 L1758 246.4 L1761 246.2 L1761 239.8 L1761 256.5"/>
<path class="ln" stroke="#2ca02c" d="M1026 1128 L1026.4 1125 L1026.9 1122.1 L1027.4 1119.1 L1027.8 1116.1 L1028.3 1113.2 L1028.7 1110.2 L1029.2 1107.2 L1029.6 1104.3 L1030.1 1101.3 L1030.5 1098.3 L1031 1095.4 L1031.5 1092.4 L1031.9 1089.4 L1032.4 1086.5 L1032.8 1083.5 L1033.3 1080.5 L1033.8 1077.6 L1034.2 1074.6 L1034.7 1071.6 L1035.2 1068.7 L1035.6 1065.7 L1036.1 1062.7 L1036.5 1059.8 L1037 1056.8 L1037.5 1053.8 L1037.9 1050.9 L1038.4 1047.9 L1038.9 1044.9 L1039.4 1042 L1039.9 1039 L1040.3 1036 L1040.8 1033.1 L1041.3 1030.1 L1041.8 1027.1 L1042.2 1024.2 L1042.7 1021.2 L1043.2 1018.2 L1043.6 1015.3 L1044.1 1012.3 L1044.6 1009.4 L1045.1 1006.4 L1045.5 1003.4 L1046 1000.5 L1046.5 997.5 L1047 994.5 L1047.4 991.6 L1047.9 988.6 L1048.4 985.6 L1048.8 982.7 L1049.3 979.7 L1049.7 976.7 L1050.2 973.7 L1050.6 970.8 L1051.1 967.8 L1051.6 964.8 L1052 961.9 L1052.5 958.9 L1053 955.9 L1053.5 953 L1054 950 L1054.5 947.1 L1055 944.1 L1055.6 941.2 L1056.1 938.2 L1056.6 935.2 L1057.2 932.3 L1057.8 929.3 L1058.3 926.4 L1058.9 923.5 L1059.5 920.5 L1060.1 917.6 L1060.7 914.6 L1061.3 911.7 L1061.9 908.7 L1062.5 905.8 L1063.1 902.9 L1063.7 899.9 L1064.4 897 L1065 894.1 L1065.7 891.1 L1066.3 888.2 L1067 885.3 L1067.7 882.3 L1068.4 879.4 L1069.1 876.5 L1069.8 873.6 L1070.5 870.7 L1071.3 867.8 L1072 864.9 L1072.7 861.9 L1073.5 859 L1074.2 856.1 L1075 853.2 L1075.7 850.3 L1076.4 847.4 L1077.1 844.5 L1077.9 841.6 L1078.6 838.7 L1079.4 835.7 L1080.2 832.8 L1081 829.9 L1081.7 827.1 L1082.5 824.2 L1083.3 821.3 L1084.2 818.4 L1085 815.5 L1085.8 812.6 L1086.6 809.7 L1087.4 806.8 L1088.3 803.9 L1089.1 801.1 L1089.9 798.2 L1090.8 795.3 L1091.6 792.4 L1092.5 789.5 L1093.3 786.7 L1094.2 783.8 L1095 780.9 L1095.9 778 L1096.8 775.2 L1097.7 772.3 L1098.6 769.4 L1099.5 766.6 L1100.5 763.7 L1101.4 760.9 L1102.4 758 L1103.3 755.2 L1104.3 752.3 L1105.2 749.5 L1106.2 746.6 L1107.1 743.8 L1108 740.9 L1108.9 738 L1109.8 735.2 L1110.6 732.3 L1111.4 729.4 L1112.3 726.5 L1113.1 723.6 L1113.9 720.7 L1114.7 717.9 L1115.5 715 L1116.3 712.1 L1117.1 709.2 L1117.9 706.3 L1118.7 703.4 L1119.4 700.5 L1120.2 697.6 L1121 694.7 L1121.7 691.8 L1122.5 688.9 L1123.3 686 L1124.1 683.1 L1124.9 680.2 L1125.6 677.3 L1126.5 674.4 L1127.3 671.5 L1128.1 668.6 L1129 665.7 L1129.9 662.9 L1130.8 660 L1131.7 657.2 L1132.7 654.3 L1133.7 651.5 L1134.7 648.7 L1135.7 645.9 L1136.8 643 L1137.8 640.2 L1138.9 637.4 L1140 634.7 L1141.1 631.9 L1142.3 629.1 L1143.4 626.3 L1144.5 623.5 L1145.6 620.7 L1146.7 617.9 L1147.8 615.1 L1148.9 612.3 L1150.1 609.5 L1151.2 606.8 L1152.3 604 L1153.4 601.2 L1154.6 598.4 L1155.7 595.6 L1156.8 592.8 L1158 590.1 L1159.1 587.3 L1160.3 584.5 L1161.5 581.7 L1162.7 579 L1163.8 576.2 L1165.1 573.5 L1166.3 570.7 L1167.5 568 L1168.8 565.3 L1170 562.6 L1171.4 559.9 L1172.7 557.2 L1174.1 554.5 L1175.5 551.9 L1176.9 549.3 L1178.4 546.7 L1179.9 544.1 L1181.5 541.5 L1183.1 539 L1184.7 536.5 L1186.3 533.9 L1188 531.4 L1189.6 528.9 L1191.3 526.4 L1193 524 L1194.8 521.5 L1196.5 519.1 L1198.3 516.6 L1200 514.2 L1201.8 511.8 L1203.6 509.4 L1205.4 507 L1207.2 504.6 L1209.1 502.2 L1211 499.9 L1212.9 497.6 L1214.8 495.2 L1216.7 492.9 L1218.6 490.6 L1220.5 488.3 L1222.4 485.9 L1224.3 483.6 L1226.2 481.3 L1228.1 479 L1230 476.7 L1232 474.4 L1233.9 472.2 L1235.9 469.9 L1237.9 467.6 L1239.9 465.4 L1241.9 463.2 L1243.9 461 L1246 458.8 L1248 456.6 L1250.1 454.4 L1252.1 452.2 L1254.2 450.1 L1256.3 447.9 L1258.4 445.8 L1260.4 443.6 L1262.5 441.4 L1264.6 439.2 L1266.6 437.1 L1268.7 434.9 L1270.7 432.7 L1272.8 430.5 L1274.8 428.3 L1276.9 426.1 L1278.9 423.9 L1281 421.8 L1283.1 419.6 L1285.2 417.5 L1287.3 415.3 L1289.4 413.2 L1291.6 411.1 L1293.7 409.1 L1295.9 407 L1298.1 405 L1300.3 402.9 L1302.5 400.9 L1304.7 398.9 L1306.9 396.9 L1309.2 394.9 L1311.4 393 L1313.7 391.1 L1316 389.2 L1318.4 387.3 L1320.7 385.5 L1323.1 383.6 L1325.5 381.9 L1327.9 380.1 L1330.4 378.4 L1332.9 376.6 L1335.3 374.9 L1337.8 373.2 L1340.3 371.6 L1342.8 369.9 L1345.4 368.3 L1347.9 366.7 L1350.5 365.1 L1353.1 363.6 L1355.7 362 L1358.3 360.5 L1360.8 359 L1363.4 357.5 L1366 356 L1368.7 354.5 L1371.3 353.1 L1373.9 351.7 L1376.6 350.3 L1379.2 348.9 L1381.9 347.5 L1384.6 346.2 L1387.3 344.8 L1390 343.5 L1392.7 342.2 L1395.4 340.9 L1398.1 339.7 L1400.8 338.4 L1403.6 337.2 L1406.3 335.9 L1409.1 334.7 L1411.8 333.5 L1414.6 332.3 L1417.3 331.1 L1420.1 330 L1422.9 328.8 L1425.7 327.7 L1428.4 326.5 L1431.2 325.3 L1434 324.2 L1436.7 323 L1439.5 321.9 L1442.3 320.7 L1445 319.5 L1447.8 318.3 L1450.6 317.1 L1453.3 316 L1456.1 314.8 L1458.9 313.6 L1461.7 312.5 L1464.4 311.3 L1467.2 310.2 L1470 309.1 L1472.8 308 L1475.6 306.9 L1478.4 305.9 L1481.2 304.8 L1484 303.8 L1486.9 302.8 L1489.7 301.8 L1492.5 300.8 L1495.4 299.8 L1498.2 298.8 L1501 297.9 L1503.9 296.9 L1506.7 296 L1509.6 295.1 L1512.4 294.2 L1515.3 293.3 L1518.2 292.4 L1521 291.5 L1523.9 290.6 L1526.8 289.8 L1529.6 288.9 L1532.5 288 L1535.4 287.2 L1538.3 286.3 L1541.1 285.4 L1544 284.5 L1546.9 283.6 L1549.7 282.6 L1552.6 281.7 L1555.4 280.8 L1558.3 279.8 L1561.1 278.9 L1564 277.9 L1566.8 277 L1569.7 276 L1572.5 275.1 L1575.4 274.2 L1578.3 273.3 L1581.1 272.4 L1584 271.6 L1586.9 270.7 L1589.8 269.9 L1592.7 269.1 L1595.5 268.3 L1598.4 267.6 L1601.4 266.8 L1604.3 266.1 L1607.2 265.4 L1610.1 264.7 L1613 264.1 L1616 263.4 L1618.9 262.8 L1621.8 262.2 L1624.8 261.6 L1627.7 261 L1630.7 260.4 L1633.6 259.8 L1636.6 259.2 L1639.5 258.6 L1642.5 258 L1645.4 257.4 L1648.3 256.8 L1651.3 256.2 L1654.2 255.6 L1657.2 254.9 L1660.1 254.3 L1663 253.6 L1665.9 253 L1668.9 252.3 L1671.8 251.6 L1674.7 250.9 L1677.7 250.3 L1680.6 249.6 L1683.5 249 L1686.4 248.3 L1689.4 247.7 L1692.3 247 L1695.2 246.4 L1698.2 245.7 L1701.1 245.1 L1704 244.5 L1707 243.9 L1709.9 243.3 L1712.9 242.7 L1715.8 242.1 L1718.8 241.6 L1721.7 241.1 L1724.7 240.6 L1727.6 240.1 L1730.6 239.6 L1733.6 239.1 L1736.5 238.7 L1739.5 238.3 L1742.5 237.9 L1745.5 237.6 L1748.5 237.3 L1751.5 237 L1754.5 236.7 L1756 226"/>
<path class="ln" stroke="#d62728" d="M1026 1128 L1026.4 1125 L1026.9 1122.1 L1027.3 1119.1 L1027.8 1116.1 L1028.2 1113.1 L1028.7 1110.2 L1029.1 1107.2 L1029.6 1104.2 L1030 1101.3 L1030.5 1098.3 L1030.9 1095.3 L1031.4 1092.4 L1031.8 1089.4 L1032.3 1086.4 L1032.7 1083.5 L1033.2 1080.5 L1033.7 1077.5 L1034.1 1074.5 L1034.6 1071.6 L1035 1068.6 L1035.5 1065.6 L1036 1062.7 L1036.4 1059.7 L1036.9 1056.7 L1037.4 1053.8 L1037.8 1050.8 L1038.3 1047.8 L1038.8 1044.9 L1039.2 1041.9 L1039.7 1038.9 L1040.2 1036 L1040.7 1033 L1041.1 1030 L1041.6 1027.1 L1042.1 1024.1 L1042.5 1021.1 L1043 1018.2 L1043.5 1015.2 L1044 1012.2 L1044.4 1009.3 L1044.9 1006.3 L1045.4 1003.3 L1045.8 1000.4 L1046.3 997.4 L1046.8 994.4 L1047.2 991.5 L1047.7 988.5 L1048.2 985.5 L1048.6 982.6 L1049.1 979.6 L1049.6 976.6 L1050 973.6 L1050.5 970.7 L1050.9 967.7 L1051.4 964.7 L1051.9 961.8 L1052.3 958.8 L1052.8 955.8 L1053.3 952.9 L1053.8 949.9 L1054.3 946.9 L1054.8 944 L1055.3 941 L1055.9 938.1 L1056.4 935.1 L1057 932.2 L1057.5 929.2 L1058.1 926.3 L1058.7 923.3 L1059.3 920.4 L1059.9 917.4 L1060.5 914.5 L1061.1 911.6 L1061.8 908.6 L1062.4 905.7 L1063.1 902.8 L1063.7 899.8 L1064.4 896.9 L1065.1 894 L1065.8 891.1 L1066.5 888.1 L1067.2 885.2 L1067.9 882.3 L1068.6 879.4 L1069.3 876.5 L1070.1 873.5 L1070.8 870.6 L1071.5 867.7 L1072.3 864.8 L1073 861.9 L1073.7 859 L1074.4 856 L1075.1 853.1 L1075.8 850.2 L1076.5 847.3 L1077.2 844.4 L1077.9 841.4 L1078.5 838.5 L1079.2 835.6 L1079.9 832.6 L1080.5 829.7 L1081.2 826.8 L1081.8 823.8 L1082.5 820.9 L1083.1 818 L1083.7 815 L1084.4 812.1 L1085 809.2 L1085.7 806.2 L1086.3 803.3 L1087 800.4 L1087.6 797.4 L1088.3 794.5 L1088.9 791.6 L1089.6 788.6 L1090.3 785.7 L1091 782.8 L1091.6 779.9 L1092.3 776.9 L1093 774 L1093.8 771.1 L1094.5 768.2 L1095.3 765.3 L1096.1 762.4 L1096.9 759.5 L1097.8 756.6 L1098.6 753.8 L1099.5 750.9 L1100.3 748 L1101.2 745.1 L1102.1 742.2 L1102.9 739.4 L1103.8 736.5 L1104.6 733.6 L1105.4 730.7 L1106.3 727.8 L1107.1 725 L1107.9 722.1 L1108.7 719.2 L1109.5 716.3 L1110.3 713.4 L1111.1 710.5 L1111.9 707.6 L1112.7 704.7 L1113.5 701.8 L1114.3 698.9 L1115.1 696 L1115.9 693.1 L1116.7 690.3 L1117.5 687.4 L1118.3 684.5 L1119.1 681.6 L1119.9 678.7 L1120.8 675.8 L1121.6 672.9 L1122.5 670.1 L1123.3 667.2 L1124.2 664.3 L1125.1 661.5 L1126 658.6 L1127 655.8 L1128 652.9 L1129 650.1 L1130 647.3 L1131.1 644.5 L1132.1 641.7 L1133.2 638.8 L1134.3 636 L1135.4 633.2 L1136.4 630.4 L1137.5 627.6 L1138.6 624.8 L1139.7 622 L1140.8 619.2 L1141.9 616.4 L1143 613.6 L1144.1 610.8 L1145.2 608.1 L1146.4 605.3 L1147.5 602.5 L1148.6 599.7 L1149.7 596.9 L1150.8 594.1 L1151.9 591.3 L1153 588.5 L1154.2 585.7 L1155.3 582.9 L1156.4 580.1 L1157.6 577.3 L1158.7 574.6 L1159.9 571.8 L1161.2 569.1 L1162.4 566.4 L1163.7 563.7 L1165 561 L1166.3 558.3 L1167.7 555.7 L1169.1 553 L1170.5 550.4 L1172 547.8 L1173.5 545.3 L1175.1 542.7 L1176.6 540.2 L1178.2 537.6 L1179.8 535.1 L1181.4 532.6 L1183.1 530.1 L1184.7 527.6 L1186.4 525.1 L1188.1 522.6 L1189.8 520.2 L1191.5 517.7 L1193.2 515.3 L1195 512.8 L1196.8 510.4 L1198.6 508 L1200.4 505.6 L1202.2 503.2 L1204 500.8 L1205.9 498.4 L1207.7 496.1 L1209.5 493.7 L1211.3 491.3 L1213.1 488.8 L1214.9 486.4 L1216.7 484.1 L1218.6 481.7 L1220.4 479.3 L1222.3 477 L1224.1 474.6 L1225.9 472.2 L1227.8 469.9 L1229.6 467.5 L1231.4 465.1 L1233.3 462.7 L1235.1 460.4 L1237 458 L1238.8 455.7 L1240.7 453.3 L1242.5 451 L1244.4 448.6 L1246.3 446.3 L1248.2 444 L1250.1 441.7 L1252 439.4 L1253.9 437.1 L1255.8 434.8 L1257.8 432.6 L1259.8 430.3 L1261.7 428.1 L1263.7 425.9 L1265.8 423.7 L1267.8 421.6 L1269.9 419.5 L1272.1 417.4 L1274.2 415.4 L1276.4 413.4 L1278.7 411.4 L1280.9 409.5 L1283.2 407.6 L1285.6 405.7 L1287.9 403.8 L1290.2 402 L1292.6 400.1 L1294.9 398.3 L1297.3 396.4 L1299.8 394.6 L1302.2 392.8 L1304.7 391.1 L1307.1 389.3 L1309.6 387.6 L1312 385.8 L1314.5 384.1 L1316.9 382.4 L1319.4 380.6 L1321.8 378.9 L1324.3 377.2 L1326.8 375.6 L1329.3 373.9 L1331.8 372.2 L1334.3 370.6 L1336.8 368.9 L1339.3 367.3 L1341.8 365.7 L1344.3 364.1 L1346.9 362.5 L1349.4 360.9 L1352 359.4 L1354.6 357.9 L1357.1 356.3 L1359.7 354.8 L1362.3 353.4 L1365 351.9 L1367.6 350.5 L1370.2 349 L1372.9 347.6 L1375.6 346.2 L1378.2 344.9 L1380.9 343.5 L1383.6 342.2 L1386.3 340.8 L1389 339.5 L1391.7 338.1 L1394.4 336.8 L1397.1 335.5 L1399.8 334.1 L1402.5 332.8 L1405.2 331.5 L1407.9 330.3 L1410.6 329 L1413.3 327.8 L1416.1 326.5 L1418.8 325.3 L1421.6 324.1 L1424.3 322.9 L1427.1 321.7 L1429.9 320.5 L1432.6 319.4 L1435.4 318.2 L1438.2 317.1 L1441 315.9 L1443.7 314.8 L1446.5 313.7 L1449.3 312.6 L1452.1 311.5 L1454.9 310.4 L1457.7 309.3 L1460.5 308.2 L1463.3 307.2 L1466.2 306.1 L1469 305 L1471.8 304 L1474.6 302.9 L1477.4 301.9 L1480.2 300.9 L1483.1 299.9 L1485.9 298.9 L1488.8 297.9 L1491.6 297 L1494.4 296 L1497.3 295.1 L1500.2 294.1 L1503 293.2 L1505.9 292.4 L1508.8 291.5 L1511.7 290.7 L1514.5 289.9 L1517.4 289 L1520.3 288.2 L1523.2 287.3 L1526.1 286.5 L1529 285.7 L1531.9 284.9 L1534.8 284.1 L1537.7 283.4 L1540.6 282.6 L1543.5 281.9 L1546.4 281.1 L1549.3 280.4 L1552.2 279.7 L1555.1 279 L1558 278.3 L1561 277.7 L1563.9 277 L1566.8 276.3 L1569.7 275.6 L1572.6 275 L1575.6 274.3 L1578.5 273.7 L1581.4 273 L1584.3 272.3 L1587.3 271.7 L1590.2 271.1 L1593.1 270.5 L1596.1 269.9 L1599 269.3 L1601.9 268.7 L1604.9 268.1 L1607.8 267.6 L1610.8 267 L1613.7 266.5 L1616.7 265.9 L1619.6 265.4 L1622.6 264.9 L1625.6 264.4 L1628.5 263.8 L1631.5 263.3 L1634.4 262.8 L1637.4 262.2 L1640.3 261.6 L1643.3 261 L1646.2 260.4 L1649.2 259.9 L1652.1 259.3 L1655.1 258.7 L1658 258.1 L1661 257.5 L1663.9 256.9 L1666.8 256.3 L1669.8 255.7 L1672.7 255.1 L1675.7 254.4 L1678.6 253.8 L1681.5 253.2 L1684.5 252.6 L1687.4 251.9 L1690.3 251.3 L1693.3 250.7 L1696.2 250 L1699.2 249.4 L1702.1 248.8 L1705 248.1 L1708 247.5 L1710.9 246.9 L1713.9 246.3 L1716.8 245.8 L1719.8 245.2 L1722.7 244.7 L1725.7 244.2 L1728.6 243.7 L1731.6 243.2 L1734.6 242.7 L1737.5 242.3 L1740.5 241.9 L1743.5 241.5 L1746.5 241.2 L1749.5 240.9 L1752.5 240.6 L1755.5 240.3 L1757.5 240.2 L1757.5 243"/>
</g>
<rect x="1026" y="140" width="737.8" height="988" fill="none" stroke="#383838" stroke-width="3.56"/>
<path d="M1026 1128v12.7M1206 1128v12.7M1386 1128v12.7M1566 1128v12.7M1746 1128v12.7M1026 1128h-12.7M1026 930.4h-12.7M1026 732.8h-12.7M1026 535.2h-12.7M1026 337.6h-12.7M1026 140h-12.7" stroke="#383838" stroke-width="3.46" fill="none"/>
<text x="1026" y="1180.8" font-size="36.4" text-anchor="middle">0</text>
<text x="1206" y="1180.8" font-size="36.4" text-anchor="middle">10</text>
<text x="1386" y="1180.8" font-size="36.4" text-anchor="middle">20</text>
<text x="1566" y="1180.8" font-size="36.4" text-anchor="middle">30</text>
<text x="1746" y="1180.8" font-size="36.4" text-anchor="middle">40</text>
<text x="1000.5" y="1142.8" font-size="36.4" text-anchor="end">0.0</text>
<text x="1000.5" y="944.4" font-size="36.4" text-anchor="end">0.2</text>
<text x="1000.5" y="746.6" font-size="36.4" text-anchor="end">0.4</text>
<text x="1000.5" y="548.6" font-size="36.4" text-anchor="end">0.6</text>
<text x="1000.5" y="351.6" font-size="36.4" text-anchor="end">0.8</text>
<text x="1000.5" y="154.7" font-size="36.4" text-anchor="end">1.0</text>
<text x="509.2" y="118.2" font-size="43.7" text-anchor="middle">Essay set 1</text>
<text x="1394.9" y="118.2" font-size="43.7" text-anchor="middle">Essay set 2</text>
<text x="891.5" y="1230" font-size="36.4" text-anchor="middle">Average number of comparisons per object</text>
<text transform="translate(35 634.7) rotate(-90)" font-size="36.4" text-anchor="middle" textLength="260.3" lengthAdjust="spacing">True reliability</text>
<text class="pl" x="16.2" y="36" font-size="34.2">A</text>
<text class="pl" x="886.8" y="36" font-size="34.2">B</text>
<rect x="305.8" y="886.2" width="553.7" height="223.2" rx="7.3" ry="7.3" fill="#fff" fill-opacity="0.8" stroke="#ccc" stroke-opacity="0.8" stroke-width="3.64"/>
<path class="ln" stroke="#1f77b4" style="stroke-linecap:square" d="M319.8 915.4H392.6"/>
<text x="421.5" y="927.9" font-size="36.4">random</text>
<path class="ln" stroke="#ff7f0e" style="stroke-linecap:square" d="M319.8 968.3H392.6"/>
<text x="421.5" y="980.8" font-size="36.4">adaptive</text>
<path class="ln" stroke="#2ca02c" style="stroke-linecap:square" d="M319.8 1021.6H392.6"/>
<text x="421.5" y="1034.1" font-size="36.4" textLength="408.4" lengthAdjust="spacing">progressive + random</text>
<path class="ln" stroke="#d62728" style="stroke-linecap:square" d="M319.8 1075.2H392.6"/>
<text x="421.5" y="1087.7" font-size="36.4" textLength="435.4" lengthAdjust="spacing">progressive + doc.emb.</text>
</g></svg></body></html>
